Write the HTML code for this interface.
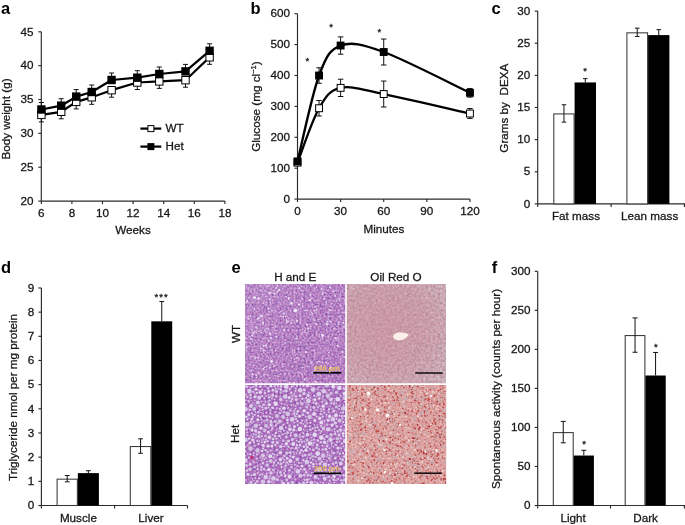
<!DOCTYPE html>
<html><head><meta charset="utf-8"><title>Figure</title>
<style>html,body{margin:0;padding:0;background:#fff}svg{display:block}text{font-family:'Liberation Sans', Arial, sans-serif}</style>
</head><body>
<svg width="685" height="525" viewBox="0 0 685 525" font-family='"Liberation Sans", Arial, sans-serif'>
<defs><clipPath id="c_hewt"><rect x="245" y="283.9" width="100.2" height="99.4"/></clipPath><clipPath id="c_orowt"><rect x="346.8" y="283.9" width="99.2" height="99.3"/></clipPath><clipPath id="c_hehet"><rect x="245" y="385" width="100.2" height="99"/></clipPath><clipPath id="c_orohet"><rect x="346.8" y="385" width="99.4" height="99"/></clipPath>
<radialGradient id="g_orowt" cx="0.4" cy="0.45" r="0.85"><stop offset="0" stop-color="#cb8494" stop-opacity="0.58"/><stop offset="0.5" stop-color="#cb8494" stop-opacity="0.45"/><stop offset="1" stop-color="#cb8c9a" stop-opacity="0.08"/></radialGradient>
<linearGradient id="g_hewt" x1="0" y1="0" x2="1" y2="1"><stop offset="0" stop-color="#c9a6d6" stop-opacity="0.25"/><stop offset="0.5" stop-color="#c9a6d6" stop-opacity="0"/><stop offset="1" stop-color="#b05cb0" stop-opacity="0.15"/></linearGradient>
<filter id="f_hewt" x="0" y="0" width="100%" height="100%" color-interpolation-filters="sRGB"><feTurbulence type="fractalNoise" baseFrequency="0.5" numOctaves="2" seed="3"/><feColorMatrix type="matrix" values="0.5 0.22 0 0 0.354  0.66 0.0 0 0 0.180  0.36 -0.04 0 0 0.609  0 0 0 0 1"/><feGaussianBlur stdDeviation="0.35"/></filter><filter id="f_orowt" x="0" y="0" width="100%" height="100%" color-interpolation-filters="sRGB"><feTurbulence type="fractalNoise" baseFrequency="0.42" numOctaves="2" seed="5"/><feColorMatrix type="matrix" values="0.3 0.0 0 0 0.638  0.42 0.22 0 0 0.378  0.4 0.18 0 0 0.443  0 0 0 0 1"/><feGaussianBlur stdDeviation="0.35"/></filter><filter id="f_hehet" x="0" y="0" width="100%" height="100%" color-interpolation-filters="sRGB"><feTurbulence type="fractalNoise" baseFrequency="0.5" numOctaves="2" seed="8"/><feColorMatrix type="matrix" values="0.36 0.2 0 0 0.391  0.48 0.0 0 0 0.191  0.25 -0.04 0 0 0.636  0 0 0 0 1"/><feGaussianBlur stdDeviation="0.35"/></filter><filter id="f_orohet" x="0" y="0" width="100%" height="100%" color-interpolation-filters="sRGB"><feTurbulence type="fractalNoise" baseFrequency="0.5" numOctaves="2" seed="9"/><feColorMatrix type="matrix" values="0.22 0.0 0 0 0.749  0.36 0.12 0 0 0.399  0.34 0.18 0 0 0.371  0 0 0 0 1"/><feGaussianBlur stdDeviation="0.35"/></filter>
<filter id="soft" x="-5%" y="-5%" width="110%" height="110%" color-interpolation-filters="sRGB"><feGaussianBlur stdDeviation="0.45"/></filter>
</defs>
<rect width="685" height="525" fill="#fff"/>
<g opacity="0.999">
<text x="1.00" y="14.40" font-size="16.5" text-anchor="start" font-weight="bold" fill="#000" >a</text>
<line x1="41.30" y1="31.80" x2="41.30" y2="201.10" stroke="#2b2b2b" stroke-width="1.15" />
<line x1="41.30" y1="201.10" x2="224.90" y2="201.10" stroke="#2b2b2b" stroke-width="1.15" />
<line x1="38.30" y1="201.10" x2="41.30" y2="201.10" stroke="#2b2b2b" stroke-width="1.15" />
<text x="33.50" y="204.80" font-size="11.7" text-anchor="end" fill="#161616"  stroke="#161616" stroke-width="0.28">20</text>
<line x1="38.30" y1="167.24" x2="41.30" y2="167.24" stroke="#2b2b2b" stroke-width="1.15" />
<text x="33.50" y="170.94" font-size="11.7" text-anchor="end" fill="#161616"  stroke="#161616" stroke-width="0.28">25</text>
<line x1="38.30" y1="133.38" x2="41.30" y2="133.38" stroke="#2b2b2b" stroke-width="1.15" />
<text x="33.50" y="137.08" font-size="11.7" text-anchor="end" fill="#161616"  stroke="#161616" stroke-width="0.28">30</text>
<line x1="38.30" y1="99.52" x2="41.30" y2="99.52" stroke="#2b2b2b" stroke-width="1.15" />
<text x="33.50" y="103.22" font-size="11.7" text-anchor="end" fill="#161616"  stroke="#161616" stroke-width="0.28">35</text>
<line x1="38.30" y1="65.66" x2="41.30" y2="65.66" stroke="#2b2b2b" stroke-width="1.15" />
<text x="33.50" y="69.36" font-size="11.7" text-anchor="end" fill="#161616"  stroke="#161616" stroke-width="0.28">40</text>
<line x1="38.30" y1="31.80" x2="41.30" y2="31.80" stroke="#2b2b2b" stroke-width="1.15" />
<text x="33.50" y="35.50" font-size="11.7" text-anchor="end" fill="#161616"  stroke="#161616" stroke-width="0.28">45</text>
<line x1="41.30" y1="201.10" x2="41.30" y2="204.10" stroke="#2b2b2b" stroke-width="1.15" />
<text x="41.30" y="216.80" font-size="11.7" text-anchor="middle" fill="#161616"  stroke="#161616" stroke-width="0.28">6</text>
<line x1="71.90" y1="201.10" x2="71.90" y2="204.10" stroke="#2b2b2b" stroke-width="1.15" />
<text x="71.90" y="216.80" font-size="11.7" text-anchor="middle" fill="#161616"  stroke="#161616" stroke-width="0.28">8</text>
<line x1="102.50" y1="201.10" x2="102.50" y2="204.10" stroke="#2b2b2b" stroke-width="1.15" />
<text x="102.50" y="216.80" font-size="11.7" text-anchor="middle" fill="#161616"  stroke="#161616" stroke-width="0.28">10</text>
<line x1="133.10" y1="201.10" x2="133.10" y2="204.10" stroke="#2b2b2b" stroke-width="1.15" />
<text x="133.10" y="216.80" font-size="11.7" text-anchor="middle" fill="#161616"  stroke="#161616" stroke-width="0.28">12</text>
<line x1="163.70" y1="201.10" x2="163.70" y2="204.10" stroke="#2b2b2b" stroke-width="1.15" />
<text x="163.70" y="216.80" font-size="11.7" text-anchor="middle" fill="#161616"  stroke="#161616" stroke-width="0.28">14</text>
<line x1="194.30" y1="201.10" x2="194.30" y2="204.10" stroke="#2b2b2b" stroke-width="1.15" />
<text x="194.30" y="216.80" font-size="11.7" text-anchor="middle" fill="#161616"  stroke="#161616" stroke-width="0.28">16</text>
<line x1="224.90" y1="201.10" x2="224.90" y2="204.10" stroke="#2b2b2b" stroke-width="1.15" />
<text x="224.90" y="216.80" font-size="11.7" text-anchor="middle" fill="#161616"  stroke="#161616" stroke-width="0.28">18</text>
<text x="133.00" y="233.60" font-size="11.7" text-anchor="middle" fill="#161616"  stroke="#161616" stroke-width="0.28">Weeks</text>
<text x="10.00" y="119.00" font-size="11.7" text-anchor="middle" transform="rotate(-90 10.00 119.00)" fill="#161616"  stroke="#161616" stroke-width="0.28">Body weight (g)</text>
<line x1="41.40" y1="114.90" x2="41.40" y2="121.90" stroke="#111" stroke-width="1" />
<line x1="38.90" y1="121.90" x2="43.90" y2="121.90" stroke="#111" stroke-width="1" />
<line x1="61.20" y1="111.80" x2="61.20" y2="118.80" stroke="#111" stroke-width="1" />
<line x1="58.70" y1="118.80" x2="63.70" y2="118.80" stroke="#111" stroke-width="1" />
<line x1="76.20" y1="101.90" x2="76.20" y2="108.90" stroke="#111" stroke-width="1" />
<line x1="73.70" y1="108.90" x2="78.70" y2="108.90" stroke="#111" stroke-width="1" />
<line x1="91.70" y1="97.30" x2="91.70" y2="104.30" stroke="#111" stroke-width="1" />
<line x1="89.20" y1="104.30" x2="94.20" y2="104.30" stroke="#111" stroke-width="1" />
<line x1="111.60" y1="90.20" x2="111.60" y2="97.20" stroke="#111" stroke-width="1" />
<line x1="109.10" y1="97.20" x2="114.10" y2="97.20" stroke="#111" stroke-width="1" />
<line x1="137.30" y1="82.50" x2="137.30" y2="89.50" stroke="#111" stroke-width="1" />
<line x1="134.80" y1="89.50" x2="139.80" y2="89.50" stroke="#111" stroke-width="1" />
<line x1="159.30" y1="81.40" x2="159.30" y2="88.40" stroke="#111" stroke-width="1" />
<line x1="156.80" y1="88.40" x2="161.80" y2="88.40" stroke="#111" stroke-width="1" />
<line x1="185.50" y1="80.20" x2="185.50" y2="87.20" stroke="#111" stroke-width="1" />
<line x1="183.00" y1="87.20" x2="188.00" y2="87.20" stroke="#111" stroke-width="1" />
<line x1="209.60" y1="57.30" x2="209.60" y2="64.30" stroke="#111" stroke-width="1" />
<line x1="207.10" y1="64.30" x2="212.10" y2="64.30" stroke="#111" stroke-width="1" />
<line x1="41.40" y1="102.50" x2="41.40" y2="109.50" stroke="#111" stroke-width="1" />
<line x1="38.90" y1="102.50" x2="43.90" y2="102.50" stroke="#111" stroke-width="1" />
<line x1="61.20" y1="98.70" x2="61.20" y2="105.70" stroke="#111" stroke-width="1" />
<line x1="58.70" y1="98.70" x2="63.70" y2="98.70" stroke="#111" stroke-width="1" />
<line x1="76.20" y1="89.60" x2="76.20" y2="96.60" stroke="#111" stroke-width="1" />
<line x1="73.70" y1="89.60" x2="78.70" y2="89.60" stroke="#111" stroke-width="1" />
<line x1="91.70" y1="85.00" x2="91.70" y2="92.00" stroke="#111" stroke-width="1" />
<line x1="89.20" y1="85.00" x2="94.20" y2="85.00" stroke="#111" stroke-width="1" />
<line x1="111.60" y1="73.00" x2="111.60" y2="80.00" stroke="#111" stroke-width="1" />
<line x1="109.10" y1="73.00" x2="114.10" y2="73.00" stroke="#111" stroke-width="1" />
<line x1="137.30" y1="70.70" x2="137.30" y2="77.70" stroke="#111" stroke-width="1" />
<line x1="134.80" y1="70.70" x2="139.80" y2="70.70" stroke="#111" stroke-width="1" />
<line x1="159.30" y1="67.00" x2="159.30" y2="74.00" stroke="#111" stroke-width="1" />
<line x1="156.80" y1="67.00" x2="161.80" y2="67.00" stroke="#111" stroke-width="1" />
<line x1="185.50" y1="64.40" x2="185.50" y2="71.40" stroke="#111" stroke-width="1" />
<line x1="183.00" y1="64.40" x2="188.00" y2="64.40" stroke="#111" stroke-width="1" />
<line x1="209.60" y1="43.80" x2="209.60" y2="50.80" stroke="#111" stroke-width="1" />
<line x1="207.10" y1="43.80" x2="212.10" y2="43.80" stroke="#111" stroke-width="1" />
<path d="M41.4,114.9 L61.2,111.8 L76.2,101.9 L91.7,97.3 L111.6,90.2 L137.3,82.5 L159.3,81.4 L185.5,80.2 L209.6,57.3" fill="none" stroke="#000" stroke-width="2.25" stroke-linejoin="round"/>
<rect x="37.70" y="111.20" width="7.40" height="7.40" fill="#fff" stroke="#000" stroke-width="1"/>
<rect x="57.50" y="108.10" width="7.40" height="7.40" fill="#fff" stroke="#000" stroke-width="1"/>
<rect x="72.50" y="98.20" width="7.40" height="7.40" fill="#fff" stroke="#000" stroke-width="1"/>
<rect x="88.00" y="93.60" width="7.40" height="7.40" fill="#fff" stroke="#000" stroke-width="1"/>
<rect x="107.90" y="86.50" width="7.40" height="7.40" fill="#fff" stroke="#000" stroke-width="1"/>
<rect x="133.60" y="78.80" width="7.40" height="7.40" fill="#fff" stroke="#000" stroke-width="1"/>
<rect x="155.60" y="77.70" width="7.40" height="7.40" fill="#fff" stroke="#000" stroke-width="1"/>
<rect x="181.80" y="76.50" width="7.40" height="7.40" fill="#fff" stroke="#000" stroke-width="1"/>
<rect x="205.90" y="53.60" width="7.40" height="7.40" fill="#fff" stroke="#000" stroke-width="1"/>
<path d="M41.4,109.5 L61.2,105.7 L76.2,96.6 L91.7,92.0 L111.6,80.0 L137.3,77.7 L159.3,74.0 L185.5,71.4 L209.6,50.8" fill="none" stroke="#000" stroke-width="2.25" stroke-linejoin="round"/>
<rect x="37.20" y="105.30" width="8.40" height="8.40" fill="#000"/>
<rect x="57.00" y="101.50" width="8.40" height="8.40" fill="#000"/>
<rect x="72.00" y="92.40" width="8.40" height="8.40" fill="#000"/>
<rect x="87.50" y="87.80" width="8.40" height="8.40" fill="#000"/>
<rect x="107.40" y="75.80" width="8.40" height="8.40" fill="#000"/>
<rect x="133.10" y="73.50" width="8.40" height="8.40" fill="#000"/>
<rect x="155.10" y="69.80" width="8.40" height="8.40" fill="#000"/>
<rect x="181.30" y="67.20" width="8.40" height="8.40" fill="#000"/>
<rect x="205.40" y="46.60" width="8.40" height="8.40" fill="#000"/>
<line x1="140.40" y1="128.60" x2="161.30" y2="128.60" stroke="#000" stroke-width="2.25" />
<rect x="147.90" y="125.60" width="6.00" height="6.00" fill="#fff" stroke="#000" stroke-width="1"/>
<text x="165.60" y="132.30" font-size="11.7" text-anchor="start" fill="#161616"  stroke="#161616" stroke-width="0.28">WT</text>
<line x1="140.40" y1="146.60" x2="161.30" y2="146.60" stroke="#000" stroke-width="2.25" />
<rect x="147.40" y="143.10" width="7.00" height="7.00" fill="#000"/>
<text x="165.60" y="150.30" font-size="11.7" text-anchor="start" fill="#161616"  stroke="#161616" stroke-width="0.28">Het</text>
<text x="250.60" y="14.40" font-size="16.5" text-anchor="start" font-weight="bold" fill="#000" >b</text>
<line x1="297.50" y1="13.70" x2="297.50" y2="199.10" stroke="#2b2b2b" stroke-width="1.15" />
<line x1="297.50" y1="199.10" x2="469.94" y2="199.10" stroke="#2b2b2b" stroke-width="1.15" />
<line x1="294.50" y1="199.10" x2="297.50" y2="199.10" stroke="#2b2b2b" stroke-width="1.15" />
<text x="290.00" y="202.80" font-size="11.7" text-anchor="end" fill="#161616"  stroke="#161616" stroke-width="0.28">0</text>
<line x1="294.50" y1="168.20" x2="297.50" y2="168.20" stroke="#2b2b2b" stroke-width="1.15" />
<text x="290.00" y="171.90" font-size="11.7" text-anchor="end" fill="#161616"  stroke="#161616" stroke-width="0.28">100</text>
<line x1="294.50" y1="137.30" x2="297.50" y2="137.30" stroke="#2b2b2b" stroke-width="1.15" />
<text x="290.00" y="141.00" font-size="11.7" text-anchor="end" fill="#161616"  stroke="#161616" stroke-width="0.28">200</text>
<line x1="294.50" y1="106.40" x2="297.50" y2="106.40" stroke="#2b2b2b" stroke-width="1.15" />
<text x="290.00" y="110.10" font-size="11.7" text-anchor="end" fill="#161616"  stroke="#161616" stroke-width="0.28">300</text>
<line x1="294.50" y1="75.50" x2="297.50" y2="75.50" stroke="#2b2b2b" stroke-width="1.15" />
<text x="290.00" y="79.20" font-size="11.7" text-anchor="end" fill="#161616"  stroke="#161616" stroke-width="0.28">400</text>
<line x1="294.50" y1="44.60" x2="297.50" y2="44.60" stroke="#2b2b2b" stroke-width="1.15" />
<text x="290.00" y="48.30" font-size="11.7" text-anchor="end" fill="#161616"  stroke="#161616" stroke-width="0.28">500</text>
<line x1="294.50" y1="13.70" x2="297.50" y2="13.70" stroke="#2b2b2b" stroke-width="1.15" />
<text x="290.00" y="17.40" font-size="11.7" text-anchor="end" fill="#161616"  stroke="#161616" stroke-width="0.28">600</text>
<line x1="297.50" y1="199.10" x2="297.50" y2="202.10" stroke="#2b2b2b" stroke-width="1.15" />
<text x="297.50" y="215.00" font-size="11.7" text-anchor="middle" fill="#161616"  stroke="#161616" stroke-width="0.28">0</text>
<line x1="340.61" y1="199.10" x2="340.61" y2="202.10" stroke="#2b2b2b" stroke-width="1.15" />
<text x="340.61" y="215.00" font-size="11.7" text-anchor="middle" fill="#161616"  stroke="#161616" stroke-width="0.28">30</text>
<line x1="383.72" y1="199.10" x2="383.72" y2="202.10" stroke="#2b2b2b" stroke-width="1.15" />
<text x="383.72" y="215.00" font-size="11.7" text-anchor="middle" fill="#161616"  stroke="#161616" stroke-width="0.28">60</text>
<line x1="426.83" y1="199.10" x2="426.83" y2="202.10" stroke="#2b2b2b" stroke-width="1.15" />
<text x="426.83" y="215.00" font-size="11.7" text-anchor="middle" fill="#161616"  stroke="#161616" stroke-width="0.28">90</text>
<line x1="469.94" y1="199.10" x2="469.94" y2="202.10" stroke="#2b2b2b" stroke-width="1.15" />
<text x="469.94" y="215.00" font-size="11.7" text-anchor="middle" fill="#161616"  stroke="#161616" stroke-width="0.28">120</text>
<text x="384.00" y="232.60" font-size="11.7" text-anchor="middle" fill="#161616"  stroke="#161616" stroke-width="0.28">Minutes</text>
<text x="260.1" y="106.6" font-size="11.7" text-anchor="middle" transform="rotate(-90 260.1 106.6)" fill="#161616" stroke="#161616" stroke-width="0.28">Glucose (mg cl<tspan font-size="7.5" dy="-4">−1</tspan><tspan dy="4">)</tspan></text>
<line x1="297.50" y1="160.17" x2="297.50" y2="165.11" stroke="#111" stroke-width="1" />
<line x1="294.75" y1="160.17" x2="300.25" y2="160.17" stroke="#111" stroke-width="1" />
<line x1="294.75" y1="165.11" x2="300.25" y2="165.11" stroke="#111" stroke-width="1" />
<line x1="319.06" y1="100.53" x2="319.06" y2="115.98" stroke="#111" stroke-width="1" />
<line x1="316.31" y1="100.53" x2="321.81" y2="100.53" stroke="#111" stroke-width="1" />
<line x1="316.31" y1="115.98" x2="321.81" y2="115.98" stroke="#111" stroke-width="1" />
<line x1="340.61" y1="79.21" x2="340.61" y2="96.51" stroke="#111" stroke-width="1" />
<line x1="337.86" y1="79.21" x2="343.36" y2="79.21" stroke="#111" stroke-width="1" />
<line x1="337.86" y1="96.51" x2="343.36" y2="96.51" stroke="#111" stroke-width="1" />
<line x1="383.72" y1="81.06" x2="383.72" y2="107.02" stroke="#111" stroke-width="1" />
<line x1="380.97" y1="81.06" x2="386.47" y2="81.06" stroke="#111" stroke-width="1" />
<line x1="380.97" y1="107.02" x2="386.47" y2="107.02" stroke="#111" stroke-width="1" />
<line x1="469.94" y1="108.56" x2="469.94" y2="118.45" stroke="#111" stroke-width="1" />
<line x1="467.19" y1="108.56" x2="472.69" y2="108.56" stroke="#111" stroke-width="1" />
<line x1="467.19" y1="118.45" x2="472.69" y2="118.45" stroke="#111" stroke-width="1" />
<line x1="297.50" y1="158.93" x2="297.50" y2="163.87" stroke="#111" stroke-width="1" />
<line x1="294.75" y1="158.93" x2="300.25" y2="158.93" stroke="#111" stroke-width="1" />
<line x1="294.75" y1="163.87" x2="300.25" y2="163.87" stroke="#111" stroke-width="1" />
<line x1="319.06" y1="67.78" x2="319.06" y2="83.22" stroke="#111" stroke-width="1" />
<line x1="316.31" y1="67.78" x2="321.81" y2="67.78" stroke="#111" stroke-width="1" />
<line x1="316.31" y1="83.22" x2="321.81" y2="83.22" stroke="#111" stroke-width="1" />
<line x1="340.61" y1="36.88" x2="340.61" y2="54.18" stroke="#111" stroke-width="1" />
<line x1="337.86" y1="36.88" x2="343.36" y2="36.88" stroke="#111" stroke-width="1" />
<line x1="337.86" y1="54.18" x2="343.36" y2="54.18" stroke="#111" stroke-width="1" />
<line x1="383.72" y1="39.04" x2="383.72" y2="64.99" stroke="#111" stroke-width="1" />
<line x1="380.97" y1="39.04" x2="386.47" y2="39.04" stroke="#111" stroke-width="1" />
<line x1="380.97" y1="64.99" x2="386.47" y2="64.99" stroke="#111" stroke-width="1" />
<line x1="469.94" y1="88.48" x2="469.94" y2="97.13" stroke="#111" stroke-width="1" />
<line x1="467.19" y1="88.48" x2="472.69" y2="88.48" stroke="#111" stroke-width="1" />
<line x1="467.19" y1="97.13" x2="472.69" y2="97.13" stroke="#111" stroke-width="1" />
<path d="M297.50,162.64 C301.09,153.57 311.87,120.72 319.06,108.25 C326.24,95.79 329.83,90.23 340.61,87.86 C351.39,85.49 362.17,89.77 383.72,94.04 C405.28,98.31 455.57,110.26 469.94,113.51" fill="none" stroke="#000" stroke-width="2.35"/>
<rect x="294.05" y="159.19" width="6.90" height="6.90" fill="#fff" stroke="#000" stroke-width="1"/>
<rect x="315.61" y="104.80" width="6.90" height="6.90" fill="#fff" stroke="#000" stroke-width="1"/>
<rect x="337.16" y="84.41" width="6.90" height="6.90" fill="#fff" stroke="#000" stroke-width="1"/>
<rect x="380.27" y="90.59" width="6.90" height="6.90" fill="#fff" stroke="#000" stroke-width="1"/>
<rect x="466.49" y="110.06" width="6.90" height="6.90" fill="#fff" stroke="#000" stroke-width="1"/>
<path d="M297.50,161.40 C301.09,147.08 311.87,94.81 319.06,75.50 C326.24,56.19 329.83,49.44 340.61,45.53 C351.39,41.61 362.17,44.14 383.72,52.02 C405.28,59.90 455.57,86.01 469.94,92.80" fill="none" stroke="#000" stroke-width="2.35"/>
<rect x="293.55" y="157.45" width="7.90" height="7.90" fill="#000"/>
<rect x="315.11" y="71.55" width="7.90" height="7.90" fill="#000"/>
<rect x="336.66" y="41.58" width="7.90" height="7.90" fill="#000"/>
<rect x="379.77" y="48.07" width="7.90" height="7.90" fill="#000"/>
<rect x="465.99" y="88.85" width="7.90" height="7.90" fill="#000"/>
<text x="307.30" y="63.50" font-size="9.5" text-anchor="middle" fill="#161616"  stroke="#161616" stroke-width="0.28">*</text>
<text x="331.00" y="29.50" font-size="9.5" text-anchor="middle" fill="#161616"  stroke="#161616" stroke-width="0.28">*</text>
<text x="379.30" y="34.50" font-size="9.5" text-anchor="middle" fill="#161616"  stroke="#161616" stroke-width="0.28">*</text>
<text x="491.60" y="14.40" font-size="16.5" text-anchor="start" font-weight="bold" fill="#000" >c</text>
<line x1="537.70" y1="11.12" x2="537.70" y2="203.90" stroke="#2b2b2b" stroke-width="1.15" />
<line x1="537.70" y1="203.90" x2="685.00" y2="203.90" stroke="#2b2b2b" stroke-width="1.15" />
<line x1="534.70" y1="203.90" x2="537.70" y2="203.90" stroke="#2b2b2b" stroke-width="1.15" />
<text x="530.20" y="207.60" font-size="11.7" text-anchor="end" fill="#161616"  stroke="#161616" stroke-width="0.28">0</text>
<line x1="534.70" y1="171.77" x2="537.70" y2="171.77" stroke="#2b2b2b" stroke-width="1.15" />
<text x="530.20" y="175.47" font-size="11.7" text-anchor="end" fill="#161616"  stroke="#161616" stroke-width="0.28">5</text>
<line x1="534.70" y1="139.64" x2="537.70" y2="139.64" stroke="#2b2b2b" stroke-width="1.15" />
<text x="530.20" y="143.34" font-size="11.7" text-anchor="end" fill="#161616"  stroke="#161616" stroke-width="0.28">10</text>
<line x1="534.70" y1="107.51" x2="537.70" y2="107.51" stroke="#2b2b2b" stroke-width="1.15" />
<text x="530.20" y="111.21" font-size="11.7" text-anchor="end" fill="#161616"  stroke="#161616" stroke-width="0.28">15</text>
<line x1="534.70" y1="75.38" x2="537.70" y2="75.38" stroke="#2b2b2b" stroke-width="1.15" />
<text x="530.20" y="79.08" font-size="11.7" text-anchor="end" fill="#161616"  stroke="#161616" stroke-width="0.28">20</text>
<line x1="534.70" y1="43.25" x2="537.70" y2="43.25" stroke="#2b2b2b" stroke-width="1.15" />
<text x="530.20" y="46.95" font-size="11.7" text-anchor="end" fill="#161616"  stroke="#161616" stroke-width="0.28">25</text>
<line x1="534.70" y1="11.12" x2="537.70" y2="11.12" stroke="#2b2b2b" stroke-width="1.15" />
<text x="530.20" y="14.82" font-size="11.7" text-anchor="end" fill="#161616"  stroke="#161616" stroke-width="0.28">30</text>
<line x1="537.70" y1="203.90" x2="537.70" y2="206.90" stroke="#2b2b2b" stroke-width="1.15" />
<line x1="611.10" y1="203.90" x2="611.10" y2="206.90" stroke="#2b2b2b" stroke-width="1.15" />
<line x1="684.40" y1="203.90" x2="684.40" y2="206.90" stroke="#2b2b2b" stroke-width="1.15" />
<text x="576.00" y="220.20" font-size="11.7" text-anchor="middle" fill="#161616"  stroke="#161616" stroke-width="0.28">Fat mass</text>
<text x="649.70" y="220.20" font-size="11.7" text-anchor="middle" fill="#161616"  stroke="#161616" stroke-width="0.28">Lean mass</text>
<text x="507.8" y="108.2" font-size="11.7" text-anchor="middle" transform="rotate(-90 507.8 108.2)" fill="#161616" stroke="#161616" stroke-width="0.28" xml:space="preserve">Grams by  DEXA</text>
<rect x="553.80" y="113.92" width="20.30" height="89.98" fill="#fff" stroke="#383838" stroke-width="1.05"/>
<line x1="563.95" y1="104.75" x2="563.95" y2="122.10" stroke="#1c1c1c" stroke-width="1.05" />
<line x1="561.70" y1="104.75" x2="566.20" y2="104.75" stroke="#1c1c1c" stroke-width="1.05" />
<line x1="561.70" y1="122.10" x2="566.20" y2="122.10" stroke="#1c1c1c" stroke-width="1.05" />
<rect x="574.60" y="82.45" width="21.40" height="121.45" fill="#000"/>
<line x1="585.30" y1="78.59" x2="585.30" y2="82.45" stroke="#1c1c1c" stroke-width="1.05" />
<line x1="583.05" y1="78.59" x2="587.55" y2="78.59" stroke="#1c1c1c" stroke-width="1.05" />
<rect x="626.90" y="32.83" width="20.70" height="171.07" fill="#fff" stroke="#383838" stroke-width="1.05"/>
<line x1="637.25" y1="28.15" x2="637.25" y2="36.50" stroke="#1c1c1c" stroke-width="1.05" />
<line x1="635.00" y1="28.15" x2="639.50" y2="28.15" stroke="#1c1c1c" stroke-width="1.05" />
<line x1="635.00" y1="36.50" x2="639.50" y2="36.50" stroke="#1c1c1c" stroke-width="1.05" />
<rect x="648.10" y="35.09" width="21.30" height="168.81" fill="#000"/>
<line x1="658.75" y1="29.63" x2="658.75" y2="35.09" stroke="#1c1c1c" stroke-width="1.05" />
<line x1="656.50" y1="29.63" x2="661.00" y2="29.63" stroke="#1c1c1c" stroke-width="1.05" />
<text x="585.20" y="73.80" font-size="9.5" text-anchor="middle" fill="#161616"  stroke="#161616" stroke-width="0.28">*</text>
<text x="0.90" y="273.20" font-size="16.5" text-anchor="start" font-weight="bold" fill="#000" >d</text>
<line x1="41.40" y1="287.97" x2="41.40" y2="505.50" stroke="#2b2b2b" stroke-width="1.15" />
<line x1="41.40" y1="505.50" x2="187.50" y2="505.50" stroke="#2b2b2b" stroke-width="1.15" />
<line x1="38.40" y1="505.50" x2="41.40" y2="505.50" stroke="#2b2b2b" stroke-width="1.15" />
<text x="34.20" y="509.20" font-size="11.7" text-anchor="end" fill="#161616"  stroke="#161616" stroke-width="0.28">0</text>
<line x1="38.40" y1="481.33" x2="41.40" y2="481.33" stroke="#2b2b2b" stroke-width="1.15" />
<text x="34.20" y="485.03" font-size="11.7" text-anchor="end" fill="#161616"  stroke="#161616" stroke-width="0.28">1</text>
<line x1="38.40" y1="457.16" x2="41.40" y2="457.16" stroke="#2b2b2b" stroke-width="1.15" />
<text x="34.20" y="460.86" font-size="11.7" text-anchor="end" fill="#161616"  stroke="#161616" stroke-width="0.28">2</text>
<line x1="38.40" y1="432.99" x2="41.40" y2="432.99" stroke="#2b2b2b" stroke-width="1.15" />
<text x="34.20" y="436.69" font-size="11.7" text-anchor="end" fill="#161616"  stroke="#161616" stroke-width="0.28">3</text>
<line x1="38.40" y1="408.82" x2="41.40" y2="408.82" stroke="#2b2b2b" stroke-width="1.15" />
<text x="34.20" y="412.52" font-size="11.7" text-anchor="end" fill="#161616"  stroke="#161616" stroke-width="0.28">4</text>
<line x1="38.40" y1="384.65" x2="41.40" y2="384.65" stroke="#2b2b2b" stroke-width="1.15" />
<text x="34.20" y="388.35" font-size="11.7" text-anchor="end" fill="#161616"  stroke="#161616" stroke-width="0.28">5</text>
<line x1="38.40" y1="360.48" x2="41.40" y2="360.48" stroke="#2b2b2b" stroke-width="1.15" />
<text x="34.20" y="364.18" font-size="11.7" text-anchor="end" fill="#161616"  stroke="#161616" stroke-width="0.28">6</text>
<line x1="38.40" y1="336.31" x2="41.40" y2="336.31" stroke="#2b2b2b" stroke-width="1.15" />
<text x="34.20" y="340.01" font-size="11.7" text-anchor="end" fill="#161616"  stroke="#161616" stroke-width="0.28">7</text>
<line x1="38.40" y1="312.14" x2="41.40" y2="312.14" stroke="#2b2b2b" stroke-width="1.15" />
<text x="34.20" y="315.84" font-size="11.7" text-anchor="end" fill="#161616"  stroke="#161616" stroke-width="0.28">8</text>
<line x1="38.40" y1="287.97" x2="41.40" y2="287.97" stroke="#2b2b2b" stroke-width="1.15" />
<text x="34.20" y="291.67" font-size="11.7" text-anchor="end" fill="#161616"  stroke="#161616" stroke-width="0.28">9</text>
<line x1="41.40" y1="505.50" x2="41.40" y2="508.50" stroke="#2b2b2b" stroke-width="1.15" />
<line x1="114.60" y1="505.50" x2="114.60" y2="508.50" stroke="#2b2b2b" stroke-width="1.15" />
<line x1="187.50" y1="505.50" x2="187.50" y2="508.50" stroke="#2b2b2b" stroke-width="1.15" />
<text x="78.40" y="521.70" font-size="11.7" text-anchor="middle" fill="#161616"  stroke="#161616" stroke-width="0.28">Muscle</text>
<text x="151.00" y="521.70" font-size="11.7" text-anchor="middle" fill="#161616"  stroke="#161616" stroke-width="0.28">Liver</text>
<text x="17.10" y="397.50" font-size="11.7" text-anchor="middle" transform="rotate(-90 17.10 397.50)" fill="#161616"  stroke="#161616" stroke-width="0.28">Triglyceride nmol per mg protein</text>
<rect x="57.10" y="479.17" width="20.25" height="26.33" fill="#fff" stroke="#383838" stroke-width="1.05"/>
<line x1="67.22" y1="475.53" x2="67.22" y2="481.81" stroke="#1c1c1c" stroke-width="1.05" />
<line x1="64.82" y1="475.53" x2="69.62" y2="475.53" stroke="#1c1c1c" stroke-width="1.05" />
<line x1="64.82" y1="481.81" x2="69.62" y2="481.81" stroke="#1c1c1c" stroke-width="1.05" />
<rect x="77.85" y="473.11" width="21.05" height="32.39" fill="#000"/>
<line x1="88.38" y1="470.70" x2="88.38" y2="473.11" stroke="#1c1c1c" stroke-width="1.05" />
<line x1="85.97" y1="470.70" x2="90.78" y2="470.70" stroke="#1c1c1c" stroke-width="1.05" />
<rect x="130.30" y="446.54" width="20.50" height="58.96" fill="#fff" stroke="#383838" stroke-width="1.05"/>
<line x1="140.55" y1="438.79" x2="140.55" y2="453.29" stroke="#1c1c1c" stroke-width="1.05" />
<line x1="138.15" y1="438.79" x2="142.95" y2="438.79" stroke="#1c1c1c" stroke-width="1.05" />
<line x1="138.15" y1="453.29" x2="142.95" y2="453.29" stroke="#1c1c1c" stroke-width="1.05" />
<rect x="151.30" y="321.32" width="20.90" height="184.18" fill="#000"/>
<line x1="161.75" y1="301.51" x2="161.75" y2="321.32" stroke="#1c1c1c" stroke-width="1.05" />
<line x1="159.35" y1="301.51" x2="164.15" y2="301.51" stroke="#1c1c1c" stroke-width="1.05" />
<text x="161.60" y="300.20" font-size="9.5" text-anchor="middle" fill="#161616" letter-spacing="0.95" stroke="#161616" stroke-width="0.28">***</text>
<text x="491.80" y="273.20" font-size="16.5" text-anchor="start" font-weight="bold" fill="#000" >f</text>
<line x1="537.70" y1="271.29" x2="537.70" y2="505.50" stroke="#2b2b2b" stroke-width="1.15" />
<line x1="537.70" y1="505.50" x2="685.00" y2="505.50" stroke="#2b2b2b" stroke-width="1.15" />
<line x1="534.70" y1="505.50" x2="537.70" y2="505.50" stroke="#2b2b2b" stroke-width="1.15" />
<text x="530.40" y="509.20" font-size="11.7" text-anchor="end" fill="#161616"  stroke="#161616" stroke-width="0.28">0</text>
<line x1="534.70" y1="466.47" x2="537.70" y2="466.47" stroke="#2b2b2b" stroke-width="1.15" />
<text x="530.40" y="470.17" font-size="11.7" text-anchor="end" fill="#161616"  stroke="#161616" stroke-width="0.28">50</text>
<line x1="534.70" y1="427.43" x2="537.70" y2="427.43" stroke="#2b2b2b" stroke-width="1.15" />
<text x="530.40" y="431.13" font-size="11.7" text-anchor="end" fill="#161616"  stroke="#161616" stroke-width="0.28">100</text>
<line x1="534.70" y1="388.39" x2="537.70" y2="388.39" stroke="#2b2b2b" stroke-width="1.15" />
<text x="530.40" y="392.09" font-size="11.7" text-anchor="end" fill="#161616"  stroke="#161616" stroke-width="0.28">150</text>
<line x1="534.70" y1="349.36" x2="537.70" y2="349.36" stroke="#2b2b2b" stroke-width="1.15" />
<text x="530.40" y="353.06" font-size="11.7" text-anchor="end" fill="#161616"  stroke="#161616" stroke-width="0.28">200</text>
<line x1="534.70" y1="310.33" x2="537.70" y2="310.33" stroke="#2b2b2b" stroke-width="1.15" />
<text x="530.40" y="314.03" font-size="11.7" text-anchor="end" fill="#161616"  stroke="#161616" stroke-width="0.28">250</text>
<line x1="534.70" y1="271.29" x2="537.70" y2="271.29" stroke="#2b2b2b" stroke-width="1.15" />
<text x="530.40" y="274.99" font-size="11.7" text-anchor="end" fill="#161616"  stroke="#161616" stroke-width="0.28">300</text>
<line x1="537.70" y1="505.50" x2="537.70" y2="508.50" stroke="#2b2b2b" stroke-width="1.15" />
<line x1="610.50" y1="505.50" x2="610.50" y2="508.50" stroke="#2b2b2b" stroke-width="1.15" />
<line x1="684.40" y1="505.50" x2="684.40" y2="508.50" stroke="#2b2b2b" stroke-width="1.15" />
<text x="573.20" y="521.50" font-size="11.7" text-anchor="middle" fill="#161616"  stroke="#161616" stroke-width="0.28">Light</text>
<text x="645.60" y="521.50" font-size="11.7" text-anchor="middle" fill="#161616"  stroke="#161616" stroke-width="0.28">Dark</text>
<text x="500.40" y="389.00" font-size="11.7" text-anchor="middle" transform="rotate(-90 500.40 389.00)" fill="#161616"  stroke="#161616" stroke-width="0.28">Spontaneous activity (counts per hour)</text>
<rect x="553.30" y="432.61" width="19.90" height="72.89" fill="#fff" stroke="#383838" stroke-width="1.05"/>
<line x1="563.25" y1="421.42" x2="563.25" y2="442.81" stroke="#1c1c1c" stroke-width="1.05" />
<line x1="560.75" y1="421.42" x2="565.75" y2="421.42" stroke="#1c1c1c" stroke-width="1.05" />
<line x1="560.75" y1="442.81" x2="565.75" y2="442.81" stroke="#1c1c1c" stroke-width="1.05" />
<rect x="573.70" y="455.54" width="20.20" height="49.96" fill="#000"/>
<line x1="583.80" y1="450.30" x2="583.80" y2="455.54" stroke="#1c1c1c" stroke-width="1.05" />
<line x1="581.30" y1="450.30" x2="586.30" y2="450.30" stroke="#1c1c1c" stroke-width="1.05" />
<rect x="625.20" y="335.57" width="19.70" height="169.93" fill="#fff" stroke="#383838" stroke-width="1.05"/>
<line x1="635.05" y1="317.90" x2="635.05" y2="352.25" stroke="#1c1c1c" stroke-width="1.05" />
<line x1="632.55" y1="317.90" x2="637.55" y2="317.90" stroke="#1c1c1c" stroke-width="1.05" />
<line x1="632.55" y1="352.25" x2="637.55" y2="352.25" stroke="#1c1c1c" stroke-width="1.05" />
<rect x="645.40" y="375.51" width="20.30" height="129.99" fill="#000"/>
<line x1="655.55" y1="352.48" x2="655.55" y2="375.51" stroke="#1c1c1c" stroke-width="1.05" />
<line x1="653.05" y1="352.48" x2="658.05" y2="352.48" stroke="#1c1c1c" stroke-width="1.05" />
<text x="584.00" y="447.00" font-size="9.5" text-anchor="middle" fill="#161616"  stroke="#161616" stroke-width="0.28">*</text>
<text x="655.80" y="349.90" font-size="9.5" text-anchor="middle" fill="#161616"  stroke="#161616" stroke-width="0.28">*</text>
<text x="231.60" y="273.10" font-size="16.5" text-anchor="start" font-weight="bold" fill="#000" >e</text>
<text x="295.30" y="281.00" font-size="11.7" text-anchor="middle" fill="#161616"  stroke="#161616" stroke-width="0.28">H and E</text>
<text x="396.00" y="280.80" font-size="11.7" text-anchor="middle" fill="#161616"  stroke="#161616" stroke-width="0.28">Oil Red O</text>
<text x="239.60" y="334.00" font-size="11.7" text-anchor="middle" transform="rotate(-90 239.60 334.00)" fill="#161616"  stroke="#161616" stroke-width="0.28">WT</text>
<text x="239.40" y="433.80" font-size="11.7" text-anchor="middle" transform="rotate(-90 239.40 433.80)" fill="#161616"  stroke="#161616" stroke-width="0.28">Het</text>
<g clip-path="url(#c_hewt)"><g filter="url(#soft)">
<rect x="242" y="280.9" width="106.2" height="105.4" fill="#b784c8" filter="url(#f_hewt)"/>
<rect x="245" y="283.9" width="100.2" height="99.4" fill="url(#g_hewt)"/>
<circle cx="290.3" cy="339.5" r="0.6" fill="#7048a2" opacity="0.7"/>
<circle cx="290.3" cy="368.9" r="0.5" fill="#7048a2" opacity="0.7"/>
<circle cx="263.5" cy="334.8" r="0.7" fill="#7048a2" opacity="0.7"/>
<circle cx="306.5" cy="302.4" r="0.6" fill="#7048a2" opacity="0.7"/>
<circle cx="275.4" cy="292.9" r="0.7" fill="#7048a2" opacity="0.7"/>
<circle cx="308.6" cy="343.1" r="0.6" fill="#7048a2" opacity="0.7"/>
<circle cx="341.7" cy="348.9" r="0.7" fill="#7048a2" opacity="0.7"/>
<circle cx="310.1" cy="345.8" r="0.7" fill="#7048a2" opacity="0.7"/>
<circle cx="251.3" cy="287.4" r="0.5" fill="#7048a2" opacity="0.7"/>
<circle cx="305.1" cy="361.2" r="0.6" fill="#7048a2" opacity="0.7"/>
<circle cx="289.1" cy="367.6" r="0.7" fill="#7048a2" opacity="0.7"/>
<circle cx="268.4" cy="313.1" r="0.5" fill="#7048a2" opacity="0.7"/>
<circle cx="311.4" cy="329.4" r="0.6" fill="#7048a2" opacity="0.7"/>
<circle cx="285.8" cy="338.7" r="0.5" fill="#7048a2" opacity="0.7"/>
<circle cx="315.9" cy="315.2" r="0.5" fill="#7048a2" opacity="0.7"/>
<circle cx="296.4" cy="286.9" r="0.7" fill="#7048a2" opacity="0.7"/>
<circle cx="321.8" cy="323.7" r="0.6" fill="#7048a2" opacity="0.7"/>
<circle cx="283.7" cy="379.1" r="0.7" fill="#7048a2" opacity="0.7"/>
<circle cx="245.1" cy="304.7" r="0.5" fill="#7048a2" opacity="0.7"/>
<circle cx="292.1" cy="381.3" r="0.6" fill="#7048a2" opacity="0.7"/>
<circle cx="287.1" cy="340.2" r="0.5" fill="#7048a2" opacity="0.7"/>
<circle cx="323.0" cy="310.7" r="0.5" fill="#7048a2" opacity="0.7"/>
<circle cx="276.2" cy="285.4" r="0.6" fill="#7048a2" opacity="0.7"/>
<circle cx="321.0" cy="295.6" r="0.5" fill="#7048a2" opacity="0.7"/>
<circle cx="315.8" cy="285.0" r="0.6" fill="#7048a2" opacity="0.7"/>
<circle cx="324.9" cy="301.6" r="0.7" fill="#7048a2" opacity="0.7"/>
<circle cx="263.9" cy="334.5" r="0.7" fill="#7048a2" opacity="0.7"/>
<circle cx="322.1" cy="325.6" r="0.6" fill="#7048a2" opacity="0.7"/>
<circle cx="256.7" cy="325.7" r="0.5" fill="#7048a2" opacity="0.7"/>
<circle cx="245.0" cy="369.8" r="0.7" fill="#7048a2" opacity="0.7"/>
<circle cx="275.5" cy="371.9" r="0.5" fill="#7048a2" opacity="0.7"/>
<circle cx="263.8" cy="382.9" r="0.7" fill="#7048a2" opacity="0.7"/>
<circle cx="309.3" cy="293.9" r="0.5" fill="#7048a2" opacity="0.7"/>
<circle cx="266.4" cy="309.6" r="0.7" fill="#7048a2" opacity="0.7"/>
<circle cx="278.0" cy="313.4" r="0.5" fill="#7048a2" opacity="0.7"/>
<circle cx="252.4" cy="304.6" r="0.7" fill="#7048a2" opacity="0.7"/>
<circle cx="269.3" cy="343.7" r="0.6" fill="#7048a2" opacity="0.7"/>
<circle cx="307.3" cy="296.5" r="0.7" fill="#7048a2" opacity="0.7"/>
<circle cx="293.5" cy="341.0" r="0.6" fill="#7048a2" opacity="0.7"/>
<circle cx="263.3" cy="299.2" r="0.5" fill="#7048a2" opacity="0.7"/>
<circle cx="326.9" cy="308.7" r="0.5" fill="#7048a2" opacity="0.7"/>
<circle cx="260.9" cy="346.4" r="0.7" fill="#7048a2" opacity="0.7"/>
<circle cx="264.7" cy="378.3" r="0.6" fill="#7048a2" opacity="0.7"/>
<circle cx="305.5" cy="325.8" r="0.5" fill="#7048a2" opacity="0.7"/>
<circle cx="255.9" cy="334.8" r="0.6" fill="#7048a2" opacity="0.7"/>
<circle cx="268.9" cy="353.9" r="0.6" fill="#7048a2" opacity="0.7"/>
<circle cx="287.2" cy="373.8" r="0.6" fill="#7048a2" opacity="0.7"/>
<circle cx="274.4" cy="301.3" r="0.7" fill="#7048a2" opacity="0.7"/>
<circle cx="342.9" cy="296.5" r="0.6" fill="#7048a2" opacity="0.7"/>
<circle cx="301.0" cy="368.6" r="0.7" fill="#7048a2" opacity="0.7"/>
<circle cx="252.4" cy="305.0" r="0.5" fill="#7048a2" opacity="0.7"/>
<circle cx="320.0" cy="290.8" r="0.6" fill="#7048a2" opacity="0.7"/>
<circle cx="289.7" cy="289.9" r="0.5" fill="#7048a2" opacity="0.7"/>
<circle cx="273.3" cy="336.7" r="0.5" fill="#7048a2" opacity="0.7"/>
<circle cx="254.2" cy="297.7" r="0.6" fill="#7048a2" opacity="0.7"/>
<circle cx="343.2" cy="349.2" r="0.7" fill="#7048a2" opacity="0.7"/>
<circle cx="297.3" cy="378.0" r="0.7" fill="#7048a2" opacity="0.7"/>
<circle cx="248.5" cy="285.7" r="0.6" fill="#7048a2" opacity="0.7"/>
<circle cx="315.2" cy="379.6" r="0.5" fill="#7048a2" opacity="0.7"/>
<circle cx="305.0" cy="291.3" r="0.5" fill="#7048a2" opacity="0.7"/>
<circle cx="318.2" cy="315.6" r="0.5" fill="#7048a2" opacity="0.7"/>
<circle cx="252.5" cy="338.2" r="0.7" fill="#7048a2" opacity="0.7"/>
<circle cx="249.5" cy="377.0" r="0.7" fill="#7048a2" opacity="0.7"/>
<circle cx="315.5" cy="362.8" r="0.6" fill="#7048a2" opacity="0.7"/>
<circle cx="280.3" cy="352.0" r="0.5" fill="#7048a2" opacity="0.7"/>
<circle cx="332.3" cy="325.4" r="0.5" fill="#7048a2" opacity="0.7"/>
<circle cx="331.5" cy="340.8" r="0.7" fill="#7048a2" opacity="0.7"/>
<circle cx="311.4" cy="321.6" r="0.5" fill="#7048a2" opacity="0.7"/>
<circle cx="306.0" cy="291.9" r="0.7" fill="#7048a2" opacity="0.7"/>
<circle cx="256.6" cy="309.5" r="0.6" fill="#7048a2" opacity="0.7"/>
<circle cx="318.0" cy="322.5" r="0.7" fill="#7048a2" opacity="0.7"/>
<circle cx="314.6" cy="329.4" r="0.6" fill="#7048a2" opacity="0.7"/>
<circle cx="329.0" cy="292.2" r="0.7" fill="#7048a2" opacity="0.7"/>
<circle cx="248.0" cy="343.7" r="0.6" fill="#7048a2" opacity="0.7"/>
<circle cx="247.2" cy="379.1" r="0.5" fill="#7048a2" opacity="0.7"/>
<circle cx="294.8" cy="345.0" r="0.6" fill="#7048a2" opacity="0.7"/>
<circle cx="270.6" cy="285.0" r="0.6" fill="#7048a2" opacity="0.7"/>
<circle cx="259.4" cy="344.7" r="0.7" fill="#7048a2" opacity="0.7"/>
<circle cx="262.0" cy="373.9" r="0.7" fill="#7048a2" opacity="0.7"/>
<circle cx="338.2" cy="333.4" r="0.5" fill="#7048a2" opacity="0.7"/>
<circle cx="277.8" cy="350.1" r="0.5" fill="#7048a2" opacity="0.7"/>
<circle cx="308.5" cy="363.8" r="0.5" fill="#7048a2" opacity="0.7"/>
<circle cx="333.2" cy="322.1" r="0.7" fill="#7048a2" opacity="0.7"/>
<circle cx="337.3" cy="304.8" r="0.5" fill="#7048a2" opacity="0.7"/>
<circle cx="294.7" cy="367.1" r="0.5" fill="#7048a2" opacity="0.7"/>
<circle cx="316.3" cy="378.3" r="0.6" fill="#7048a2" opacity="0.7"/>
<circle cx="327.4" cy="295.1" r="0.6" fill="#7048a2" opacity="0.7"/>
<circle cx="272.6" cy="305.2" r="0.6" fill="#7048a2" opacity="0.7"/>
<circle cx="283.3" cy="335.6" r="0.7" fill="#7048a2" opacity="0.7"/>
<circle cx="276.6" cy="367.3" r="0.7" fill="#7048a2" opacity="0.7"/>
<circle cx="290.3" cy="291.3" r="0.5" fill="#7048a2" opacity="0.7"/>
<circle cx="272.9" cy="344.3" r="0.7" fill="#7048a2" opacity="0.7"/>
<circle cx="316.0" cy="340.6" r="0.6" fill="#7048a2" opacity="0.7"/>
<circle cx="310.1" cy="340.0" r="0.7" fill="#7048a2" opacity="0.7"/>
<circle cx="258.6" cy="329.1" r="0.5" fill="#7048a2" opacity="0.7"/>
<circle cx="322.1" cy="310.4" r="0.5" fill="#7048a2" opacity="0.7"/>
<circle cx="324.8" cy="381.7" r="0.5" fill="#7048a2" opacity="0.7"/>
<circle cx="289.7" cy="346.5" r="0.7" fill="#7048a2" opacity="0.7"/>
<circle cx="309.1" cy="320.5" r="0.5" fill="#7048a2" opacity="0.7"/>
<circle cx="313.6" cy="303.7" r="0.6" fill="#7048a2" opacity="0.7"/>
<circle cx="270.7" cy="354.9" r="0.6" fill="#7048a2" opacity="0.7"/>
<circle cx="298.6" cy="287.5" r="0.5" fill="#7048a2" opacity="0.7"/>
<circle cx="272.3" cy="318.3" r="0.7" fill="#7048a2" opacity="0.7"/>
<circle cx="339.9" cy="333.6" r="0.5" fill="#7048a2" opacity="0.7"/>
<circle cx="284.4" cy="362.6" r="0.5" fill="#7048a2" opacity="0.7"/>
<circle cx="253.7" cy="376.6" r="0.7" fill="#7048a2" opacity="0.7"/>
<circle cx="283.9" cy="328.7" r="0.5" fill="#7048a2" opacity="0.7"/>
<circle cx="307.7" cy="374.4" r="0.6" fill="#7048a2" opacity="0.7"/>
<circle cx="300.1" cy="348.8" r="0.7" fill="#7048a2" opacity="0.7"/>
<circle cx="324.8" cy="377.8" r="0.6" fill="#7048a2" opacity="0.7"/>
<circle cx="277.7" cy="381.5" r="0.5" fill="#7048a2" opacity="0.7"/>
<circle cx="317.3" cy="365.2" r="0.7" fill="#7048a2" opacity="0.7"/>
<circle cx="337.6" cy="296.2" r="0.5" fill="#7048a2" opacity="0.7"/>
<circle cx="335.2" cy="381.4" r="0.6" fill="#7048a2" opacity="0.7"/>
<circle cx="298.8" cy="362.5" r="0.6" fill="#7048a2" opacity="0.7"/>
<circle cx="271.2" cy="355.3" r="0.5" fill="#7048a2" opacity="0.7"/>
<circle cx="279.9" cy="292.1" r="0.6" fill="#7048a2" opacity="0.7"/>
<circle cx="279.3" cy="325.8" r="0.6" fill="#7048a2" opacity="0.7"/>
<circle cx="293.8" cy="286.7" r="0.5" fill="#7048a2" opacity="0.7"/>
<circle cx="288.0" cy="287.4" r="0.7" fill="#7048a2" opacity="0.7"/>
<circle cx="278.6" cy="362.2" r="0.5" fill="#7048a2" opacity="0.7"/>
<circle cx="292.2" cy="383.3" r="0.7" fill="#7048a2" opacity="0.7"/>
<circle cx="296.9" cy="351.3" r="0.6" fill="#7048a2" opacity="0.7"/>
<circle cx="339.8" cy="332.9" r="0.7" fill="#7048a2" opacity="0.7"/>
<circle cx="253.6" cy="305.9" r="0.7" fill="#7048a2" opacity="0.7"/>
<circle cx="301.0" cy="366.5" r="0.7" fill="#7048a2" opacity="0.7"/>
<circle cx="309.0" cy="335.9" r="0.7" fill="#7048a2" opacity="0.7"/>
<circle cx="270.7" cy="350.6" r="0.7" fill="#7048a2" opacity="0.7"/>
<circle cx="265.9" cy="368.5" r="0.7" fill="#7048a2" opacity="0.7"/>
<circle cx="297.5" cy="340.9" r="0.5" fill="#7048a2" opacity="0.7"/>
<circle cx="286.2" cy="295.3" r="0.5" fill="#7048a2" opacity="0.7"/>
<circle cx="305.6" cy="286.7" r="0.5" fill="#7048a2" opacity="0.7"/>
<circle cx="296.7" cy="323.7" r="0.7" fill="#7048a2" opacity="0.7"/>
<circle cx="257.2" cy="293.2" r="0.5" fill="#7048a2" opacity="0.7"/>
<circle cx="251.6" cy="337.4" r="0.6" fill="#7048a2" opacity="0.7"/>
<circle cx="337.3" cy="363.5" r="0.6" fill="#7048a2" opacity="0.7"/>
<circle cx="272.0" cy="330.9" r="0.5" fill="#7048a2" opacity="0.7"/>
<circle cx="279.0" cy="373.4" r="0.6" fill="#7048a2" opacity="0.7"/>
<circle cx="297.6" cy="294.7" r="0.6" fill="#7048a2" opacity="0.7"/>
<circle cx="306.9" cy="375.9" r="0.5" fill="#7048a2" opacity="0.7"/>
<circle cx="315.4" cy="381.0" r="0.5" fill="#7048a2" opacity="0.7"/>
<circle cx="264.4" cy="306.5" r="0.7" fill="#7048a2" opacity="0.7"/>
<circle cx="273.5" cy="355.8" r="0.5" fill="#7048a2" opacity="0.7"/>
<circle cx="307.1" cy="294.3" r="0.7" fill="#7048a2" opacity="0.7"/>
<circle cx="303.3" cy="368.6" r="0.7" fill="#7048a2" opacity="0.7"/>
<circle cx="270.1" cy="303.6" r="0.7" fill="#7048a2" opacity="0.7"/>
<circle cx="333.0" cy="286.2" r="0.7" fill="#7048a2" opacity="0.7"/>
<circle cx="286.4" cy="336.5" r="0.5" fill="#7048a2" opacity="0.7"/>
<circle cx="298.9" cy="369.8" r="0.7" fill="#7048a2" opacity="0.7"/>
<circle cx="309.0" cy="336.5" r="0.7" fill="#7048a2" opacity="0.7"/>
<circle cx="306.3" cy="369.1" r="0.5" fill="#7048a2" opacity="0.7"/>
<circle cx="336.7" cy="346.3" r="0.6" fill="#7048a2" opacity="0.7"/>
<circle cx="335.4" cy="315.3" r="0.6" fill="#7048a2" opacity="0.7"/>
<circle cx="334.2" cy="303.3" r="0.5" fill="#7048a2" opacity="0.7"/>
<circle cx="333.9" cy="297.2" r="0.5" fill="#7048a2" opacity="0.7"/>
<circle cx="258.3" cy="292.7" r="0.6" fill="#7048a2" opacity="0.7"/>
<circle cx="254.7" cy="366.6" r="0.6" fill="#7048a2" opacity="0.7"/>
<circle cx="299.4" cy="354.0" r="0.5" fill="#7048a2" opacity="0.7"/>
<circle cx="285.4" cy="352.0" r="0.5" fill="#7048a2" opacity="0.7"/>
<circle cx="254.6" cy="340.5" r="0.6" fill="#7048a2" opacity="0.7"/>
<circle cx="336.3" cy="380.2" r="0.5" fill="#7048a2" opacity="0.7"/>
<circle cx="315.6" cy="347.0" r="0.6" fill="#7048a2" opacity="0.7"/>
<circle cx="295.4" cy="352.1" r="0.5" fill="#7048a2" opacity="0.7"/>
<circle cx="325.4" cy="331.8" r="0.5" fill="#7048a2" opacity="0.7"/>
<circle cx="248.8" cy="338.7" r="0.7" fill="#7048a2" opacity="0.7"/>
<circle cx="335.7" cy="331.7" r="0.5" fill="#7048a2" opacity="0.7"/>
<circle cx="263.5" cy="304.2" r="0.5" fill="#7048a2" opacity="0.7"/>
<circle cx="344.2" cy="376.0" r="0.5" fill="#7048a2" opacity="0.7"/>
<circle cx="303.1" cy="297.3" r="0.7" fill="#7048a2" opacity="0.7"/>
<circle cx="291.3" cy="359.9" r="0.6" fill="#7048a2" opacity="0.7"/>
<circle cx="284.2" cy="326.3" r="0.6" fill="#7048a2" opacity="0.7"/>
<circle cx="288.1" cy="343.6" r="0.5" fill="#7048a2" opacity="0.7"/>
<circle cx="308.5" cy="288.0" r="0.5" fill="#7048a2" opacity="0.7"/>
<circle cx="263.2" cy="329.0" r="0.7" fill="#7048a2" opacity="0.7"/>
<circle cx="282.1" cy="375.5" r="0.7" fill="#7048a2" opacity="0.7"/>
<circle cx="261.5" cy="334.8" r="0.5" fill="#7048a2" opacity="0.7"/>
<circle cx="277.4" cy="292.3" r="0.7" fill="#7048a2" opacity="0.7"/>
<circle cx="332.7" cy="374.2" r="0.6" fill="#7048a2" opacity="0.7"/>
<circle cx="302.1" cy="302.9" r="0.7" fill="#7048a2" opacity="0.7"/>
<circle cx="343.5" cy="363.9" r="0.6" fill="#7048a2" opacity="0.7"/>
<circle cx="273.0" cy="295.5" r="0.7" fill="#7048a2" opacity="0.7"/>
<circle cx="323.0" cy="364.9" r="0.6" fill="#7048a2" opacity="0.7"/>
<circle cx="258.3" cy="316.7" r="0.7" fill="#7048a2" opacity="0.7"/>
<circle cx="314.6" cy="360.2" r="0.5" fill="#7048a2" opacity="0.7"/>
<circle cx="285.7" cy="355.7" r="0.5" fill="#7048a2" opacity="0.7"/>
<circle cx="324.9" cy="313.9" r="0.5" fill="#7048a2" opacity="0.7"/>
<circle cx="246.1" cy="319.3" r="0.7" fill="#7048a2" opacity="0.7"/>
<circle cx="335.5" cy="288.8" r="0.6" fill="#7048a2" opacity="0.7"/>
<circle cx="339.7" cy="350.1" r="0.6" fill="#7048a2" opacity="0.7"/>
<circle cx="266.6" cy="324.3" r="0.5" fill="#7048a2" opacity="0.7"/>
<circle cx="298.4" cy="322.6" r="0.6" fill="#7048a2" opacity="0.7"/>
<circle cx="309.4" cy="353.6" r="0.6" fill="#7048a2" opacity="0.7"/>
<circle cx="343.2" cy="286.2" r="0.7" fill="#7048a2" opacity="0.7"/>
<circle cx="255.8" cy="307.5" r="0.6" fill="#7048a2" opacity="0.7"/>
<circle cx="285.2" cy="288.9" r="0.5" fill="#7048a2" opacity="0.7"/>
<circle cx="309.9" cy="285.0" r="0.6" fill="#7048a2" opacity="0.7"/>
<circle cx="270.1" cy="373.9" r="0.7" fill="#7048a2" opacity="0.7"/>
<circle cx="299.2" cy="325.2" r="0.7" fill="#7048a2" opacity="0.7"/>
<circle cx="301.9" cy="382.8" r="0.7" fill="#7048a2" opacity="0.7"/>
<circle cx="289.5" cy="348.0" r="0.7" fill="#7048a2" opacity="0.7"/>
<circle cx="304.9" cy="359.4" r="0.5" fill="#7048a2" opacity="0.7"/>
<circle cx="283.7" cy="377.2" r="0.6" fill="#7048a2" opacity="0.7"/>
<circle cx="292.3" cy="300.7" r="0.6" fill="#7048a2" opacity="0.7"/>
<circle cx="299.3" cy="343.2" r="0.6" fill="#7048a2" opacity="0.7"/>
<circle cx="339.7" cy="325.7" r="0.7" fill="#7048a2" opacity="0.7"/>
<circle cx="284.9" cy="315.0" r="0.7" fill="#7048a2" opacity="0.7"/>
<circle cx="273.6" cy="349.0" r="0.7" fill="#7048a2" opacity="0.7"/>
<circle cx="338.1" cy="349.9" r="0.7" fill="#7048a2" opacity="0.7"/>
<circle cx="274.7" cy="285.3" r="0.5" fill="#7048a2" opacity="0.7"/>
<circle cx="303.7" cy="346.8" r="0.6" fill="#7048a2" opacity="0.7"/>
<circle cx="320.6" cy="322.7" r="0.6" fill="#7048a2" opacity="0.7"/>
<circle cx="320.0" cy="288.9" r="0.7" fill="#7048a2" opacity="0.7"/>
<circle cx="339.6" cy="291.2" r="0.5" fill="#7048a2" opacity="0.7"/>
<circle cx="288.0" cy="331.4" r="0.5" fill="#7048a2" opacity="0.7"/>
<circle cx="249.6" cy="293.7" r="0.7" fill="#7048a2" opacity="0.7"/>
<circle cx="336.1" cy="298.2" r="0.5" fill="#7048a2" opacity="0.7"/>
<circle cx="305.5" cy="295.3" r="0.7" fill="#7048a2" opacity="0.7"/>
<circle cx="286.8" cy="295.6" r="0.5" fill="#7048a2" opacity="0.7"/>
<circle cx="280.7" cy="299.3" r="0.6" fill="#7048a2" opacity="0.7"/>
<circle cx="289.4" cy="350.3" r="0.6" fill="#7048a2" opacity="0.7"/>
<circle cx="305.2" cy="347.5" r="0.7" fill="#7048a2" opacity="0.7"/>
<circle cx="287.0" cy="361.2" r="0.7" fill="#7048a2" opacity="0.7"/>
<circle cx="326.7" cy="297.5" r="0.6" fill="#7048a2" opacity="0.7"/>
<circle cx="318.6" cy="307.6" r="0.5" fill="#7048a2" opacity="0.7"/>
<circle cx="295.4" cy="314.6" r="0.7" fill="#7048a2" opacity="0.7"/>
<circle cx="307.6" cy="319.6" r="0.6" fill="#7048a2" opacity="0.7"/>
<circle cx="306.1" cy="356.0" r="0.7" fill="#7048a2" opacity="0.7"/>
<circle cx="304.3" cy="346.8" r="0.5" fill="#7048a2" opacity="0.7"/>
<circle cx="264.0" cy="308.6" r="0.7" fill="#7048a2" opacity="0.7"/>
<circle cx="336.8" cy="371.3" r="0.5" fill="#7048a2" opacity="0.7"/>
<circle cx="308.0" cy="284.8" r="0.6" fill="#7048a2" opacity="0.7"/>
<circle cx="287.6" cy="345.9" r="0.5" fill="#7048a2" opacity="0.7"/>
<circle cx="267.3" cy="311.6" r="0.5" fill="#7048a2" opacity="0.7"/>
<circle cx="336.5" cy="299.9" r="0.5" fill="#7048a2" opacity="0.7"/>
<circle cx="308.2" cy="321.0" r="0.6" fill="#7048a2" opacity="0.7"/>
<circle cx="280.5" cy="317.5" r="0.6" fill="#7048a2" opacity="0.7"/>
<circle cx="319.6" cy="367.3" r="0.5" fill="#7048a2" opacity="0.7"/>
<circle cx="325.4" cy="328.4" r="0.7" fill="#7048a2" opacity="0.7"/>
<circle cx="329.0" cy="360.3" r="0.6" fill="#7048a2" opacity="0.7"/>
<circle cx="287.5" cy="309.6" r="0.5" fill="#7048a2" opacity="0.7"/>
<circle cx="282.0" cy="348.9" r="0.7" fill="#7048a2" opacity="0.7"/>
<circle cx="277.6" cy="338.4" r="0.7" fill="#7048a2" opacity="0.7"/>
<circle cx="327.8" cy="302.2" r="0.7" fill="#7048a2" opacity="0.7"/>
<circle cx="282.0" cy="293.5" r="0.6" fill="#7048a2" opacity="0.7"/>
<circle cx="252.9" cy="292.2" r="0.7" fill="#7048a2" opacity="0.7"/>
<circle cx="301.9" cy="364.9" r="0.6" fill="#7048a2" opacity="0.7"/>
<circle cx="274.9" cy="361.0" r="0.5" fill="#7048a2" opacity="0.7"/>
<circle cx="276.1" cy="374.4" r="0.7" fill="#7048a2" opacity="0.7"/>
<circle cx="253.2" cy="314.1" r="0.7" fill="#7048a2" opacity="0.7"/>
<circle cx="321.6" cy="316.5" r="0.5" fill="#7048a2" opacity="0.7"/>
<circle cx="266.9" cy="349.2" r="0.6" fill="#7048a2" opacity="0.7"/>
<circle cx="281.7" cy="295.6" r="0.7" fill="#7048a2" opacity="0.7"/>
<circle cx="289.2" cy="343.0" r="0.7" fill="#7048a2" opacity="0.7"/>
<circle cx="336.5" cy="327.4" r="0.6" fill="#7048a2" opacity="0.7"/>
<circle cx="290.9" cy="305.9" r="0.7" fill="#7048a2" opacity="0.7"/>
<circle cx="334.7" cy="308.6" r="0.6" fill="#7048a2" opacity="0.7"/>
<circle cx="328.0" cy="286.3" r="0.7" fill="#7048a2" opacity="0.7"/>
<circle cx="284.6" cy="322.4" r="0.5" fill="#7048a2" opacity="0.7"/>
<circle cx="319.0" cy="320.5" r="0.6" fill="#7048a2" opacity="0.7"/>
<circle cx="299.2" cy="367.0" r="0.7" fill="#7048a2" opacity="0.7"/>
<circle cx="262.8" cy="292.8" r="0.6" fill="#7048a2" opacity="0.7"/>
<circle cx="333.3" cy="311.9" r="0.5" fill="#7048a2" opacity="0.7"/>
<circle cx="267.2" cy="289.6" r="0.5" fill="#7048a2" opacity="0.7"/>
<circle cx="301.9" cy="380.0" r="0.7" fill="#7048a2" opacity="0.7"/>
<circle cx="329.3" cy="325.9" r="0.7" fill="#7048a2" opacity="0.7"/>
<circle cx="299.8" cy="362.2" r="0.5" fill="#7048a2" opacity="0.7"/>
<circle cx="278.5" cy="311.1" r="0.5" fill="#7048a2" opacity="0.7"/>
<circle cx="335.1" cy="292.3" r="0.7" fill="#7048a2" opacity="0.7"/>
<circle cx="310.5" cy="293.6" r="0.7" fill="#7048a2" opacity="0.7"/>
<circle cx="287.3" cy="354.7" r="0.6" fill="#7048a2" opacity="0.7"/>
<circle cx="321.7" cy="335.7" r="0.6" fill="#7048a2" opacity="0.7"/>
<circle cx="284.5" cy="317.5" r="0.6" fill="#7048a2" opacity="0.7"/>
<circle cx="312.4" cy="333.0" r="0.7" fill="#7048a2" opacity="0.7"/>
<circle cx="325.6" cy="291.1" r="0.7" fill="#7048a2" opacity="0.7"/>
<circle cx="336.7" cy="324.7" r="0.7" fill="#7048a2" opacity="0.7"/>
<circle cx="280.0" cy="284.3" r="0.6" fill="#7048a2" opacity="0.7"/>
<circle cx="328.5" cy="372.2" r="0.7" fill="#7048a2" opacity="0.7"/>
<circle cx="309.2" cy="336.0" r="0.7" fill="#7048a2" opacity="0.7"/>
<circle cx="246.0" cy="294.8" r="0.6" fill="#7048a2" opacity="0.7"/>
<circle cx="336.7" cy="308.3" r="0.5" fill="#7048a2" opacity="0.7"/>
<circle cx="344.3" cy="321.2" r="0.5" fill="#7048a2" opacity="0.7"/>
<circle cx="277.2" cy="322.6" r="0.7" fill="#7048a2" opacity="0.7"/>
<circle cx="274.3" cy="380.3" r="0.5" fill="#7048a2" opacity="0.7"/>
<circle cx="292.2" cy="356.5" r="0.6" fill="#7048a2" opacity="0.7"/>
<circle cx="309.9" cy="361.0" r="0.5" fill="#7048a2" opacity="0.7"/>
<circle cx="336.4" cy="358.8" r="0.5" fill="#7048a2" opacity="0.7"/>
<circle cx="303.5" cy="374.3" r="0.5" fill="#7048a2" opacity="0.7"/>
<circle cx="276.3" cy="303.5" r="0.6" fill="#7048a2" opacity="0.7"/>
<circle cx="266.8" cy="307.3" r="0.7" fill="#7048a2" opacity="0.7"/>
<circle cx="292.3" cy="334.5" r="0.6" fill="#7048a2" opacity="0.7"/>
<circle cx="263.5" cy="311.8" r="0.5" fill="#7048a2" opacity="0.7"/>
<circle cx="336.2" cy="377.1" r="0.7" fill="#7048a2" opacity="0.7"/>
<circle cx="299.9" cy="365.1" r="0.6" fill="#7048a2" opacity="0.7"/>
<circle cx="330.5" cy="332.1" r="0.6" fill="#7048a2" opacity="0.7"/>
<circle cx="336.6" cy="317.9" r="0.7" fill="#7048a2" opacity="0.7"/>
<circle cx="322.3" cy="293.1" r="0.5" fill="#7048a2" opacity="0.7"/>
<circle cx="285.0" cy="305.5" r="0.5" fill="#7048a2" opacity="0.7"/>
<circle cx="325.3" cy="322.2" r="0.7" fill="#7048a2" opacity="0.7"/>
<circle cx="324.6" cy="360.9" r="0.5" fill="#7048a2" opacity="0.7"/>
<circle cx="310.9" cy="307.5" r="0.5" fill="#7048a2" opacity="0.7"/>
<circle cx="332.6" cy="373.9" r="0.55" fill="#f0e4f6" opacity="0.92"/>
<circle cx="260.7" cy="315.9" r="0.95" fill="#f0e4f6" opacity="0.92"/>
<circle cx="258.1" cy="357.6" r="0.95" fill="#f0e4f6" opacity="0.92"/>
<circle cx="298.6" cy="298.9" r="0.45" fill="#f0e4f6" opacity="0.92"/>
<circle cx="257.9" cy="318.9" r="0.95" fill="#f0e4f6" opacity="0.92"/>
<circle cx="254.7" cy="331.6" r="0.95" fill="#f0e4f6" opacity="0.92"/>
<circle cx="263.8" cy="303.1" r="0.8" fill="#f0e4f6" opacity="0.92"/>
<circle cx="265.9" cy="337.9" r="0.55" fill="#f0e4f6" opacity="0.92"/>
<circle cx="285.6" cy="339.2" r="0.45" fill="#f0e4f6" opacity="0.92"/>
<circle cx="284.5" cy="329.8" r="0.45" fill="#f0e4f6" opacity="0.92"/>
<circle cx="310.5" cy="285.1" r="0.8" fill="#f0e4f6" opacity="0.92"/>
<circle cx="268.8" cy="340.0" r="0.45" fill="#f0e4f6" opacity="0.92"/>
<circle cx="330.8" cy="367.8" r="0.95" fill="#f0e4f6" opacity="0.92"/>
<circle cx="260.2" cy="346.3" r="0.65" fill="#f0e4f6" opacity="0.92"/>
<circle cx="340.6" cy="358.9" r="0.45" fill="#f0e4f6" opacity="0.92"/>
<circle cx="270.7" cy="303.8" r="0.65" fill="#f0e4f6" opacity="0.92"/>
<circle cx="276.0" cy="311.1" r="0.65" fill="#f0e4f6" opacity="0.92"/>
<circle cx="307.3" cy="297.0" r="0.55" fill="#f0e4f6" opacity="0.92"/>
<circle cx="263.0" cy="323.9" r="0.95" fill="#f0e4f6" opacity="0.92"/>
<circle cx="343.9" cy="327.0" r="0.65" fill="#f0e4f6" opacity="0.92"/>
<circle cx="337.2" cy="326.3" r="0.55" fill="#f0e4f6" opacity="0.92"/>
<circle cx="321.8" cy="365.5" r="0.65" fill="#f0e4f6" opacity="0.92"/>
<circle cx="337.3" cy="345.8" r="0.95" fill="#f0e4f6" opacity="0.92"/>
<circle cx="315.1" cy="381.5" r="0.95" fill="#f0e4f6" opacity="0.92"/>
<circle cx="298.1" cy="309.8" r="0.65" fill="#f0e4f6" opacity="0.92"/>
<circle cx="310.2" cy="294.5" r="0.95" fill="#f0e4f6" opacity="0.92"/>
<circle cx="316.5" cy="309.1" r="0.65" fill="#f0e4f6" opacity="0.92"/>
<circle cx="299.9" cy="318.9" r="0.55" fill="#f0e4f6" opacity="0.92"/>
<circle cx="302.5" cy="303.6" r="0.55" fill="#f0e4f6" opacity="0.92"/>
<circle cx="301.9" cy="286.6" r="0.45" fill="#f0e4f6" opacity="0.92"/>
<circle cx="258.7" cy="331.4" r="0.65" fill="#f0e4f6" opacity="0.92"/>
<circle cx="278.0" cy="376.2" r="0.8" fill="#f0e4f6" opacity="0.92"/>
<circle cx="333.5" cy="328.9" r="0.55" fill="#f0e4f6" opacity="0.92"/>
<circle cx="335.6" cy="337.9" r="0.95" fill="#f0e4f6" opacity="0.92"/>
<circle cx="336.7" cy="300.7" r="0.65" fill="#f0e4f6" opacity="0.92"/>
<circle cx="305.3" cy="296.1" r="0.65" fill="#f0e4f6" opacity="0.92"/>
<circle cx="313.6" cy="320.0" r="0.65" fill="#f0e4f6" opacity="0.92"/>
<circle cx="328.2" cy="302.3" r="0.45" fill="#f0e4f6" opacity="0.92"/>
<circle cx="290.5" cy="324.0" r="0.55" fill="#f0e4f6" opacity="0.92"/>
<circle cx="275.8" cy="350.6" r="0.8" fill="#f0e4f6" opacity="0.92"/>
<circle cx="306.6" cy="347.5" r="0.55" fill="#f0e4f6" opacity="0.92"/>
<circle cx="265.0" cy="330.4" r="0.8" fill="#f0e4f6" opacity="0.92"/>
<circle cx="256.9" cy="324.2" r="0.55" fill="#f0e4f6" opacity="0.92"/>
<circle cx="271.4" cy="340.4" r="0.45" fill="#f0e4f6" opacity="0.92"/>
<circle cx="317.3" cy="362.2" r="0.8" fill="#f0e4f6" opacity="0.92"/>
<circle cx="305.1" cy="330.6" r="0.95" fill="#f0e4f6" opacity="0.92"/>
<circle cx="336.5" cy="340.0" r="0.65" fill="#f0e4f6" opacity="0.92"/>
<circle cx="293.7" cy="382.8" r="0.8" fill="#f0e4f6" opacity="0.92"/>
<circle cx="339.1" cy="316.7" r="0.8" fill="#f0e4f6" opacity="0.92"/>
<circle cx="317.7" cy="373.4" r="0.95" fill="#f0e4f6" opacity="0.92"/>
<circle cx="277.3" cy="362.4" r="0.45" fill="#f0e4f6" opacity="0.92"/>
<circle cx="269.5" cy="367.8" r="0.8" fill="#f0e4f6" opacity="0.92"/>
<circle cx="336.2" cy="338.1" r="0.55" fill="#f0e4f6" opacity="0.92"/>
<circle cx="333.2" cy="383.2" r="0.65" fill="#f0e4f6" opacity="0.92"/>
<circle cx="331.8" cy="325.8" r="0.55" fill="#f0e4f6" opacity="0.92"/>
<circle cx="252.2" cy="335.6" r="0.95" fill="#f0e4f6" opacity="0.92"/>
<circle cx="302.7" cy="328.9" r="0.65" fill="#f0e4f6" opacity="0.92"/>
<circle cx="247.4" cy="301.0" r="0.8" fill="#f0e4f6" opacity="0.92"/>
<circle cx="326.7" cy="323.4" r="0.95" fill="#f0e4f6" opacity="0.92"/>
<circle cx="268.1" cy="314.3" r="0.65" fill="#f0e4f6" opacity="0.92"/>
<circle cx="275.8" cy="333.4" r="0.8" fill="#f0e4f6" opacity="0.92"/>
<circle cx="333.0" cy="304.0" r="0.45" fill="#f0e4f6" opacity="0.92"/>
<circle cx="264.6" cy="367.2" r="0.8" fill="#f0e4f6" opacity="0.92"/>
<circle cx="246.6" cy="347.1" r="0.95" fill="#f0e4f6" opacity="0.92"/>
<circle cx="265.2" cy="346.8" r="0.45" fill="#f0e4f6" opacity="0.92"/>
<circle cx="310.1" cy="314.3" r="0.65" fill="#f0e4f6" opacity="0.92"/>
<circle cx="314.7" cy="377.1" r="0.45" fill="#f0e4f6" opacity="0.92"/>
<circle cx="314.3" cy="310.6" r="0.95" fill="#f0e4f6" opacity="0.92"/>
<circle cx="311.6" cy="362.5" r="0.95" fill="#f0e4f6" opacity="0.92"/>
<circle cx="275.2" cy="376.0" r="0.65" fill="#f0e4f6" opacity="0.92"/>
<circle cx="258.3" cy="350.3" r="0.45" fill="#f0e4f6" opacity="0.92"/>
<circle cx="289.1" cy="336.4" r="0.45" fill="#f0e4f6" opacity="0.92"/>
<circle cx="245.7" cy="342.2" r="0.8" fill="#f0e4f6" opacity="0.92"/>
<circle cx="325.5" cy="292.6" r="0.55" fill="#f0e4f6" opacity="0.92"/>
<circle cx="269.6" cy="311.6" r="0.55" fill="#f0e4f6" opacity="0.92"/>
<circle cx="324.2" cy="298.9" r="0.95" fill="#f0e4f6" opacity="0.92"/>
<circle cx="291.3" cy="358.5" r="0.8" fill="#f0e4f6" opacity="0.92"/>
<circle cx="251.0" cy="290.3" r="0.65" fill="#f0e4f6" opacity="0.92"/>
<circle cx="274.2" cy="366.1" r="0.95" fill="#f0e4f6" opacity="0.92"/>
<circle cx="319.6" cy="336.7" r="0.55" fill="#f0e4f6" opacity="0.92"/>
<circle cx="256.2" cy="327.2" r="0.95" fill="#f0e4f6" opacity="0.92"/>
<circle cx="322.5" cy="362.1" r="0.55" fill="#f0e4f6" opacity="0.92"/>
<circle cx="271.0" cy="338.0" r="0.95" fill="#f0e4f6" opacity="0.92"/>
<circle cx="295.0" cy="287.4" r="0.45" fill="#f0e4f6" opacity="0.92"/>
<circle cx="260.2" cy="285.7" r="0.8" fill="#f0e4f6" opacity="0.92"/>
<circle cx="295.5" cy="355.8" r="0.45" fill="#f0e4f6" opacity="0.92"/>
<circle cx="252.3" cy="374.1" r="0.95" fill="#f0e4f6" opacity="0.92"/>
<circle cx="303.1" cy="355.7" r="0.45" fill="#f0e4f6" opacity="0.92"/>
<circle cx="276.2" cy="288.1" r="0.95" fill="#f0e4f6" opacity="0.92"/>
<circle cx="319.0" cy="361.5" r="0.8" fill="#f0e4f6" opacity="0.92"/>
<circle cx="253.9" cy="365.5" r="0.65" fill="#f0e4f6" opacity="0.92"/>
<circle cx="269.9" cy="333.3" r="0.95" fill="#f0e4f6" opacity="0.92"/>
<circle cx="323.8" cy="290.0" r="0.65" fill="#f0e4f6" opacity="0.92"/>
<circle cx="315.0" cy="353.9" r="0.55" fill="#f0e4f6" opacity="0.92"/>
<circle cx="294.1" cy="359.6" r="0.55" fill="#f0e4f6" opacity="0.92"/>
<circle cx="319.6" cy="335.8" r="0.45" fill="#f0e4f6" opacity="0.92"/>
<circle cx="284.4" cy="313.5" r="0.45" fill="#f0e4f6" opacity="0.92"/>
<circle cx="342.4" cy="351.5" r="0.95" fill="#f0e4f6" opacity="0.92"/>
<circle cx="268.0" cy="309.1" r="0.55" fill="#f0e4f6" opacity="0.92"/>
<circle cx="286.9" cy="292.5" r="0.65" fill="#f0e4f6" opacity="0.92"/>
<circle cx="278.8" cy="381.4" r="0.45" fill="#f0e4f6" opacity="0.92"/>
<circle cx="261.1" cy="342.1" r="0.65" fill="#f0e4f6" opacity="0.92"/>
<circle cx="301.9" cy="374.6" r="0.55" fill="#f0e4f6" opacity="0.92"/>
<circle cx="291.4" cy="323.0" r="0.8" fill="#f0e4f6" opacity="0.92"/>
<circle cx="282.9" cy="288.8" r="0.55" fill="#f0e4f6" opacity="0.92"/>
<circle cx="263.4" cy="338.5" r="0.55" fill="#f0e4f6" opacity="0.92"/>
<circle cx="285.1" cy="342.9" r="0.8" fill="#f0e4f6" opacity="0.92"/>
<circle cx="289.8" cy="382.6" r="0.8" fill="#f0e4f6" opacity="0.92"/>
<circle cx="314.3" cy="320.0" r="0.45" fill="#f0e4f6" opacity="0.92"/>
<circle cx="297.0" cy="357.6" r="0.95" fill="#f0e4f6" opacity="0.92"/>
<circle cx="281.2" cy="299.2" r="0.65" fill="#f0e4f6" opacity="0.92"/>
<circle cx="258.7" cy="307.8" r="0.45" fill="#f0e4f6" opacity="0.92"/>
<circle cx="247.0" cy="315.9" r="0.45" fill="#f0e4f6" opacity="0.92"/>
<circle cx="330.6" cy="321.8" r="0.95" fill="#f0e4f6" opacity="0.92"/>
<circle cx="312.1" cy="313.9" r="0.8" fill="#f0e4f6" opacity="0.92"/>
<circle cx="249.1" cy="298.9" r="0.45" fill="#f0e4f6" opacity="0.92"/>
<circle cx="265.9" cy="324.7" r="0.55" fill="#f0e4f6" opacity="0.92"/>
<circle cx="296.8" cy="338.4" r="0.8" fill="#f0e4f6" opacity="0.92"/>
<circle cx="311.8" cy="298.5" r="0.65" fill="#f0e4f6" opacity="0.92"/>
<circle cx="330.0" cy="358.2" r="0.45" fill="#f0e4f6" opacity="0.92"/>
<circle cx="314.1" cy="350.2" r="0.65" fill="#f0e4f6" opacity="0.92"/>
<circle cx="283.4" cy="316.5" r="0.65" fill="#f0e4f6" opacity="0.92"/>
<circle cx="267.2" cy="375.9" r="0.55" fill="#f0e4f6" opacity="0.92"/>
<circle cx="280.1" cy="354.7" r="0.65" fill="#f0e4f6" opacity="0.92"/>
<circle cx="335.9" cy="363.8" r="0.65" fill="#f0e4f6" opacity="0.92"/>
<circle cx="315.3" cy="338.9" r="0.45" fill="#f0e4f6" opacity="0.92"/>
<circle cx="335.4" cy="295.9" r="0.8" fill="#f0e4f6" opacity="0.92"/>
<circle cx="272.3" cy="321.4" r="0.65" fill="#f0e4f6" opacity="0.92"/>
<circle cx="292.0" cy="316.3" r="0.45" fill="#f0e4f6" opacity="0.92"/>
<circle cx="248.5" cy="316.1" r="0.65" fill="#f0e4f6" opacity="0.92"/>
<circle cx="271.2" cy="350.3" r="0.8" fill="#f0e4f6" opacity="0.92"/>
<circle cx="283.5" cy="317.8" r="0.45" fill="#f0e4f6" opacity="0.92"/>
<circle cx="302.7" cy="377.6" r="0.45" fill="#f0e4f6" opacity="0.92"/>
<circle cx="307.2" cy="324.7" r="0.65" fill="#f0e4f6" opacity="0.92"/>
<circle cx="251.8" cy="330.0" r="0.8" fill="#f0e4f6" opacity="0.92"/>
<circle cx="248.8" cy="297.4" r="0.65" fill="#f0e4f6" opacity="0.92"/>
<circle cx="305.7" cy="310.7" r="0.55" fill="#f0e4f6" opacity="0.92"/>
<circle cx="268.5" cy="284.0" r="0.8" fill="#f0e4f6" opacity="0.92"/>
<circle cx="245.4" cy="338.3" r="0.95" fill="#f0e4f6" opacity="0.92"/>
<circle cx="252.9" cy="365.8" r="0.65" fill="#f0e4f6" opacity="0.92"/>
<circle cx="325.7" cy="304.6" r="0.55" fill="#f0e4f6" opacity="0.92"/>
<circle cx="307.3" cy="332.7" r="0.65" fill="#f0e4f6" opacity="0.92"/>
<circle cx="286.6" cy="320.4" r="0.8" fill="#f0e4f6" opacity="0.92"/>
<circle cx="268.8" cy="308.7" r="0.55" fill="#f0e4f6" opacity="0.92"/>
<circle cx="336.9" cy="357.2" r="0.45" fill="#f0e4f6" opacity="0.92"/>
<circle cx="326.9" cy="371.9" r="0.8" fill="#f0e4f6" opacity="0.92"/>
<circle cx="307.3" cy="324.9" r="0.65" fill="#f0e4f6" opacity="0.92"/>
<circle cx="270.4" cy="334.3" r="0.8" fill="#f0e4f6" opacity="0.92"/>
<circle cx="270.3" cy="347.0" r="0.65" fill="#f0e4f6" opacity="0.92"/>
<circle cx="263.4" cy="369.0" r="0.95" fill="#f0e4f6" opacity="0.92"/>
<circle cx="328.0" cy="340.3" r="0.55" fill="#f0e4f6" opacity="0.92"/>
<circle cx="307.4" cy="366.5" r="0.55" fill="#f0e4f6" opacity="0.92"/>
<circle cx="265.1" cy="345.6" r="0.55" fill="#f0e4f6" opacity="0.92"/>
<circle cx="342.6" cy="330.8" r="0.55" fill="#f0e4f6" opacity="0.92"/>
<circle cx="271.9" cy="310.8" r="0.8" fill="#f0e4f6" opacity="0.92"/>
<circle cx="260.8" cy="383.0" r="0.55" fill="#f0e4f6" opacity="0.92"/>
<circle cx="273.7" cy="356.6" r="0.45" fill="#f0e4f6" opacity="0.92"/>
<circle cx="285.5" cy="373.8" r="0.8" fill="#f0e4f6" opacity="0.92"/>
<circle cx="262.2" cy="290.6" r="0.65" fill="#f0e4f6" opacity="0.92"/>
<circle cx="267.4" cy="355.7" r="0.55" fill="#f0e4f6" opacity="0.92"/>
<circle cx="343.3" cy="322.6" r="0.95" fill="#f0e4f6" opacity="0.92"/>
<circle cx="273.3" cy="370.0" r="0.45" fill="#f0e4f6" opacity="0.92"/>
<circle cx="300.7" cy="373.0" r="0.8" fill="#f0e4f6" opacity="0.92"/>
<circle cx="301.7" cy="298.2" r="0.65" fill="#f0e4f6" opacity="0.92"/>
<circle cx="277.3" cy="292.0" r="0.95" fill="#f0e4f6" opacity="0.92"/>
<circle cx="271.0" cy="289.0" r="0.65" fill="#f0e4f6" opacity="0.92"/>
<circle cx="312.2" cy="284.3" r="0.55" fill="#f0e4f6" opacity="0.92"/>
<circle cx="344.9" cy="304.0" r="0.8" fill="#f0e4f6" opacity="0.92"/>
<circle cx="248.2" cy="318.8" r="0.95" fill="#f0e4f6" opacity="0.92"/>
<circle cx="250.8" cy="338.6" r="0.95" fill="#f0e4f6" opacity="0.92"/>
<circle cx="270.3" cy="302.6" r="0.55" fill="#f0e4f6" opacity="0.92"/>
<circle cx="344.6" cy="328.0" r="0.45" fill="#f0e4f6" opacity="0.92"/>
<circle cx="262.6" cy="286.6" r="0.45" fill="#f0e4f6" opacity="0.92"/>
<circle cx="300.7" cy="290.2" r="0.55" fill="#f0e4f6" opacity="0.92"/>
<circle cx="251.4" cy="320.1" r="0.65" fill="#f0e4f6" opacity="0.92"/>
<circle cx="326.2" cy="362.7" r="0.8" fill="#f0e4f6" opacity="0.92"/>
<circle cx="275.9" cy="336.7" r="0.45" fill="#f0e4f6" opacity="0.92"/>
<circle cx="338.8" cy="331.8" r="0.8" fill="#f0e4f6" opacity="0.92"/>
<circle cx="302.8" cy="306.5" r="0.65" fill="#f0e4f6" opacity="0.92"/>
<circle cx="295.7" cy="311.4" r="0.8" fill="#f0e4f6" opacity="0.92"/>
<circle cx="280.5" cy="311.7" r="0.65" fill="#f0e4f6" opacity="0.92"/>
<circle cx="304.5" cy="310.2" r="0.55" fill="#f0e4f6" opacity="0.92"/>
<circle cx="266.2" cy="357.8" r="0.55" fill="#f0e4f6" opacity="0.92"/>
<circle cx="262.8" cy="294.4" r="0.65" fill="#f0e4f6" opacity="0.92"/>
<circle cx="263.3" cy="286.1" r="0.45" fill="#f0e4f6" opacity="0.92"/>
<circle cx="285.4" cy="315.9" r="0.55" fill="#f0e4f6" opacity="0.92"/>
<circle cx="247.1" cy="301.3" r="0.95" fill="#f0e4f6" opacity="0.92"/>
<circle cx="255.9" cy="382.1" r="0.55" fill="#f0e4f6" opacity="0.92"/>
<circle cx="295.0" cy="361.5" r="0.65" fill="#f0e4f6" opacity="0.92"/>
<circle cx="252.0" cy="322.7" r="0.55" fill="#f0e4f6" opacity="0.92"/>
<circle cx="318.2" cy="349.8" r="0.45" fill="#f0e4f6" opacity="0.92"/>
<circle cx="266.3" cy="345.2" r="0.8" fill="#f0e4f6" opacity="0.92"/>
<circle cx="328.9" cy="352.5" r="0.8" fill="#f0e4f6" opacity="0.92"/>
<circle cx="287.0" cy="322.1" r="0.95" fill="#f0e4f6" opacity="0.92"/>
<circle cx="299.2" cy="288.1" r="0.95" fill="#f0e4f6" opacity="0.92"/>
<circle cx="307.9" cy="328.3" r="0.95" fill="#f0e4f6" opacity="0.92"/>
<circle cx="250.5" cy="316.2" r="0.65" fill="#f0e4f6" opacity="0.92"/>
<circle cx="344.5" cy="357.3" r="0.8" fill="#f0e4f6" opacity="0.92"/>
<circle cx="344.1" cy="323.9" r="0.55" fill="#f0e4f6" opacity="0.92"/>
<circle cx="263.7" cy="375.7" r="0.55" fill="#f0e4f6" opacity="0.92"/>
<circle cx="328.1" cy="363.2" r="0.65" fill="#f0e4f6" opacity="0.92"/>
<circle cx="251.5" cy="370.4" r="0.65" fill="#f0e4f6" opacity="0.92"/>
<circle cx="296.9" cy="318.6" r="0.45" fill="#f0e4f6" opacity="0.92"/>
<circle cx="331.7" cy="303.4" r="0.55" fill="#f0e4f6" opacity="0.92"/>
<circle cx="252.4" cy="339.1" r="0.8" fill="#f0e4f6" opacity="0.92"/>
<circle cx="332.9" cy="291.1" r="0.45" fill="#f0e4f6" opacity="0.92"/>
<circle cx="322.2" cy="338.5" r="0.55" fill="#f0e4f6" opacity="0.92"/>
<circle cx="326.3" cy="301.6" r="0.65" fill="#f0e4f6" opacity="0.92"/>
<circle cx="340.7" cy="305.7" r="0.8" fill="#f0e4f6" opacity="0.92"/>
<circle cx="263.2" cy="322.5" r="0.95" fill="#f0e4f6" opacity="0.92"/>
<circle cx="310.0" cy="336.8" r="0.55" fill="#f0e4f6" opacity="0.92"/>
<circle cx="301.1" cy="382.7" r="0.65" fill="#f0e4f6" opacity="0.92"/>
<circle cx="315.1" cy="367.9" r="0.95" fill="#f0e4f6" opacity="0.92"/>
<circle cx="265.9" cy="304.7" r="0.55" fill="#f0e4f6" opacity="0.92"/>
<circle cx="256.6" cy="377.4" r="0.65" fill="#f0e4f6" opacity="0.92"/>
<circle cx="275.8" cy="284.7" r="0.55" fill="#f0e4f6" opacity="0.92"/>
<circle cx="318.8" cy="319.7" r="0.8" fill="#f0e4f6" opacity="0.92"/>
<circle cx="265.1" cy="291.0" r="0.65" fill="#f0e4f6" opacity="0.92"/>
<circle cx="327.2" cy="324.6" r="0.95" fill="#f0e4f6" opacity="0.92"/>
<circle cx="257.4" cy="293.3" r="0.8" fill="#f0e4f6" opacity="0.92"/>
<circle cx="268.6" cy="341.5" r="0.65" fill="#f0e4f6" opacity="0.92"/>
<circle cx="340.4" cy="291.7" r="0.55" fill="#f0e4f6" opacity="0.92"/>
<circle cx="338.6" cy="322.4" r="0.95" fill="#f0e4f6" opacity="0.92"/>
<circle cx="267.1" cy="347.5" r="0.65" fill="#f0e4f6" opacity="0.92"/>
<circle cx="273.2" cy="327.7" r="0.65" fill="#f0e4f6" opacity="0.92"/>
<circle cx="311.3" cy="285.2" r="0.45" fill="#f0e4f6" opacity="0.92"/>
<circle cx="286.2" cy="297.0" r="0.65" fill="#f0e4f6" opacity="0.92"/>
<circle cx="310.9" cy="328.9" r="0.65" fill="#f0e4f6" opacity="0.92"/>
<circle cx="246.6" cy="286.9" r="0.65" fill="#f0e4f6" opacity="0.92"/>
<circle cx="344.2" cy="365.0" r="0.55" fill="#f0e4f6" opacity="0.92"/>
<circle cx="292.0" cy="319.9" r="0.65" fill="#f0e4f6" opacity="0.92"/>
<circle cx="267.3" cy="286.0" r="0.8" fill="#f0e4f6" opacity="0.92"/>
<circle cx="328.0" cy="348.5" r="0.45" fill="#f0e4f6" opacity="0.92"/>
<circle cx="251.7" cy="329.8" r="0.55" fill="#f0e4f6" opacity="0.92"/>
<circle cx="296.9" cy="342.0" r="0.55" fill="#f0e4f6" opacity="0.92"/>
<circle cx="296.7" cy="293.4" r="0.45" fill="#f0e4f6" opacity="0.92"/>
<circle cx="261.7" cy="348.4" r="0.65" fill="#f0e4f6" opacity="0.92"/>
<circle cx="311.5" cy="380.3" r="0.45" fill="#f0e4f6" opacity="0.92"/>
<circle cx="288.4" cy="299.4" r="0.65" fill="#f0e4f6" opacity="0.92"/>
<circle cx="280.2" cy="337.2" r="0.45" fill="#f0e4f6" opacity="0.92"/>
<circle cx="322.8" cy="293.3" r="0.95" fill="#f0e4f6" opacity="0.92"/>
<circle cx="257.5" cy="340.3" r="0.45" fill="#f0e4f6" opacity="0.92"/>
<circle cx="296.1" cy="314.6" r="0.55" fill="#f0e4f6" opacity="0.92"/>
<circle cx="266.8" cy="328.8" r="0.8" fill="#f0e4f6" opacity="0.92"/>
<circle cx="258.8" cy="373.2" r="0.95" fill="#f0e4f6" opacity="0.92"/>
<circle cx="260.5" cy="380.3" r="0.8" fill="#f0e4f6" opacity="0.92"/>
<circle cx="306.9" cy="379.7" r="0.45" fill="#f0e4f6" opacity="0.92"/>
<circle cx="286.4" cy="285.0" r="0.45" fill="#f0e4f6" opacity="0.92"/>
<circle cx="298.2" cy="286.7" r="0.65" fill="#f0e4f6" opacity="0.92"/>
<circle cx="336.4" cy="337.9" r="0.45" fill="#f0e4f6" opacity="0.92"/>
<circle cx="284.1" cy="313.7" r="0.95" fill="#f0e4f6" opacity="0.92"/>
<circle cx="256.2" cy="375.2" r="0.8" fill="#f0e4f6" opacity="0.92"/>
<circle cx="265.4" cy="382.6" r="0.55" fill="#f0e4f6" opacity="0.92"/>
<circle cx="301.9" cy="333.7" r="0.8" fill="#f0e4f6" opacity="0.92"/>
<circle cx="307.7" cy="310.5" r="0.55" fill="#f0e4f6" opacity="0.92"/>
<circle cx="281.9" cy="326.6" r="0.65" fill="#f0e4f6" opacity="0.92"/>
<circle cx="276.2" cy="336.7" r="0.8" fill="#f0e4f6" opacity="0.92"/>
<circle cx="299.9" cy="323.6" r="0.45" fill="#f0e4f6" opacity="0.92"/>
<circle cx="316.5" cy="287.1" r="0.55" fill="#f0e4f6" opacity="0.92"/>
<circle cx="297.1" cy="336.3" r="0.65" fill="#f0e4f6" opacity="0.92"/>
<circle cx="304.5" cy="379.4" r="0.95" fill="#f0e4f6" opacity="0.92"/>
<circle cx="321.4" cy="289.5" r="0.45" fill="#f0e4f6" opacity="0.92"/>
<circle cx="254.3" cy="308.9" r="0.8" fill="#f0e4f6" opacity="0.92"/>
<circle cx="302.3" cy="293.6" r="0.55" fill="#f0e4f6" opacity="0.92"/>
<circle cx="328.3" cy="316.5" r="0.55" fill="#f0e4f6" opacity="0.92"/>
<circle cx="321.5" cy="288.7" r="0.95" fill="#f0e4f6" opacity="0.92"/>
<circle cx="258.9" cy="317.7" r="0.95" fill="#f0e4f6" opacity="0.92"/>
<circle cx="338.6" cy="358.7" r="0.45" fill="#f0e4f6" opacity="0.92"/>
<circle cx="327.5" cy="331.5" r="0.45" fill="#f0e4f6" opacity="0.92"/>
<circle cx="262.3" cy="292.2" r="0.55" fill="#f0e4f6" opacity="0.92"/>
<circle cx="282.9" cy="328.4" r="0.45" fill="#f0e4f6" opacity="0.92"/>
<circle cx="289.6" cy="373.1" r="0.45" fill="#f0e4f6" opacity="0.92"/>
<circle cx="340.8" cy="319.3" r="0.45" fill="#f0e4f6" opacity="0.92"/>
<circle cx="315.4" cy="323.4" r="0.95" fill="#f0e4f6" opacity="0.92"/>
<circle cx="277.5" cy="297.8" r="0.55" fill="#f0e4f6" opacity="0.92"/>
<circle cx="288.3" cy="321.4" r="0.8" fill="#f0e4f6" opacity="0.92"/>
<circle cx="294.5" cy="352.4" r="0.8" fill="#f0e4f6" opacity="0.92"/>
<circle cx="255.5" cy="357.7" r="0.95" fill="#f0e4f6" opacity="0.92"/>
<circle cx="277.5" cy="285.4" r="0.65" fill="#f0e4f6" opacity="0.92"/>
<circle cx="282.8" cy="363.7" r="0.8" fill="#f0e4f6" opacity="0.92"/>
<circle cx="302.5" cy="367.6" r="0.95" fill="#f0e4f6" opacity="0.92"/>
<circle cx="259.8" cy="353.9" r="0.45" fill="#f0e4f6" opacity="0.92"/>
<circle cx="314.9" cy="307.1" r="0.8" fill="#f0e4f6" opacity="0.92"/>
<circle cx="327.6" cy="321.4" r="0.8" fill="#f0e4f6" opacity="0.92"/>
<circle cx="336.0" cy="290.4" r="0.8" fill="#f0e4f6" opacity="0.92"/>
<circle cx="336.1" cy="329.2" r="0.55" fill="#f0e4f6" opacity="0.92"/>
<circle cx="263.7" cy="345.5" r="0.95" fill="#f0e4f6" opacity="0.92"/>
<circle cx="329.9" cy="287.4" r="0.95" fill="#f0e4f6" opacity="0.92"/>
<circle cx="261.0" cy="332.6" r="0.8" fill="#f0e4f6" opacity="0.92"/>
<circle cx="340.3" cy="359.9" r="0.45" fill="#f0e4f6" opacity="0.92"/>
<circle cx="269.8" cy="299.4" r="0.95" fill="#f0e4f6" opacity="0.92"/>
<circle cx="264.0" cy="300.6" r="0.65" fill="#f0e4f6" opacity="0.92"/>
<circle cx="314.1" cy="320.1" r="0.65" fill="#f0e4f6" opacity="0.92"/>
<circle cx="305.9" cy="366.5" r="0.45" fill="#f0e4f6" opacity="0.92"/>
<circle cx="270.0" cy="285.9" r="0.65" fill="#f0e4f6" opacity="0.92"/>
<circle cx="311.9" cy="312.4" r="0.65" fill="#f0e4f6" opacity="0.92"/>
<circle cx="293.6" cy="311.0" r="0.65" fill="#f0e4f6" opacity="0.92"/>
<circle cx="339.5" cy="299.0" r="0.95" fill="#f0e4f6" opacity="0.92"/>
<circle cx="330.6" cy="344.5" r="0.55" fill="#f0e4f6" opacity="0.92"/>
<circle cx="298.6" cy="349.5" r="0.65" fill="#f0e4f6" opacity="0.92"/>
<circle cx="275.7" cy="326.4" r="0.95" fill="#f0e4f6" opacity="0.92"/>
<circle cx="268.4" cy="328.9" r="0.55" fill="#f0e4f6" opacity="0.92"/>
<circle cx="339.6" cy="334.2" r="0.65" fill="#f0e4f6" opacity="0.92"/>
<circle cx="333.7" cy="291.4" r="0.95" fill="#f0e4f6" opacity="0.92"/>
<circle cx="254.5" cy="297.5" r="1.5" fill="#f1e8f6"/>
<circle cx="258.5" cy="298.5" r="1.2" fill="#f1e8f6"/>
<circle cx="270" cy="293" r="1.1" fill="#f1e8f6"/>
<circle cx="274.5" cy="293.5" r="1.1" fill="#f1e8f6"/>
<circle cx="279.5" cy="290" r="1.0" fill="#f1e8f6"/>
<circle cx="291.5" cy="303.5" r="1.3" fill="#f1e8f6"/>
<circle cx="295.5" cy="310.5" r="1.7" fill="#f1e8f6"/>
<circle cx="299" cy="304.5" r="1.1" fill="#f1e8f6"/>
<circle cx="297" cy="321" r="1.0" fill="#f1e8f6"/>
<circle cx="322.5" cy="335.5" r="1.4" fill="#f1e8f6"/>
<circle cx="263.5" cy="350.5" r="1.0" fill="#f1e8f6"/>
<circle cx="271.5" cy="361.5" r="1.4" fill="#f1e8f6"/>
<circle cx="289" cy="298" r="0.9" fill="#f1e8f6"/>
<circle cx="310" cy="300" r="0.9" fill="#f1e8f6"/>
<circle cx="262" cy="316" r="1.0" fill="#f1e8f6"/>
<circle cx="284" cy="330" r="0.9" fill="#f1e8f6"/>
<circle cx="306" cy="352" r="1.0" fill="#f1e8f6"/>
<circle cx="253" cy="333" r="0.9" fill="#f1e8f6"/>
<circle cx="330" cy="310" r="0.9" fill="#f1e8f6"/>
</g></g>
<g clip-path="url(#c_orowt)"><g filter="url(#soft)">
<rect x="343.8" y="280.9" width="105.2" height="105.3" fill="#cfb5bf" filter="url(#f_orowt)"/>
<rect x="346.8" y="283.9" width="99.2" height="99.3" fill="url(#g_orowt)"/>
<circle cx="440.1" cy="349.2" r="0.5" fill="#9c8aa2" opacity="0.6"/>
<circle cx="356.9" cy="340.0" r="0.6" fill="#9c8aa2" opacity="0.6"/>
<circle cx="377.5" cy="370.5" r="0.7" fill="#9c8aa2" opacity="0.6"/>
<circle cx="412.7" cy="297.9" r="0.5" fill="#9c8aa2" opacity="0.6"/>
<circle cx="444.3" cy="351.9" r="0.7" fill="#9c8aa2" opacity="0.6"/>
<circle cx="355.3" cy="352.9" r="0.5" fill="#9c8aa2" opacity="0.6"/>
<circle cx="434.1" cy="294.0" r="0.5" fill="#9c8aa2" opacity="0.6"/>
<circle cx="354.6" cy="332.3" r="0.7" fill="#9c8aa2" opacity="0.6"/>
<circle cx="355.6" cy="373.2" r="0.5" fill="#9c8aa2" opacity="0.6"/>
<circle cx="441.0" cy="375.8" r="0.5" fill="#9c8aa2" opacity="0.6"/>
<circle cx="403.5" cy="373.1" r="0.5" fill="#9c8aa2" opacity="0.6"/>
<circle cx="350.0" cy="295.0" r="0.5" fill="#9c8aa2" opacity="0.6"/>
<circle cx="387.9" cy="298.7" r="0.7" fill="#9c8aa2" opacity="0.6"/>
<circle cx="426.9" cy="284.0" r="0.5" fill="#9c8aa2" opacity="0.6"/>
<circle cx="443.6" cy="366.7" r="0.6" fill="#9c8aa2" opacity="0.6"/>
<circle cx="370.8" cy="288.6" r="0.7" fill="#9c8aa2" opacity="0.6"/>
<circle cx="370.1" cy="371.5" r="0.5" fill="#9c8aa2" opacity="0.6"/>
<circle cx="367.8" cy="328.7" r="0.6" fill="#9c8aa2" opacity="0.6"/>
<circle cx="349.0" cy="314.8" r="0.7" fill="#9c8aa2" opacity="0.6"/>
<circle cx="425.2" cy="337.5" r="0.7" fill="#9c8aa2" opacity="0.6"/>
<circle cx="371.0" cy="305.5" r="0.5" fill="#9c8aa2" opacity="0.6"/>
<circle cx="445.1" cy="322.3" r="0.7" fill="#9c8aa2" opacity="0.6"/>
<circle cx="348.2" cy="333.4" r="0.5" fill="#9c8aa2" opacity="0.6"/>
<circle cx="388.9" cy="299.6" r="0.5" fill="#9c8aa2" opacity="0.6"/>
<circle cx="433.9" cy="379.3" r="0.6" fill="#9c8aa2" opacity="0.6"/>
<circle cx="360.5" cy="297.4" r="0.6" fill="#9c8aa2" opacity="0.6"/>
<circle cx="440.6" cy="303.0" r="0.7" fill="#9c8aa2" opacity="0.6"/>
<circle cx="438.4" cy="298.4" r="0.5" fill="#9c8aa2" opacity="0.6"/>
<circle cx="418.8" cy="351.1" r="0.6" fill="#9c8aa2" opacity="0.6"/>
<circle cx="364.9" cy="296.1" r="0.7" fill="#9c8aa2" opacity="0.6"/>
<circle cx="372.8" cy="293.0" r="0.5" fill="#9c8aa2" opacity="0.6"/>
<circle cx="438.5" cy="333.9" r="0.6" fill="#9c8aa2" opacity="0.6"/>
<circle cx="410.1" cy="294.3" r="0.7" fill="#9c8aa2" opacity="0.6"/>
<circle cx="443.8" cy="286.3" r="0.6" fill="#9c8aa2" opacity="0.6"/>
<circle cx="400.7" cy="311.9" r="0.6" fill="#9c8aa2" opacity="0.6"/>
<circle cx="419.8" cy="304.9" r="0.5" fill="#9c8aa2" opacity="0.6"/>
<circle cx="388.9" cy="379.4" r="0.5" fill="#9c8aa2" opacity="0.6"/>
<circle cx="392.9" cy="302.0" r="0.6" fill="#9c8aa2" opacity="0.6"/>
<circle cx="443.2" cy="317.3" r="0.7" fill="#9c8aa2" opacity="0.6"/>
<circle cx="434.3" cy="300.0" r="0.6" fill="#9c8aa2" opacity="0.6"/>
<circle cx="422.7" cy="376.6" r="0.7" fill="#9c8aa2" opacity="0.6"/>
<circle cx="375.0" cy="293.5" r="0.6" fill="#9c8aa2" opacity="0.6"/>
<circle cx="430.8" cy="340.4" r="0.6" fill="#9c8aa2" opacity="0.6"/>
<circle cx="443.0" cy="311.7" r="0.5" fill="#9c8aa2" opacity="0.6"/>
<circle cx="374.6" cy="288.9" r="0.6" fill="#9c8aa2" opacity="0.6"/>
<circle cx="440.6" cy="332.5" r="0.6" fill="#9c8aa2" opacity="0.6"/>
<circle cx="438.7" cy="348.1" r="0.6" fill="#9c8aa2" opacity="0.6"/>
<circle cx="426.5" cy="381.1" r="0.7" fill="#9c8aa2" opacity="0.6"/>
<circle cx="371.3" cy="356.3" r="0.6" fill="#9c8aa2" opacity="0.6"/>
<circle cx="349.1" cy="334.7" r="0.7" fill="#9c8aa2" opacity="0.6"/>
<circle cx="410.7" cy="290.3" r="0.5" fill="#9c8aa2" opacity="0.6"/>
<circle cx="372.6" cy="312.5" r="0.6" fill="#9c8aa2" opacity="0.6"/>
<circle cx="444.5" cy="345.8" r="0.7" fill="#9c8aa2" opacity="0.6"/>
<circle cx="385.9" cy="358.6" r="0.6" fill="#9c8aa2" opacity="0.6"/>
<circle cx="440.4" cy="347.4" r="0.6" fill="#9c8aa2" opacity="0.6"/>
<circle cx="417.3" cy="287.8" r="0.6" fill="#9c8aa2" opacity="0.6"/>
<circle cx="425.7" cy="306.6" r="0.5" fill="#9c8aa2" opacity="0.6"/>
<circle cx="415.7" cy="335.1" r="0.6" fill="#9c8aa2" opacity="0.6"/>
<circle cx="415.3" cy="286.6" r="0.5" fill="#9c8aa2" opacity="0.6"/>
<circle cx="375.6" cy="378.4" r="0.6" fill="#9c8aa2" opacity="0.6"/>
<circle cx="423.6" cy="317.0" r="0.7" fill="#9c8aa2" opacity="0.6"/>
<circle cx="445.2" cy="290.4" r="0.7" fill="#9c8aa2" opacity="0.6"/>
<circle cx="371.6" cy="303.7" r="0.5" fill="#9c8aa2" opacity="0.6"/>
<circle cx="441.9" cy="313.3" r="0.7" fill="#9c8aa2" opacity="0.6"/>
<circle cx="425.1" cy="374.9" r="0.6" fill="#9c8aa2" opacity="0.6"/>
<circle cx="436.3" cy="308.8" r="0.5" fill="#9c8aa2" opacity="0.6"/>
<circle cx="352.5" cy="298.8" r="0.6" fill="#9c8aa2" opacity="0.6"/>
<circle cx="373.4" cy="363.1" r="0.5" fill="#9c8aa2" opacity="0.6"/>
<circle cx="392.1" cy="326.8" r="0.6" fill="#9c8aa2" opacity="0.6"/>
<circle cx="401.4" cy="284.1" r="0.7" fill="#9c8aa2" opacity="0.6"/>
<circle cx="390.2" cy="296.6" r="0.7" fill="#9c8aa2" opacity="0.6"/>
<circle cx="370.6" cy="369.6" r="0.5" fill="#9c8aa2" opacity="0.6"/>
<circle cx="417.3" cy="296.7" r="0.6" fill="#9c8aa2" opacity="0.6"/>
<circle cx="419.3" cy="345.4" r="0.5" fill="#9c8aa2" opacity="0.6"/>
<circle cx="431.3" cy="332.2" r="0.6" fill="#9c8aa2" opacity="0.6"/>
<circle cx="438.7" cy="347.3" r="0.5" fill="#9c8aa2" opacity="0.6"/>
<circle cx="368.7" cy="369.9" r="0.6" fill="#9c8aa2" opacity="0.6"/>
<circle cx="420.1" cy="370.3" r="0.5" fill="#9c8aa2" opacity="0.6"/>
<circle cx="425.3" cy="354.2" r="0.6" fill="#9c8aa2" opacity="0.6"/>
<circle cx="412.5" cy="304.2" r="0.5" fill="#9c8aa2" opacity="0.6"/>
<circle cx="408.7" cy="324.7" r="0.5" fill="#9c8aa2" opacity="0.6"/>
<circle cx="443.7" cy="361.9" r="0.7" fill="#9c8aa2" opacity="0.6"/>
<circle cx="354.2" cy="306.4" r="0.7" fill="#9c8aa2" opacity="0.6"/>
<circle cx="441.0" cy="349.0" r="0.6" fill="#9c8aa2" opacity="0.6"/>
<circle cx="381.0" cy="326.3" r="0.6" fill="#9c8aa2" opacity="0.6"/>
<circle cx="366.3" cy="374.5" r="0.7" fill="#9c8aa2" opacity="0.6"/>
<circle cx="351.9" cy="305.3" r="0.5" fill="#9c8aa2" opacity="0.6"/>
<circle cx="420.9" cy="341.4" r="0.7" fill="#9c8aa2" opacity="0.6"/>
<circle cx="414.4" cy="324.4" r="0.5" fill="#9c8aa2" opacity="0.6"/>
<circle cx="360.3" cy="361.4" r="0.7" fill="#9c8aa2" opacity="0.6"/>
<circle cx="397.3" cy="286.0" r="0.6" fill="#9c8aa2" opacity="0.6"/>
<circle cx="408.8" cy="372.6" r="0.6" fill="#9c8aa2" opacity="0.6"/>
<circle cx="436.7" cy="379.9" r="0.5" fill="#9c8aa2" opacity="0.6"/>
<circle cx="381.8" cy="359.3" r="0.6" fill="#9c8aa2" opacity="0.6"/>
<circle cx="401.0" cy="300.6" r="0.5" fill="#9c8aa2" opacity="0.6"/>
<circle cx="384.5" cy="311.1" r="0.7" fill="#9c8aa2" opacity="0.6"/>
<circle cx="429.6" cy="344.6" r="0.5" fill="#9c8aa2" opacity="0.6"/>
<circle cx="358.5" cy="292.4" r="0.7" fill="#9c8aa2" opacity="0.6"/>
<circle cx="365.8" cy="286.0" r="0.7" fill="#9c8aa2" opacity="0.6"/>
<circle cx="349.6" cy="365.2" r="0.5" fill="#9c8aa2" opacity="0.6"/>
<circle cx="408.8" cy="319.9" r="0.5" fill="#9c8aa2" opacity="0.6"/>
<circle cx="430.7" cy="353.5" r="0.7" fill="#9c8aa2" opacity="0.6"/>
<circle cx="411.0" cy="375.4" r="0.6" fill="#9c8aa2" opacity="0.6"/>
<circle cx="364.2" cy="302.0" r="0.5" fill="#9c8aa2" opacity="0.6"/>
<circle cx="394.3" cy="289.8" r="0.7" fill="#9c8aa2" opacity="0.6"/>
<circle cx="351.5" cy="353.0" r="0.7" fill="#9c8aa2" opacity="0.6"/>
<circle cx="400.7" cy="341.8" r="0.5" fill="#9c8aa2" opacity="0.6"/>
<circle cx="405.7" cy="359.5" r="0.7" fill="#9c8aa2" opacity="0.6"/>
<circle cx="432.3" cy="290.1" r="0.5" fill="#9c8aa2" opacity="0.6"/>
<circle cx="437.0" cy="344.9" r="0.5" fill="#9c8aa2" opacity="0.6"/>
<circle cx="413.0" cy="353.0" r="0.6" fill="#9c8aa2" opacity="0.6"/>
<circle cx="424.1" cy="305.8" r="0.5" fill="#9c8aa2" opacity="0.6"/>
<circle cx="382.5" cy="308.6" r="0.6" fill="#9c8aa2" opacity="0.6"/>
<circle cx="348.3" cy="320.1" r="0.5" fill="#9c8aa2" opacity="0.6"/>
<circle cx="434.8" cy="358.8" r="0.7" fill="#9c8aa2" opacity="0.6"/>
<circle cx="390.9" cy="355.2" r="0.6" fill="#9c8aa2" opacity="0.6"/>
<circle cx="403.9" cy="383.0" r="0.5" fill="#9c8aa2" opacity="0.6"/>
<circle cx="375.1" cy="313.3" r="0.7" fill="#9c8aa2" opacity="0.6"/>
<circle cx="425.8" cy="345.5" r="0.5" fill="#9c8aa2" opacity="0.6"/>
<circle cx="383.3" cy="375.5" r="0.6" fill="#9c8aa2" opacity="0.6"/>
<circle cx="415.4" cy="357.8" r="0.6" fill="#9c8aa2" opacity="0.6"/>
<circle cx="411.7" cy="370.6" r="0.5" fill="#9c8aa2" opacity="0.6"/>
<circle cx="371.3" cy="380.3" r="0.7" fill="#9c8aa2" opacity="0.6"/>
<circle cx="402.0" cy="287.8" r="0.6" fill="#9c8aa2" opacity="0.6"/>
<circle cx="445.0" cy="291.4" r="0.5" fill="#9c8aa2" opacity="0.6"/>
<circle cx="432.8" cy="363.2" r="0.5" fill="#9c8aa2" opacity="0.6"/>
<circle cx="405.5" cy="338.2" r="0.7" fill="#9c8aa2" opacity="0.6"/>
<circle cx="413.7" cy="305.4" r="0.7" fill="#9c8aa2" opacity="0.6"/>
<circle cx="427.4" cy="382.2" r="0.7" fill="#9c8aa2" opacity="0.6"/>
<circle cx="348.6" cy="305.7" r="0.5" fill="#9c8aa2" opacity="0.6"/>
<circle cx="406.7" cy="308.0" r="0.5" fill="#9c8aa2" opacity="0.6"/>
<circle cx="441.8" cy="339.4" r="0.7" fill="#9c8aa2" opacity="0.6"/>
<circle cx="369.0" cy="300.3" r="0.7" fill="#9c8aa2" opacity="0.6"/>
<circle cx="425.9" cy="297.9" r="0.5" fill="#9c8aa2" opacity="0.6"/>
<circle cx="420.2" cy="371.9" r="0.6" fill="#9c8aa2" opacity="0.6"/>
<circle cx="426.7" cy="373.4" r="0.6" fill="#9c8aa2" opacity="0.6"/>
<circle cx="351.1" cy="339.8" r="0.7" fill="#9c8aa2" opacity="0.6"/>
<circle cx="371.8" cy="354.9" r="0.6" fill="#9c8aa2" opacity="0.6"/>
<circle cx="411.8" cy="287.4" r="0.6" fill="#9c8aa2" opacity="0.6"/>
<circle cx="437.8" cy="350.9" r="0.5" fill="#9c8aa2" opacity="0.6"/>
<circle cx="412.8" cy="295.8" r="0.7" fill="#9c8aa2" opacity="0.6"/>
<circle cx="395.8" cy="289.7" r="0.6" fill="#9c8aa2" opacity="0.6"/>
<circle cx="358.9" cy="309.1" r="0.6" fill="#9c8aa2" opacity="0.6"/>
<circle cx="444.3" cy="320.8" r="0.5" fill="#9c8aa2" opacity="0.6"/>
<circle cx="440.3" cy="347.8" r="0.5" fill="#9c8aa2" opacity="0.6"/>
<circle cx="402.9" cy="307.6" r="0.7" fill="#9c8aa2" opacity="0.6"/>
<circle cx="359.7" cy="322.0" r="0.6" fill="#9c8aa2" opacity="0.6"/>
<circle cx="418.5" cy="289.0" r="0.5" fill="#9c8aa2" opacity="0.6"/>
<circle cx="370.8" cy="348.2" r="0.7" fill="#9c8aa2" opacity="0.6"/>
<circle cx="351.4" cy="367.9" r="0.5" fill="#9c8aa2" opacity="0.6"/>
<circle cx="405.6" cy="306.7" r="0.6" fill="#9c8aa2" opacity="0.6"/>
<circle cx="357.9" cy="303.8" r="0.5" fill="#9c8aa2" opacity="0.6"/>
<circle cx="353.8" cy="366.0" r="0.6" fill="#9c8aa2" opacity="0.6"/>
<circle cx="361.6" cy="340.3" r="0.6" fill="#9c8aa2" opacity="0.6"/>
<circle cx="438.5" cy="294.6" r="0.6" fill="#9c8aa2" opacity="0.6"/>
<circle cx="420.3" cy="369.9" r="0.7" fill="#9c8aa2" opacity="0.6"/>
<circle cx="435.0" cy="311.4" r="0.6" fill="#9c8aa2" opacity="0.6"/>
<circle cx="411.9" cy="379.3" r="0.6" fill="#9c8aa2" opacity="0.6"/>
<circle cx="367.5" cy="378.8" r="0.6" fill="#9c8aa2" opacity="0.6"/>
<circle cx="365.6" cy="368.2" r="0.7" fill="#9c8aa2" opacity="0.6"/>
<circle cx="407.1" cy="356.7" r="0.7" fill="#9c8aa2" opacity="0.6"/>
<circle cx="347.0" cy="316.5" r="0.7" fill="#9c8aa2" opacity="0.6"/>
<circle cx="410.1" cy="290.4" r="0.5" fill="#9c8aa2" opacity="0.6"/>
<circle cx="426.3" cy="301.6" r="0.6" fill="#9c8aa2" opacity="0.6"/>
<circle cx="439.6" cy="325.7" r="0.6" fill="#9c8aa2" opacity="0.6"/>
<path d="M392.8,336.6 Q393.2,334 396,333.2 Q398.5,331.9 401.5,332.6 Q405.5,332.6 408.8,334.2 Q408.2,336.6 405.8,338 Q403.5,340.4 399.5,340.6 Q394.8,340.9 392.8,336.6Z" fill="#fbefe8"/>
</g></g>
<g clip-path="url(#c_hehet)"><g filter="url(#soft)">
<rect x="242" y="382" width="106.2" height="105" fill="#b27ac5" filter="url(#f_hehet)"/>
<circle cx="310.7" cy="479.9" r="0.6" fill="#6a429c" opacity="0.75"/>
<circle cx="257.6" cy="444.3" r="0.6" fill="#6a429c" opacity="0.75"/>
<circle cx="313.7" cy="426.8" r="0.6" fill="#6a429c" opacity="0.75"/>
<circle cx="329.6" cy="439.0" r="0.6" fill="#6a429c" opacity="0.75"/>
<circle cx="264.5" cy="451.7" r="0.6" fill="#6a429c" opacity="0.75"/>
<circle cx="280.9" cy="449.0" r="0.6" fill="#6a429c" opacity="0.75"/>
<circle cx="282.0" cy="477.4" r="0.6" fill="#6a429c" opacity="0.75"/>
<circle cx="258.9" cy="452.0" r="0.6" fill="#6a429c" opacity="0.75"/>
<circle cx="270.7" cy="410.3" r="0.6" fill="#6a429c" opacity="0.75"/>
<circle cx="290.7" cy="467.8" r="0.6" fill="#6a429c" opacity="0.75"/>
<circle cx="339.3" cy="390.7" r="0.6" fill="#6a429c" opacity="0.75"/>
<circle cx="309.9" cy="432.1" r="0.6" fill="#6a429c" opacity="0.75"/>
<circle cx="255.1" cy="443.0" r="0.6" fill="#6a429c" opacity="0.75"/>
<circle cx="330.4" cy="400.9" r="0.6" fill="#6a429c" opacity="0.75"/>
<circle cx="279.9" cy="394.2" r="0.6" fill="#6a429c" opacity="0.75"/>
<circle cx="315.2" cy="470.2" r="0.6" fill="#6a429c" opacity="0.75"/>
<circle cx="337.0" cy="421.9" r="0.6" fill="#6a429c" opacity="0.75"/>
<circle cx="310.1" cy="421.8" r="0.6" fill="#6a429c" opacity="0.75"/>
<circle cx="287.7" cy="448.2" r="0.6" fill="#6a429c" opacity="0.75"/>
<circle cx="269.1" cy="390.3" r="0.6" fill="#6a429c" opacity="0.75"/>
<circle cx="299.1" cy="417.3" r="0.6" fill="#6a429c" opacity="0.75"/>
<circle cx="289.5" cy="413.3" r="0.6" fill="#6a429c" opacity="0.75"/>
<circle cx="287.5" cy="405.9" r="0.6" fill="#6a429c" opacity="0.75"/>
<circle cx="289.2" cy="469.4" r="0.6" fill="#6a429c" opacity="0.75"/>
<circle cx="293.3" cy="475.1" r="0.6" fill="#6a429c" opacity="0.75"/>
<circle cx="260.7" cy="411.4" r="0.6" fill="#6a429c" opacity="0.75"/>
<circle cx="299.0" cy="420.6" r="0.6" fill="#6a429c" opacity="0.75"/>
<circle cx="281.6" cy="394.6" r="0.6" fill="#6a429c" opacity="0.75"/>
<circle cx="341.1" cy="457.2" r="0.6" fill="#6a429c" opacity="0.75"/>
<circle cx="252.4" cy="445.2" r="0.6" fill="#6a429c" opacity="0.75"/>
<circle cx="287.1" cy="412.7" r="0.6" fill="#6a429c" opacity="0.75"/>
<circle cx="341.3" cy="452.9" r="0.6" fill="#6a429c" opacity="0.75"/>
<circle cx="338.1" cy="452.5" r="0.6" fill="#6a429c" opacity="0.75"/>
<circle cx="330.6" cy="393.0" r="0.6" fill="#6a429c" opacity="0.75"/>
<circle cx="256.8" cy="454.5" r="0.6" fill="#6a429c" opacity="0.75"/>
<circle cx="298.5" cy="480.3" r="0.6" fill="#6a429c" opacity="0.75"/>
<circle cx="340.5" cy="429.0" r="0.6" fill="#6a429c" opacity="0.75"/>
<circle cx="302.0" cy="394.7" r="0.6" fill="#6a429c" opacity="0.75"/>
<circle cx="268.1" cy="399.7" r="0.6" fill="#6a429c" opacity="0.75"/>
<circle cx="310.1" cy="415.8" r="0.6" fill="#6a429c" opacity="0.75"/>
<circle cx="283.5" cy="475.3" r="0.6" fill="#6a429c" opacity="0.75"/>
<circle cx="318.0" cy="385.3" r="0.6" fill="#6a429c" opacity="0.75"/>
<circle cx="261.9" cy="399.1" r="0.6" fill="#6a429c" opacity="0.75"/>
<circle cx="261.3" cy="396.2" r="0.6" fill="#6a429c" opacity="0.75"/>
<circle cx="332.9" cy="457.6" r="0.6" fill="#6a429c" opacity="0.75"/>
<circle cx="301.8" cy="400.3" r="0.6" fill="#6a429c" opacity="0.75"/>
<circle cx="278.4" cy="403.1" r="0.6" fill="#6a429c" opacity="0.75"/>
<circle cx="343.3" cy="412.8" r="0.6" fill="#6a429c" opacity="0.75"/>
<circle cx="249.9" cy="454.8" r="0.6" fill="#6a429c" opacity="0.75"/>
<circle cx="287.6" cy="392.4" r="0.6" fill="#6a429c" opacity="0.75"/>
<circle cx="300.4" cy="481.6" r="0.6" fill="#6a429c" opacity="0.75"/>
<circle cx="278.3" cy="424.8" r="0.6" fill="#6a429c" opacity="0.75"/>
<circle cx="337.2" cy="460.6" r="0.6" fill="#6a429c" opacity="0.75"/>
<circle cx="328.0" cy="475.2" r="0.6" fill="#6a429c" opacity="0.75"/>
<circle cx="262.9" cy="434.0" r="0.6" fill="#6a429c" opacity="0.75"/>
<circle cx="275.7" cy="426.4" r="0.6" fill="#6a429c" opacity="0.75"/>
<circle cx="322.6" cy="479.8" r="0.6" fill="#6a429c" opacity="0.75"/>
<circle cx="287.0" cy="400.6" r="0.6" fill="#6a429c" opacity="0.75"/>
<circle cx="290.9" cy="402.9" r="0.6" fill="#6a429c" opacity="0.75"/>
<circle cx="251.1" cy="426.3" r="0.6" fill="#6a429c" opacity="0.75"/>
<circle cx="338.2" cy="481.5" r="0.6" fill="#6a429c" opacity="0.75"/>
<circle cx="326.8" cy="408.6" r="0.6" fill="#6a429c" opacity="0.75"/>
<circle cx="329.6" cy="436.0" r="0.6" fill="#6a429c" opacity="0.75"/>
<circle cx="299.8" cy="413.1" r="0.6" fill="#6a429c" opacity="0.75"/>
<circle cx="262.2" cy="436.2" r="0.6" fill="#6a429c" opacity="0.75"/>
<circle cx="332.6" cy="443.9" r="0.6" fill="#6a429c" opacity="0.75"/>
<circle cx="271.3" cy="409.0" r="0.6" fill="#6a429c" opacity="0.75"/>
<circle cx="312.6" cy="471.0" r="0.6" fill="#6a429c" opacity="0.75"/>
<circle cx="338.9" cy="407.2" r="0.6" fill="#6a429c" opacity="0.75"/>
<circle cx="251.3" cy="435.4" r="0.6" fill="#6a429c" opacity="0.75"/>
<circle cx="268.2" cy="409.1" r="0.6" fill="#6a429c" opacity="0.75"/>
<circle cx="287.2" cy="468.8" r="0.6" fill="#6a429c" opacity="0.75"/>
<circle cx="293.7" cy="404.6" r="0.6" fill="#6a429c" opacity="0.75"/>
<circle cx="252.7" cy="407.3" r="0.6" fill="#6a429c" opacity="0.75"/>
<circle cx="305.8" cy="409.5" r="0.6" fill="#6a429c" opacity="0.75"/>
<circle cx="254.0" cy="435.1" r="0.6" fill="#6a429c" opacity="0.75"/>
<circle cx="297.0" cy="481.9" r="0.6" fill="#6a429c" opacity="0.75"/>
<circle cx="328.2" cy="463.5" r="0.6" fill="#6a429c" opacity="0.75"/>
<circle cx="323.4" cy="427.8" r="0.6" fill="#6a429c" opacity="0.75"/>
<circle cx="268.7" cy="482.0" r="0.6" fill="#6a429c" opacity="0.75"/>
<circle cx="336.3" cy="462.4" r="0.6" fill="#6a429c" opacity="0.75"/>
<circle cx="257.4" cy="409.8" r="0.6" fill="#6a429c" opacity="0.75"/>
<circle cx="291.7" cy="440.5" r="0.6" fill="#6a429c" opacity="0.75"/>
<circle cx="271.9" cy="453.1" r="0.6" fill="#6a429c" opacity="0.75"/>
<circle cx="260.4" cy="413.5" r="0.6" fill="#6a429c" opacity="0.75"/>
<circle cx="313.3" cy="389.4" r="0.6" fill="#6a429c" opacity="0.75"/>
<circle cx="283.5" cy="441.3" r="0.6" fill="#6a429c" opacity="0.75"/>
<circle cx="342.1" cy="402.2" r="0.6" fill="#6a429c" opacity="0.75"/>
<circle cx="336.3" cy="443.6" r="0.6" fill="#6a429c" opacity="0.75"/>
<circle cx="308.7" cy="454.3" r="0.6" fill="#6a429c" opacity="0.75"/>
<circle cx="343.2" cy="437.6" r="0.6" fill="#6a429c" opacity="0.75"/>
<circle cx="308.1" cy="437.9" r="0.6" fill="#6a429c" opacity="0.75"/>
<circle cx="322.9" cy="433.5" r="0.6" fill="#6a429c" opacity="0.75"/>
<circle cx="254.5" cy="391.7" r="0.6" fill="#6a429c" opacity="0.75"/>
<circle cx="315.1" cy="478.3" r="0.6" fill="#6a429c" opacity="0.75"/>
<circle cx="325.2" cy="477.3" r="0.6" fill="#6a429c" opacity="0.75"/>
<circle cx="325.8" cy="415.2" r="0.6" fill="#6a429c" opacity="0.75"/>
<circle cx="293.1" cy="405.7" r="0.6" fill="#6a429c" opacity="0.75"/>
<circle cx="302.1" cy="462.1" r="0.6" fill="#6a429c" opacity="0.75"/>
<circle cx="294.7" cy="386.2" r="0.6" fill="#6a429c" opacity="0.75"/>
<circle cx="287.0" cy="393.2" r="0.6" fill="#6a429c" opacity="0.75"/>
<circle cx="320.0" cy="439.9" r="0.6" fill="#6a429c" opacity="0.75"/>
<circle cx="269.3" cy="431.3" r="0.6" fill="#6a429c" opacity="0.75"/>
<circle cx="293.9" cy="416.5" r="0.6" fill="#6a429c" opacity="0.75"/>
<circle cx="296.7" cy="428.4" r="0.6" fill="#6a429c" opacity="0.75"/>
<circle cx="270.8" cy="398.2" r="0.6" fill="#6a429c" opacity="0.75"/>
<circle cx="307.3" cy="459.9" r="0.6" fill="#6a429c" opacity="0.75"/>
<circle cx="313.5" cy="397.2" r="0.6" fill="#6a429c" opacity="0.75"/>
<circle cx="279.2" cy="447.3" r="0.6" fill="#6a429c" opacity="0.75"/>
<circle cx="262.7" cy="450.0" r="0.6" fill="#6a429c" opacity="0.75"/>
<circle cx="295.5" cy="402.7" r="0.6" fill="#6a429c" opacity="0.75"/>
<circle cx="306.8" cy="414.6" r="0.6" fill="#6a429c" opacity="0.75"/>
<circle cx="276.8" cy="414.3" r="0.6" fill="#6a429c" opacity="0.75"/>
<circle cx="274.5" cy="392.8" r="0.6" fill="#6a429c" opacity="0.75"/>
<circle cx="290.4" cy="388.5" r="0.6" fill="#6a429c" opacity="0.75"/>
<circle cx="258.3" cy="416.0" r="0.6" fill="#6a429c" opacity="0.75"/>
<circle cx="257.0" cy="436.4" r="0.6" fill="#6a429c" opacity="0.75"/>
<circle cx="332.3" cy="464.8" r="0.6" fill="#6a429c" opacity="0.75"/>
<circle cx="319.6" cy="473.7" r="0.6" fill="#6a429c" opacity="0.75"/>
<circle cx="305.9" cy="466.3" r="0.6" fill="#6a429c" opacity="0.75"/>
<circle cx="321.7" cy="429.0" r="0.6" fill="#6a429c" opacity="0.75"/>
<circle cx="327.0" cy="458.8" r="0.6" fill="#6a429c" opacity="0.75"/>
<circle cx="331.3" cy="480.3" r="0.6" fill="#6a429c" opacity="0.75"/>
<circle cx="323.0" cy="396.3" r="0.6" fill="#6a429c" opacity="0.75"/>
<circle cx="259.0" cy="401.7" r="0.6" fill="#6a429c" opacity="0.75"/>
<circle cx="302.5" cy="447.2" r="0.6" fill="#6a429c" opacity="0.75"/>
<circle cx="306.1" cy="395.3" r="0.6" fill="#6a429c" opacity="0.75"/>
<circle cx="278.5" cy="426.5" r="0.6" fill="#6a429c" opacity="0.75"/>
<circle cx="294.3" cy="422.4" r="0.6" fill="#6a429c" opacity="0.75"/>
<circle cx="335.7" cy="406.0" r="0.6" fill="#6a429c" opacity="0.75"/>
<circle cx="279.9" cy="449.2" r="0.6" fill="#6a429c" opacity="0.75"/>
<circle cx="311.9" cy="460.1" r="0.6" fill="#6a429c" opacity="0.75"/>
<circle cx="263.2" cy="417.5" r="0.6" fill="#6a429c" opacity="0.75"/>
<circle cx="310.6" cy="427.4" r="0.6" fill="#6a429c" opacity="0.75"/>
<circle cx="249.2" cy="390.9" r="0.6" fill="#6a429c" opacity="0.75"/>
<circle cx="291.7" cy="439.2" r="0.6" fill="#6a429c" opacity="0.75"/>
<circle cx="304.8" cy="441.1" r="0.6" fill="#6a429c" opacity="0.75"/>
<circle cx="299.0" cy="433.5" r="0.6" fill="#6a429c" opacity="0.75"/>
<circle cx="341.3" cy="406.2" r="0.6" fill="#6a429c" opacity="0.75"/>
<circle cx="310.2" cy="447.0" r="0.6" fill="#6a429c" opacity="0.75"/>
<circle cx="292.7" cy="450.4" r="0.6" fill="#6a429c" opacity="0.75"/>
<circle cx="289.1" cy="454.6" r="0.6" fill="#6a429c" opacity="0.75"/>
<circle cx="332.4" cy="434.0" r="0.6" fill="#6a429c" opacity="0.75"/>
<circle cx="303.7" cy="448.9" r="0.6" fill="#6a429c" opacity="0.75"/>
<circle cx="281.6" cy="427.3" r="0.6" fill="#6a429c" opacity="0.75"/>
<circle cx="336.3" cy="394.0" r="0.6" fill="#6a429c" opacity="0.75"/>
<circle cx="245.5" cy="468.4" r="0.6" fill="#6a429c" opacity="0.75"/>
<circle cx="336.0" cy="394.0" r="0.6" fill="#6a429c" opacity="0.75"/>
<circle cx="273.5" cy="468.8" r="0.6" fill="#6a429c" opacity="0.75"/>
<circle cx="298.9" cy="419.4" r="0.6" fill="#6a429c" opacity="0.75"/>
<circle cx="341.2" cy="387.7" r="0.6" fill="#6a429c" opacity="0.75"/>
<circle cx="322.9" cy="463.6" r="0.6" fill="#6a429c" opacity="0.75"/>
<circle cx="295.7" cy="479.2" r="0.6" fill="#6a429c" opacity="0.75"/>
<circle cx="332.8" cy="481.2" r="0.6" fill="#6a429c" opacity="0.75"/>
<circle cx="314.9" cy="400.3" r="0.6" fill="#6a429c" opacity="0.75"/>
<circle cx="297.7" cy="440.7" r="0.6" fill="#6a429c" opacity="0.75"/>
<circle cx="338.0" cy="439.5" r="0.6" fill="#6a429c" opacity="0.75"/>
<circle cx="334.7" cy="451.2" r="0.6" fill="#6a429c" opacity="0.75"/>
<circle cx="267.5" cy="419.7" r="0.6" fill="#6a429c" opacity="0.75"/>
<circle cx="253.2" cy="407.2" r="0.6" fill="#6a429c" opacity="0.75"/>
<circle cx="256.4" cy="462.8" r="0.6" fill="#6a429c" opacity="0.75"/>
<circle cx="250.9" cy="453.0" r="0.6" fill="#6a429c" opacity="0.75"/>
<circle cx="307.0" cy="418.3" r="0.6" fill="#6a429c" opacity="0.75"/>
<circle cx="263.5" cy="418.8" r="0.6" fill="#6a429c" opacity="0.75"/>
<circle cx="289.5" cy="460.8" r="0.6" fill="#6a429c" opacity="0.75"/>
<circle cx="263.7" cy="465.9" r="0.6" fill="#6a429c" opacity="0.75"/>
<circle cx="339.4" cy="404.8" r="0.6" fill="#6a429c" opacity="0.75"/>
<circle cx="282.9" cy="431.5" r="0.6" fill="#6a429c" opacity="0.75"/>
<circle cx="254.1" cy="468.3" r="0.6" fill="#6a429c" opacity="0.75"/>
<circle cx="249.4" cy="433.4" r="0.6" fill="#6a429c" opacity="0.75"/>
<circle cx="253.9" cy="394.9" r="0.6" fill="#6a429c" opacity="0.75"/>
<circle cx="342.1" cy="477.5" r="0.6" fill="#6a429c" opacity="0.75"/>
<circle cx="251.4" cy="414.5" r="0.6" fill="#6a429c" opacity="0.75"/>
<circle cx="279.4" cy="437.6" r="0.6" fill="#6a429c" opacity="0.75"/>
<circle cx="254.6" cy="469.4" r="0.6" fill="#6a429c" opacity="0.75"/>
<circle cx="278.0" cy="477.1" r="0.6" fill="#6a429c" opacity="0.75"/>
<circle cx="267.4" cy="430.4" r="0.6" fill="#6a429c" opacity="0.75"/>
<circle cx="335.6" cy="392.5" r="0.6" fill="#6a429c" opacity="0.75"/>
<circle cx="303.8" cy="416.6" r="0.6" fill="#6a429c" opacity="0.75"/>
<circle cx="253.8" cy="426.1" r="0.6" fill="#6a429c" opacity="0.75"/>
<circle cx="326.1" cy="388.3" r="0.6" fill="#6a429c" opacity="0.75"/>
<circle cx="274.6" cy="475.3" r="0.6" fill="#6a429c" opacity="0.75"/>
<circle cx="325.8" cy="424.5" r="0.6" fill="#6a429c" opacity="0.75"/>
<circle cx="252.7" cy="469.8" r="0.6" fill="#6a429c" opacity="0.75"/>
<circle cx="286.6" cy="425.8" r="0.6" fill="#6a429c" opacity="0.75"/>
<circle cx="285.5" cy="444.2" r="0.6" fill="#6a429c" opacity="0.75"/>
<circle cx="288.9" cy="434.5" r="0.6" fill="#6a429c" opacity="0.75"/>
<circle cx="322.6" cy="415.4" r="0.6" fill="#6a429c" opacity="0.75"/>
<circle cx="272.1" cy="413.9" r="0.6" fill="#6a429c" opacity="0.75"/>
<circle cx="337.7" cy="438.3" r="0.6" fill="#6a429c" opacity="0.75"/>
<circle cx="282.0" cy="430.1" r="0.6" fill="#6a429c" opacity="0.75"/>
<circle cx="249.5" cy="442.6" r="0.6" fill="#6a429c" opacity="0.75"/>
<circle cx="324.8" cy="394.2" r="0.6" fill="#6a429c" opacity="0.75"/>
<circle cx="307.4" cy="385.7" r="0.6" fill="#6a429c" opacity="0.75"/>
<circle cx="321.0" cy="400.6" r="0.6" fill="#6a429c" opacity="0.75"/>
<circle cx="268.8" cy="464.6" r="0.6" fill="#6a429c" opacity="0.75"/>
<circle cx="304.6" cy="457.7" r="0.6" fill="#6a429c" opacity="0.75"/>
<circle cx="247.9" cy="385.7" r="0.6" fill="#6a429c" opacity="0.75"/>
<circle cx="298.7" cy="401.1" r="0.6" fill="#6a429c" opacity="0.75"/>
<circle cx="287.0" cy="424.8" r="0.6" fill="#6a429c" opacity="0.75"/>
<circle cx="328.6" cy="449.7" r="0.6" fill="#6a429c" opacity="0.75"/>
<circle cx="254.7" cy="423.2" r="0.6" fill="#6a429c" opacity="0.75"/>
<circle cx="272.0" cy="423.7" r="0.6" fill="#6a429c" opacity="0.75"/>
<circle cx="342.1" cy="454.1" r="0.6" fill="#6a429c" opacity="0.75"/>
<circle cx="323.9" cy="399.0" r="0.6" fill="#6a429c" opacity="0.75"/>
<circle cx="275.1" cy="479.9" r="0.6" fill="#6a429c" opacity="0.75"/>
<circle cx="334.9" cy="467.8" r="0.6" fill="#6a429c" opacity="0.75"/>
<circle cx="296.7" cy="482.9" r="0.6" fill="#6a429c" opacity="0.75"/>
<circle cx="337.3" cy="467.5" r="0.6" fill="#6a429c" opacity="0.75"/>
<circle cx="327.8" cy="438.2" r="0.6" fill="#6a429c" opacity="0.75"/>
<circle cx="301.0" cy="472.9" r="0.6" fill="#6a429c" opacity="0.75"/>
<circle cx="305.0" cy="398.1" r="0.6" fill="#6a429c" opacity="0.75"/>
<circle cx="245.7" cy="442.5" r="0.6" fill="#6a429c" opacity="0.75"/>
<circle cx="334.9" cy="411.7" r="0.6" fill="#6a429c" opacity="0.75"/>
<circle cx="334.8" cy="460.2" r="0.6" fill="#6a429c" opacity="0.75"/>
<circle cx="256.3" cy="447.7" r="0.6" fill="#6a429c" opacity="0.75"/>
<circle cx="327.1" cy="427.7" r="0.6" fill="#6a429c" opacity="0.75"/>
<circle cx="277.9" cy="473.5" r="0.6" fill="#6a429c" opacity="0.75"/>
<circle cx="282.9" cy="453.6" r="0.6" fill="#6a429c" opacity="0.75"/>
<circle cx="322.8" cy="480.1" r="0.6" fill="#6a429c" opacity="0.75"/>
<circle cx="286.0" cy="430.7" r="0.6" fill="#6a429c" opacity="0.75"/>
<circle cx="338.2" cy="443.3" r="0.6" fill="#6a429c" opacity="0.75"/>
<circle cx="315.2" cy="392.6" r="0.6" fill="#6a429c" opacity="0.75"/>
<circle cx="289.3" cy="409.6" r="0.6" fill="#6a429c" opacity="0.75"/>
<circle cx="262.1" cy="442.4" r="0.6" fill="#6a429c" opacity="0.75"/>
<circle cx="283.2" cy="430.8" r="0.6" fill="#6a429c" opacity="0.75"/>
<circle cx="325.8" cy="397.4" r="0.6" fill="#6a429c" opacity="0.75"/>
<circle cx="300.4" cy="434.6" r="0.6" fill="#6a429c" opacity="0.75"/>
<circle cx="263.2" cy="423.1" r="0.6" fill="#6a429c" opacity="0.75"/>
<circle cx="296.6" cy="437.0" r="0.6" fill="#6a429c" opacity="0.75"/>
<circle cx="258.3" cy="415.8" r="0.6" fill="#6a429c" opacity="0.75"/>
<circle cx="246.9" cy="457.8" r="0.6" fill="#6a429c" opacity="0.75"/>
<circle cx="330.9" cy="437.5" r="0.6" fill="#6a429c" opacity="0.75"/>
<circle cx="315.9" cy="404.6" r="0.6" fill="#6a429c" opacity="0.75"/>
<circle cx="336.5" cy="432.7" r="0.6" fill="#6a429c" opacity="0.75"/>
<circle cx="315.5" cy="450.0" r="0.6" fill="#6a429c" opacity="0.75"/>
<circle cx="274.5" cy="449.6" r="0.6" fill="#6a429c" opacity="0.75"/>
<circle cx="258.0" cy="477.3" r="0.6" fill="#6a429c" opacity="0.75"/>
<circle cx="344.2" cy="479.2" r="0.6" fill="#6a429c" opacity="0.75"/>
<circle cx="339.6" cy="450.2" r="0.6" fill="#6a429c" opacity="0.75"/>
<circle cx="255.0" cy="396.7" r="1.5" fill="#e7def1" opacity="0.95"/>
<circle cx="299.9" cy="429.0" r="2.3" fill="#e7def1" opacity="0.95"/>
<circle cx="257.8" cy="419.8" r="1.5" fill="#e7def1" opacity="0.95"/>
<circle cx="319.3" cy="398.5" r="1.3" fill="#e7def1" opacity="0.95"/>
<circle cx="262.4" cy="458.7" r="0.8" fill="#ddd1eb" opacity="0.95"/>
<circle cx="327.3" cy="441.1" r="0.8" fill="#e7def1" opacity="0.95"/>
<circle cx="249.4" cy="391.1" r="2.3" fill="#ddd1eb" opacity="0.95"/>
<circle cx="249.8" cy="442.9" r="1.3" fill="#e7def1" opacity="0.95"/>
<circle cx="311.6" cy="453.7" r="1.0" fill="#ddd1eb" opacity="0.95"/>
<circle cx="321.3" cy="422.5" r="2.0" fill="#e7def1" opacity="0.95"/>
<circle cx="291.3" cy="405.3" r="1.0" fill="#d4c7e4" opacity="0.95"/>
<circle cx="327.2" cy="443.5" r="0.8" fill="#d4c7e4" opacity="0.95"/>
<circle cx="306.5" cy="420.1" r="1.0" fill="#e7def1" opacity="0.95"/>
<circle cx="300.1" cy="390.2" r="2.3" fill="#ddd1eb" opacity="0.95"/>
<circle cx="344.2" cy="430.5" r="1.1" fill="#d4c7e4" opacity="0.95"/>
<circle cx="331.5" cy="445.6" r="0.8" fill="#d4c7e4" opacity="0.95"/>
<circle cx="309.6" cy="417.0" r="2.3" fill="#d4c7e4" opacity="0.95"/>
<circle cx="304.5" cy="469.4" r="1.3" fill="#e7def1" opacity="0.95"/>
<circle cx="291.3" cy="473.8" r="0.8" fill="#d4c7e4" opacity="0.95"/>
<circle cx="300.5" cy="475.8" r="2.0" fill="#ddd1eb" opacity="0.95"/>
<circle cx="276.7" cy="391.4" r="1.5" fill="#ddd1eb" opacity="0.95"/>
<circle cx="319.6" cy="458.7" r="2.0" fill="#d4c7e4" opacity="0.95"/>
<circle cx="280.8" cy="389.5" r="1.3" fill="#e7def1" opacity="0.95"/>
<circle cx="302.8" cy="414.8" r="1.5" fill="#d4c7e4" opacity="0.95"/>
<circle cx="286.7" cy="453.1" r="1.5" fill="#ddd1eb" opacity="0.95"/>
<circle cx="314.9" cy="420.4" r="1.5" fill="#e7def1" opacity="0.95"/>
<circle cx="344.8" cy="398.2" r="2.0" fill="#d4c7e4" opacity="0.95"/>
<circle cx="250.5" cy="397.9" r="1.1" fill="#d4c7e4" opacity="0.95"/>
<circle cx="327.8" cy="395.7" r="2.3" fill="#d4c7e4" opacity="0.95"/>
<circle cx="271.9" cy="482.1" r="1.0" fill="#d4c7e4" opacity="0.95"/>
<circle cx="318.6" cy="387.3" r="1.1" fill="#d4c7e4" opacity="0.95"/>
<circle cx="275.3" cy="445.1" r="1.3" fill="#d4c7e4" opacity="0.95"/>
<circle cx="334.1" cy="476.2" r="1.7" fill="#e7def1" opacity="0.95"/>
<circle cx="254.0" cy="442.6" r="1.0" fill="#e7def1" opacity="0.95"/>
<circle cx="296.4" cy="453.2" r="0.8" fill="#e7def1" opacity="0.95"/>
<circle cx="247.8" cy="454.3" r="0.8" fill="#e7def1" opacity="0.95"/>
<circle cx="337.7" cy="452.1" r="1.1" fill="#d4c7e4" opacity="0.95"/>
<circle cx="286.4" cy="437.1" r="1.5" fill="#d4c7e4" opacity="0.95"/>
<circle cx="314.0" cy="414.0" r="2.0" fill="#e7def1" opacity="0.95"/>
<circle cx="281.8" cy="403.8" r="1.0" fill="#e7def1" opacity="0.95"/>
<circle cx="320.3" cy="482.2" r="0.8" fill="#d4c7e4" opacity="0.95"/>
<circle cx="307.3" cy="479.6" r="1.3" fill="#e7def1" opacity="0.95"/>
<circle cx="253.5" cy="386.8" r="1.1" fill="#d4c7e4" opacity="0.95"/>
<circle cx="294.5" cy="426.6" r="1.7" fill="#ddd1eb" opacity="0.95"/>
<circle cx="275.7" cy="403.7" r="2.3" fill="#e7def1" opacity="0.95"/>
<circle cx="248.0" cy="445.3" r="0.8" fill="#e7def1" opacity="0.95"/>
<circle cx="269.4" cy="397.4" r="1.3" fill="#d4c7e4" opacity="0.95"/>
<circle cx="269.5" cy="400.4" r="1.0" fill="#e7def1" opacity="0.95"/>
<circle cx="337.5" cy="438.6" r="1.7" fill="#d4c7e4" opacity="0.95"/>
<circle cx="330.2" cy="406.4" r="0.8" fill="#d4c7e4" opacity="0.95"/>
<circle cx="268.9" cy="469.5" r="1.7" fill="#e7def1" opacity="0.95"/>
<circle cx="289.1" cy="397.4" r="1.5" fill="#e7def1" opacity="0.95"/>
<circle cx="245.4" cy="439.9" r="2.3" fill="#ddd1eb" opacity="0.95"/>
<circle cx="340.0" cy="453.8" r="1.3" fill="#d4c7e4" opacity="0.95"/>
<circle cx="257.5" cy="469.2" r="1.0" fill="#e7def1" opacity="0.95"/>
<circle cx="296.0" cy="419.0" r="1.0" fill="#e7def1" opacity="0.95"/>
<circle cx="343.4" cy="408.4" r="2.3" fill="#d4c7e4" opacity="0.95"/>
<circle cx="339.4" cy="405.7" r="1.1" fill="#ddd1eb" opacity="0.95"/>
<circle cx="292.2" cy="419.3" r="2.3" fill="#ddd1eb" opacity="0.95"/>
<circle cx="286.7" cy="479.7" r="1.5" fill="#d4c7e4" opacity="0.95"/>
<circle cx="258.4" cy="443.8" r="1.1" fill="#e7def1" opacity="0.95"/>
<circle cx="303.6" cy="429.7" r="0.8" fill="#e7def1" opacity="0.95"/>
<circle cx="308.4" cy="400.8" r="2.3" fill="#ddd1eb" opacity="0.95"/>
<circle cx="333.8" cy="403.5" r="1.3" fill="#d4c7e4" opacity="0.95"/>
<circle cx="292.4" cy="482.7" r="2.0" fill="#d4c7e4" opacity="0.95"/>
<circle cx="307.1" cy="440.0" r="1.7" fill="#d4c7e4" opacity="0.95"/>
<circle cx="291.2" cy="392.9" r="1.3" fill="#ddd1eb" opacity="0.95"/>
<circle cx="319.1" cy="469.5" r="2.3" fill="#d4c7e4" opacity="0.95"/>
<circle cx="324.7" cy="478.8" r="2.0" fill="#ddd1eb" opacity="0.95"/>
<circle cx="327.5" cy="452.3" r="1.1" fill="#ddd1eb" opacity="0.95"/>
<circle cx="257.0" cy="392.8" r="1.1" fill="#e7def1" opacity="0.95"/>
<circle cx="300.5" cy="400.8" r="0.8" fill="#ddd1eb" opacity="0.95"/>
<circle cx="247.3" cy="419.4" r="1.1" fill="#e7def1" opacity="0.95"/>
<circle cx="304.2" cy="410.7" r="1.7" fill="#e7def1" opacity="0.95"/>
<circle cx="266.2" cy="425.8" r="2.0" fill="#d4c7e4" opacity="0.95"/>
<circle cx="260.4" cy="386.5" r="1.3" fill="#e7def1" opacity="0.95"/>
<circle cx="263.6" cy="404.8" r="1.5" fill="#d4c7e4" opacity="0.95"/>
<circle cx="317.9" cy="440.6" r="1.3" fill="#ddd1eb" opacity="0.95"/>
<circle cx="261.9" cy="440.1" r="0.8" fill="#d4c7e4" opacity="0.95"/>
<circle cx="276.1" cy="396.2" r="1.3" fill="#ddd1eb" opacity="0.95"/>
<circle cx="334.8" cy="431.3" r="0.8" fill="#ddd1eb" opacity="0.95"/>
<circle cx="331.6" cy="456.3" r="0.8" fill="#d4c7e4" opacity="0.95"/>
<circle cx="296.9" cy="445.0" r="1.1" fill="#e7def1" opacity="0.95"/>
<circle cx="300.9" cy="439.7" r="1.0" fill="#ddd1eb" opacity="0.95"/>
<circle cx="247.1" cy="424.3" r="2.3" fill="#d4c7e4" opacity="0.95"/>
<circle cx="262.9" cy="463.1" r="1.3" fill="#ddd1eb" opacity="0.95"/>
<circle cx="313.4" cy="466.8" r="1.0" fill="#e7def1" opacity="0.95"/>
<circle cx="292.2" cy="398.9" r="1.3" fill="#d4c7e4" opacity="0.95"/>
<circle cx="272.7" cy="394.9" r="1.5" fill="#ddd1eb" opacity="0.95"/>
<circle cx="275.9" cy="460.5" r="1.1" fill="#ddd1eb" opacity="0.95"/>
<circle cx="280.7" cy="399.5" r="1.7" fill="#ddd1eb" opacity="0.95"/>
<circle cx="307.3" cy="423.1" r="0.8" fill="#ddd1eb" opacity="0.95"/>
<circle cx="323.4" cy="428.2" r="1.7" fill="#ddd1eb" opacity="0.95"/>
<circle cx="311.8" cy="440.4" r="0.8" fill="#d4c7e4" opacity="0.95"/>
<circle cx="284.2" cy="446.4" r="0.8" fill="#e7def1" opacity="0.95"/>
<circle cx="262.0" cy="436.2" r="1.0" fill="#ddd1eb" opacity="0.95"/>
<circle cx="310.3" cy="429.8" r="1.3" fill="#ddd1eb" opacity="0.95"/>
<circle cx="326.9" cy="385.4" r="2.0" fill="#d4c7e4" opacity="0.95"/>
<circle cx="277.4" cy="479.5" r="1.5" fill="#ddd1eb" opacity="0.95"/>
<circle cx="279.2" cy="436.0" r="1.3" fill="#ddd1eb" opacity="0.95"/>
<circle cx="293.9" cy="413.5" r="1.3" fill="#d4c7e4" opacity="0.95"/>
<circle cx="265.9" cy="407.9" r="1.5" fill="#ddd1eb" opacity="0.95"/>
<circle cx="291.7" cy="448.2" r="1.1" fill="#d4c7e4" opacity="0.95"/>
<circle cx="268.8" cy="481.7" r="1.7" fill="#e7def1" opacity="0.95"/>
<circle cx="281.1" cy="428.0" r="2.3" fill="#ddd1eb" opacity="0.95"/>
<circle cx="283.3" cy="483.9" r="2.0" fill="#e7def1" opacity="0.95"/>
<circle cx="302.9" cy="436.8" r="1.3" fill="#d4c7e4" opacity="0.95"/>
<circle cx="340.2" cy="458.5" r="1.0" fill="#ddd1eb" opacity="0.95"/>
<circle cx="255.6" cy="430.7" r="1.7" fill="#ddd1eb" opacity="0.95"/>
<circle cx="327.3" cy="446.1" r="1.3" fill="#ddd1eb" opacity="0.95"/>
<circle cx="304.2" cy="475.1" r="1.3" fill="#ddd1eb" opacity="0.95"/>
<circle cx="320.4" cy="433.1" r="0.8" fill="#ddd1eb" opacity="0.95"/>
<circle cx="254.2" cy="408.9" r="2.0" fill="#d4c7e4" opacity="0.95"/>
<circle cx="313.9" cy="407.5" r="1.5" fill="#ddd1eb" opacity="0.95"/>
<circle cx="290.6" cy="435.5" r="1.0" fill="#e7def1" opacity="0.95"/>
<circle cx="256.0" cy="389.3" r="1.5" fill="#e7def1" opacity="0.95"/>
<circle cx="323.7" cy="409.6" r="1.0" fill="#e7def1" opacity="0.95"/>
<circle cx="331.0" cy="393.2" r="1.5" fill="#d4c7e4" opacity="0.95"/>
<circle cx="273.5" cy="478.4" r="2.3" fill="#ddd1eb" opacity="0.95"/>
<circle cx="270.9" cy="386.0" r="1.5" fill="#e7def1" opacity="0.95"/>
<circle cx="257.5" cy="450.2" r="2.0" fill="#d4c7e4" opacity="0.95"/>
<circle cx="266.9" cy="420.1" r="1.5" fill="#d4c7e4" opacity="0.95"/>
<circle cx="296.3" cy="399.6" r="1.5" fill="#ddd1eb" opacity="0.95"/>
<circle cx="333.3" cy="386.7" r="2.0" fill="#e7def1" opacity="0.95"/>
<circle cx="300.2" cy="395.4" r="1.5" fill="#ddd1eb" opacity="0.95"/>
<circle cx="284.6" cy="468.7" r="1.1" fill="#d4c7e4" opacity="0.95"/>
<circle cx="335.9" cy="480.5" r="0.8" fill="#ddd1eb" opacity="0.95"/>
<circle cx="291.7" cy="386.7" r="1.1" fill="#e7def1" opacity="0.95"/>
<circle cx="297.6" cy="403.3" r="1.3" fill="#d4c7e4" opacity="0.95"/>
<circle cx="291.2" cy="467.1" r="1.3" fill="#d4c7e4" opacity="0.95"/>
<circle cx="314.1" cy="439.7" r="1.0" fill="#e7def1" opacity="0.95"/>
<circle cx="251.9" cy="413.5" r="1.1" fill="#ddd1eb" opacity="0.95"/>
<circle cx="300.0" cy="445.1" r="1.3" fill="#ddd1eb" opacity="0.95"/>
<circle cx="262.3" cy="474.3" r="1.1" fill="#e7def1" opacity="0.95"/>
<circle cx="276.9" cy="416.1" r="2.0" fill="#d4c7e4" opacity="0.95"/>
<circle cx="290.0" cy="429.2" r="1.7" fill="#e7def1" opacity="0.95"/>
<circle cx="299.0" cy="462.8" r="1.0" fill="#ddd1eb" opacity="0.95"/>
<circle cx="324.3" cy="412.7" r="1.1" fill="#d4c7e4" opacity="0.95"/>
<circle cx="290.3" cy="460.9" r="2.0" fill="#e7def1" opacity="0.95"/>
<circle cx="297.3" cy="459.2" r="1.7" fill="#ddd1eb" opacity="0.95"/>
<circle cx="313.1" cy="389.6" r="2.3" fill="#ddd1eb" opacity="0.95"/>
<circle cx="330.6" cy="439.6" r="2.3" fill="#ddd1eb" opacity="0.95"/>
<circle cx="260.0" cy="410.1" r="0.8" fill="#ddd1eb" opacity="0.95"/>
<circle cx="306.0" cy="450.2" r="1.7" fill="#e7def1" opacity="0.95"/>
<circle cx="313.4" cy="402.7" r="1.1" fill="#d4c7e4" opacity="0.95"/>
<circle cx="275.2" cy="421.5" r="1.5" fill="#d4c7e4" opacity="0.95"/>
<circle cx="274.1" cy="462.7" r="1.1" fill="#e7def1" opacity="0.95"/>
<circle cx="286.4" cy="443.7" r="1.7" fill="#e7def1" opacity="0.95"/>
<circle cx="252.5" cy="426.9" r="0.8" fill="#d4c7e4" opacity="0.95"/>
<circle cx="269.3" cy="437.2" r="1.7" fill="#e7def1" opacity="0.95"/>
<circle cx="279.9" cy="409.0" r="1.0" fill="#ddd1eb" opacity="0.95"/>
<circle cx="307.3" cy="447.1" r="1.3" fill="#ddd1eb" opacity="0.95"/>
<circle cx="263.3" cy="413.4" r="0.8" fill="#d4c7e4" opacity="0.95"/>
<circle cx="312.9" cy="459.7" r="1.0" fill="#ddd1eb" opacity="0.95"/>
<circle cx="261.0" cy="428.2" r="1.5" fill="#e7def1" opacity="0.95"/>
<circle cx="297.9" cy="471.4" r="2.3" fill="#ddd1eb" opacity="0.95"/>
<circle cx="255.4" cy="477.9" r="0.8" fill="#ddd1eb" opacity="0.95"/>
<circle cx="278.9" cy="431.3" r="0.8" fill="#e7def1" opacity="0.95"/>
<circle cx="283.7" cy="462.4" r="0.8" fill="#e7def1" opacity="0.95"/>
<circle cx="329.5" cy="455.3" r="1.1" fill="#ddd1eb" opacity="0.95"/>
<circle cx="292.4" cy="395.8" r="1.1" fill="#ddd1eb" opacity="0.95"/>
<circle cx="291.1" cy="401.4" r="1.1" fill="#e7def1" opacity="0.95"/>
<circle cx="251.0" cy="405.9" r="2.0" fill="#ddd1eb" opacity="0.95"/>
<circle cx="337.9" cy="399.2" r="2.3" fill="#e7def1" opacity="0.95"/>
<circle cx="340.9" cy="413.1" r="0.8" fill="#e7def1" opacity="0.95"/>
<circle cx="256.7" cy="458.7" r="1.1" fill="#ddd1eb" opacity="0.95"/>
<circle cx="308.8" cy="392.4" r="1.0" fill="#d4c7e4" opacity="0.95"/>
<circle cx="270.8" cy="461.1" r="2.0" fill="#d4c7e4" opacity="0.95"/>
<circle cx="329.3" cy="458.2" r="1.3" fill="#d4c7e4" opacity="0.95"/>
<circle cx="321.4" cy="411.5" r="1.0" fill="#ddd1eb" opacity="0.95"/>
<circle cx="263.0" cy="481.8" r="2.3" fill="#d4c7e4" opacity="0.95"/>
<circle cx="333.0" cy="419.3" r="2.3" fill="#ddd1eb" opacity="0.95"/>
<circle cx="261.9" cy="451.0" r="1.3" fill="#e7def1" opacity="0.95"/>
<circle cx="323.8" cy="391.3" r="2.3" fill="#ddd1eb" opacity="0.95"/>
<circle cx="247.4" cy="432.3" r="0.8" fill="#e7def1" opacity="0.95"/>
<circle cx="339.1" cy="435.1" r="1.5" fill="#ddd1eb" opacity="0.95"/>
<circle cx="324.4" cy="420.5" r="1.1" fill="#ddd1eb" opacity="0.95"/>
<circle cx="257.9" cy="402.5" r="2.0" fill="#ddd1eb" opacity="0.95"/>
<circle cx="321.3" cy="437.6" r="2.3" fill="#e7def1" opacity="0.95"/>
<circle cx="283.1" cy="417.0" r="2.0" fill="#d4c7e4" opacity="0.95"/>
<circle cx="254.6" cy="446.1" r="1.0" fill="#e7def1" opacity="0.95"/>
<circle cx="254.1" cy="461.9" r="1.3" fill="#d4c7e4" opacity="0.95"/>
<circle cx="303.7" cy="423.9" r="0.8" fill="#d4c7e4" opacity="0.95"/>
<circle cx="285.1" cy="396.5" r="2.3" fill="#ddd1eb" opacity="0.95"/>
<circle cx="264.7" cy="430.4" r="1.7" fill="#d4c7e4" opacity="0.95"/>
<circle cx="294.5" cy="461.8" r="0.8" fill="#d4c7e4" opacity="0.95"/>
<circle cx="293.2" cy="444.0" r="2.0" fill="#e7def1" opacity="0.95"/>
<circle cx="263.2" cy="445.5" r="1.5" fill="#e7def1" opacity="0.95"/>
<circle cx="325.8" cy="469.7" r="1.5" fill="#d4c7e4" opacity="0.95"/>
<circle cx="300.4" cy="408.1" r="1.0" fill="#e7def1" opacity="0.95"/>
<circle cx="270.5" cy="413.2" r="1.1" fill="#d4c7e4" opacity="0.95"/>
<circle cx="307.5" cy="385.6" r="1.7" fill="#e7def1" opacity="0.95"/>
<circle cx="246.7" cy="429.4" r="1.3" fill="#d4c7e4" opacity="0.95"/>
<circle cx="280.4" cy="459.5" r="1.7" fill="#e7def1" opacity="0.95"/>
<circle cx="259.2" cy="397.8" r="2.0" fill="#ddd1eb" opacity="0.95"/>
<circle cx="287.8" cy="413.9" r="2.3" fill="#d4c7e4" opacity="0.95"/>
<circle cx="294.9" cy="465.1" r="1.0" fill="#d4c7e4" opacity="0.95"/>
<circle cx="317.7" cy="453.6" r="2.3" fill="#e7def1" opacity="0.95"/>
<circle cx="268.8" cy="391.2" r="1.3" fill="#e7def1" opacity="0.95"/>
<circle cx="316.6" cy="448.0" r="1.3" fill="#ddd1eb" opacity="0.95"/>
<circle cx="295.6" cy="435.2" r="2.0" fill="#d4c7e4" opacity="0.95"/>
<circle cx="343.9" cy="388.7" r="1.3" fill="#ddd1eb" opacity="0.95"/>
<circle cx="254.1" cy="480.6" r="0.8" fill="#d4c7e4" opacity="0.95"/>
<circle cx="320.5" cy="414.1" r="1.1" fill="#e7def1" opacity="0.95"/>
<circle cx="313.1" cy="445.5" r="0.8" fill="#ddd1eb" opacity="0.95"/>
<circle cx="253.7" cy="452.9" r="1.0" fill="#ddd1eb" opacity="0.95"/>
<circle cx="259.8" cy="475.1" r="1.0" fill="#ddd1eb" opacity="0.95"/>
<circle cx="299.6" cy="483.5" r="1.3" fill="#ddd1eb" opacity="0.95"/>
<circle cx="301.5" cy="450.3" r="1.3" fill="#ddd1eb" opacity="0.95"/>
<circle cx="253.0" cy="416.7" r="1.0" fill="#ddd1eb" opacity="0.95"/>
<circle cx="303.7" cy="385.8" r="1.1" fill="#ddd1eb" opacity="0.95"/>
<circle cx="344.5" cy="479.9" r="1.7" fill="#d4c7e4" opacity="0.95"/>
<circle cx="309.8" cy="426.5" r="1.0" fill="#e7def1" opacity="0.95"/>
<circle cx="344.6" cy="424.9" r="1.0" fill="#e7def1" opacity="0.95"/>
<circle cx="295.4" cy="408.7" r="0.8" fill="#e7def1" opacity="0.95"/>
<circle cx="306.7" cy="406.9" r="1.5" fill="#d4c7e4" opacity="0.95"/>
<circle cx="328.2" cy="429.2" r="2.3" fill="#ddd1eb" opacity="0.95"/>
<circle cx="266.1" cy="395.7" r="0.8" fill="#ddd1eb" opacity="0.95"/>
<circle cx="264.8" cy="442.1" r="1.3" fill="#e7def1" opacity="0.95"/>
<circle cx="263.8" cy="416.0" r="1.1" fill="#d4c7e4" opacity="0.95"/>
<circle cx="328.6" cy="470.1" r="0.8" fill="#e7def1" opacity="0.95"/>
<circle cx="286.2" cy="390.9" r="1.7" fill="#ddd1eb" opacity="0.95"/>
<circle cx="317.5" cy="427.4" r="1.1" fill="#e7def1" opacity="0.95"/>
<circle cx="307.4" cy="434.7" r="1.7" fill="#e7def1" opacity="0.95"/>
<circle cx="323.2" cy="455.6" r="2.3" fill="#d4c7e4" opacity="0.95"/>
<circle cx="340.8" cy="463.6" r="2.0" fill="#ddd1eb" opacity="0.95"/>
<circle cx="315.9" cy="430.8" r="1.0" fill="#e7def1" opacity="0.95"/>
<circle cx="318.9" cy="394.0" r="2.3" fill="#ddd1eb" opacity="0.95"/>
<circle cx="320.4" cy="475.5" r="1.0" fill="#d4c7e4" opacity="0.95"/>
<circle cx="280.7" cy="392.6" r="1.1" fill="#d4c7e4" opacity="0.95"/>
<circle cx="262.9" cy="409.5" r="0.8" fill="#e7def1" opacity="0.95"/>
<circle cx="253.5" cy="455.6" r="1.0" fill="#ddd1eb" opacity="0.95"/>
<circle cx="273.0" cy="390.2" r="1.3" fill="#e7def1" opacity="0.95"/>
<circle cx="280.6" cy="446.6" r="1.7" fill="#ddd1eb" opacity="0.95"/>
<circle cx="261.6" cy="422.8" r="0.8" fill="#e7def1" opacity="0.95"/>
<circle cx="308.1" cy="475.2" r="1.3" fill="#ddd1eb" opacity="0.95"/>
<circle cx="284.1" cy="412.2" r="1.3" fill="#d4c7e4" opacity="0.95"/>
<circle cx="319.3" cy="405.4" r="0.8" fill="#d4c7e4" opacity="0.95"/>
<circle cx="324.9" cy="464.7" r="2.3" fill="#ddd1eb" opacity="0.95"/>
<circle cx="343.7" cy="475.5" r="1.3" fill="#e7def1" opacity="0.95"/>
<circle cx="245.4" cy="409.2" r="2.3" fill="#ddd1eb" opacity="0.95"/>
<circle cx="329.6" cy="416.4" r="1.7" fill="#e7def1" opacity="0.95"/>
<circle cx="267.5" cy="454.4" r="0.8" fill="#d4c7e4" opacity="0.95"/>
<circle cx="246.2" cy="416.7" r="1.3" fill="#e7def1" opacity="0.95"/>
<circle cx="327.0" cy="436.5" r="1.7" fill="#d4c7e4" opacity="0.95"/>
<circle cx="264.0" cy="469.2" r="1.1" fill="#e7def1" opacity="0.95"/>
<circle cx="317.6" cy="483.4" r="1.1" fill="#e7def1" opacity="0.95"/>
<circle cx="257.1" cy="454.4" r="1.0" fill="#e7def1" opacity="0.95"/>
<circle cx="289.5" cy="425.8" r="1.0" fill="#e7def1" opacity="0.95"/>
<circle cx="277.1" cy="475.2" r="0.8" fill="#e7def1" opacity="0.95"/>
<circle cx="248.6" cy="401.1" r="1.1" fill="#ddd1eb" opacity="0.95"/>
<circle cx="285.9" cy="427.6" r="1.0" fill="#ddd1eb" opacity="0.95"/>
<circle cx="314.2" cy="424.8" r="0.8" fill="#ddd1eb" opacity="0.95"/>
<circle cx="295.3" cy="479.3" r="1.1" fill="#d4c7e4" opacity="0.95"/>
<circle cx="331.1" cy="434.8" r="1.7" fill="#d4c7e4" opacity="0.95"/>
<circle cx="328.7" cy="476.8" r="1.5" fill="#d4c7e4" opacity="0.95"/>
<circle cx="304.4" cy="389.8" r="1.5" fill="#ddd1eb" opacity="0.95"/>
<circle cx="295.9" cy="396.2" r="1.3" fill="#d4c7e4" opacity="0.95"/>
<circle cx="309.9" cy="443.5" r="2.3" fill="#e7def1" opacity="0.95"/>
<circle cx="311.4" cy="482.6" r="2.0" fill="#ddd1eb" opacity="0.95"/>
<circle cx="336.3" cy="392.5" r="1.7" fill="#d4c7e4" opacity="0.95"/>
<circle cx="337.3" cy="473.2" r="2.0" fill="#ddd1eb" opacity="0.95"/>
<circle cx="251.5" cy="475.6" r="1.1" fill="#ddd1eb" opacity="0.95"/>
<circle cx="312.8" cy="428.4" r="1.0" fill="#e7def1" opacity="0.95"/>
<circle cx="306.8" cy="462.0" r="2.3" fill="#ddd1eb" opacity="0.95"/>
<circle cx="275.2" cy="411.9" r="1.0" fill="#d4c7e4" opacity="0.95"/>
<circle cx="290.4" cy="452.4" r="1.5" fill="#d4c7e4" opacity="0.95"/>
<circle cx="265.4" cy="386.3" r="0.8" fill="#d4c7e4" opacity="0.95"/>
<circle cx="319.1" cy="429.9" r="1.0" fill="#ddd1eb" opacity="0.95"/>
<circle cx="266.1" cy="470.2" r="0.8" fill="#ddd1eb" opacity="0.95"/>
<circle cx="306.0" cy="397.9" r="1.1" fill="#ddd1eb" opacity="0.95"/>
<circle cx="342.0" cy="443.6" r="1.0" fill="#e7def1" opacity="0.95"/>
<circle cx="339.4" cy="387.9" r="2.3" fill="#e7def1" opacity="0.95"/>
<circle cx="321.1" cy="425.9" r="1.0" fill="#e7def1" opacity="0.95"/>
<circle cx="339.9" cy="475.8" r="1.0" fill="#d4c7e4" opacity="0.95"/>
<circle cx="277.4" cy="423.6" r="0.8" fill="#e7def1" opacity="0.95"/>
<circle cx="344.3" cy="415.9" r="1.0" fill="#e7def1" opacity="0.95"/>
<circle cx="250.8" cy="421.6" r="1.0" fill="#e7def1" opacity="0.95"/>
<circle cx="280.5" cy="472.4" r="1.3" fill="#ddd1eb" opacity="0.95"/>
<circle cx="322.7" cy="449.5" r="1.1" fill="#e7def1" opacity="0.95"/>
<circle cx="271.0" cy="472.9" r="1.7" fill="#ddd1eb" opacity="0.95"/>
<circle cx="254.5" cy="474.6" r="1.5" fill="#e7def1" opacity="0.95"/>
<circle cx="326.3" cy="403.2" r="1.7" fill="#ddd1eb" opacity="0.95"/>
<circle cx="310.0" cy="468.8" r="1.0" fill="#ddd1eb" opacity="0.95"/>
<circle cx="333.0" cy="463.9" r="1.3" fill="#ddd1eb" opacity="0.95"/>
<circle cx="303.9" cy="446.8" r="1.3" fill="#e7def1" opacity="0.95"/>
<circle cx="281.6" cy="467.1" r="1.1" fill="#e7def1" opacity="0.95"/>
<circle cx="289.8" cy="388.8" r="1.1" fill="#ddd1eb" opacity="0.95"/>
<circle cx="336.4" cy="418.9" r="0.8" fill="#e7def1" opacity="0.95"/>
<circle cx="250.6" cy="448.6" r="2.3" fill="#d4c7e4" opacity="0.95"/>
<circle cx="254.5" cy="467.2" r="1.3" fill="#d4c7e4" opacity="0.95"/>
<circle cx="310.4" cy="422.7" r="1.0" fill="#e7def1" opacity="0.95"/>
<circle cx="275.8" cy="425.4" r="1.1" fill="#e7def1" opacity="0.95"/>
<circle cx="314.7" cy="434.7" r="2.3" fill="#e7def1" opacity="0.95"/>
<circle cx="277.8" cy="386.1" r="1.1" fill="#ddd1eb" opacity="0.95"/>
<circle cx="277.4" cy="442.5" r="1.5" fill="#ddd1eb" opacity="0.95"/>
<circle cx="316.1" cy="473.6" r="0.8" fill="#e7def1" opacity="0.95"/>
<circle cx="292.3" cy="439.6" r="1.5" fill="#ddd1eb" opacity="0.95"/>
<circle cx="332.1" cy="425.1" r="1.7" fill="#e7def1" opacity="0.95"/>
<circle cx="325.7" cy="449.3" r="1.5" fill="#ddd1eb" opacity="0.95"/>
<circle cx="335.2" cy="458.0" r="1.5" fill="#ddd1eb" opacity="0.95"/>
<circle cx="307.2" cy="458.4" r="0.8" fill="#ddd1eb" opacity="0.95"/>
<circle cx="323.1" cy="396.6" r="1.1" fill="#d4c7e4" opacity="0.95"/>
<circle cx="288.1" cy="483.0" r="1.3" fill="#e7def1" opacity="0.95"/>
<circle cx="297.6" cy="450.7" r="1.0" fill="#d4c7e4" opacity="0.95"/>
<circle cx="297.7" cy="425.0" r="1.0" fill="#e7def1" opacity="0.95"/>
<circle cx="250.2" cy="464.4" r="1.3" fill="#e7def1" opacity="0.95"/>
<circle cx="301.2" cy="463.0" r="0.8" fill="#ddd1eb" opacity="0.95"/>
<circle cx="287.4" cy="423.0" r="1.1" fill="#ddd1eb" opacity="0.95"/>
<circle cx="268.1" cy="445.9" r="1.5" fill="#e7def1" opacity="0.95"/>
<circle cx="295.7" cy="391.0" r="1.0" fill="#ddd1eb" opacity="0.95"/>
<circle cx="313.4" cy="464.2" r="1.3" fill="#e7def1" opacity="0.95"/>
<circle cx="258.4" cy="412.0" r="1.3" fill="#d4c7e4" opacity="0.95"/>
<circle cx="283.2" cy="440.7" r="1.3" fill="#d4c7e4" opacity="0.95"/>
<circle cx="248.9" cy="414.4" r="1.5" fill="#ddd1eb" opacity="0.95"/>
<circle cx="294.6" cy="476.1" r="0.8" fill="#ddd1eb" opacity="0.95"/>
<circle cx="310.6" cy="409.7" r="1.1" fill="#d4c7e4" opacity="0.95"/>
<circle cx="328.1" cy="420.2" r="1.5" fill="#e7def1" opacity="0.95"/>
<circle cx="252.7" cy="436.8" r="1.0" fill="#ddd1eb" opacity="0.95"/>
<circle cx="329.8" cy="480.6" r="1.1" fill="#ddd1eb" opacity="0.95"/>
<circle cx="272.5" cy="407.8" r="1.3" fill="#e7def1" opacity="0.95"/>
<circle cx="270.0" cy="475.9" r="1.0" fill="#d4c7e4" opacity="0.95"/>
<circle cx="288.0" cy="407.9" r="1.0" fill="#ddd1eb" opacity="0.95"/>
<circle cx="297.7" cy="411.4" r="1.3" fill="#e7def1" opacity="0.95"/>
<circle cx="248.0" cy="474.4" r="1.7" fill="#ddd1eb" opacity="0.95"/>
<circle cx="310.0" cy="448.9" r="1.1" fill="#d4c7e4" opacity="0.95"/>
<circle cx="295.1" cy="416.2" r="1.3" fill="#d4c7e4" opacity="0.95"/>
<circle cx="272.3" cy="428.4" r="1.1" fill="#e7def1" opacity="0.95"/>
<circle cx="278.1" cy="462.9" r="1.1" fill="#ddd1eb" opacity="0.95"/>
<circle cx="254.9" cy="405.8" r="0.8" fill="#d4c7e4" opacity="0.95"/>
<circle cx="273.1" cy="438.9" r="1.5" fill="#d4c7e4" opacity="0.95"/>
<circle cx="293.7" cy="430.1" r="1.5" fill="#e7def1" opacity="0.95"/>
<circle cx="334.5" cy="429.0" r="1.0" fill="#d4c7e4" opacity="0.95"/>
<circle cx="343.0" cy="453.2" r="1.1" fill="#e7def1" opacity="0.95"/>
<circle cx="247.5" cy="396.8" r="1.1" fill="#ddd1eb" opacity="0.95"/>
<circle cx="323.8" cy="434.6" r="1.0" fill="#d4c7e4" opacity="0.95"/>
<circle cx="333.8" cy="453.0" r="1.3" fill="#ddd1eb" opacity="0.95"/>
<circle cx="345.1" cy="450.3" r="1.1" fill="#e7def1" opacity="0.95"/>
<circle cx="322.3" cy="401.8" r="1.1" fill="#e7def1" opacity="0.95"/>
<circle cx="266.4" cy="412.9" r="0.8" fill="#ddd1eb" opacity="0.95"/>
<circle cx="286.2" cy="386.5" r="2.3" fill="#e7def1" opacity="0.95"/>
<circle cx="261.1" cy="470.0" r="1.0" fill="#e7def1" opacity="0.95"/>
<circle cx="336.1" cy="462.6" r="1.5" fill="#d4c7e4" opacity="0.95"/>
<circle cx="245.8" cy="400.4" r="0.8" fill="#ddd1eb" opacity="0.95"/>
<circle cx="315.3" cy="482.1" r="0.8" fill="#ddd1eb" opacity="0.95"/>
<circle cx="256.0" cy="434.8" r="1.1" fill="#d4c7e4" opacity="0.95"/>
<circle cx="319.7" cy="418.4" r="1.7" fill="#e7def1" opacity="0.95"/>
<circle cx="300.8" cy="469.0" r="1.0" fill="#e7def1" opacity="0.95"/>
<circle cx="331.0" cy="399.6" r="2.0" fill="#ddd1eb" opacity="0.95"/>
<circle cx="270.8" cy="421.4" r="1.3" fill="#e7def1" opacity="0.95"/>
<circle cx="259.4" cy="425.0" r="0.8" fill="#e7def1" opacity="0.95"/>
<circle cx="323.8" cy="459.3" r="0.8" fill="#e7def1" opacity="0.95"/>
<circle cx="345.2" cy="468.1" r="2.3" fill="#ddd1eb" opacity="0.95"/>
<circle cx="324.6" cy="442.3" r="1.7" fill="#e7def1" opacity="0.95"/>
<circle cx="303.2" cy="433.1" r="1.1" fill="#d4c7e4" opacity="0.95"/>
<circle cx="333.8" cy="411.0" r="1.5" fill="#ddd1eb" opacity="0.95"/>
<circle cx="272.4" cy="418.1" r="1.0" fill="#d4c7e4" opacity="0.95"/>
<circle cx="294.5" cy="393.9" r="0.8" fill="#e7def1" opacity="0.95"/>
<circle cx="270.2" cy="456.3" r="2.0" fill="#e7def1" opacity="0.95"/>
<circle cx="280.2" cy="396.7" r="0.8" fill="#d4c7e4" opacity="0.95"/>
<circle cx="281.0" cy="463.8" r="1.5" fill="#d4c7e4" opacity="0.95"/>
<circle cx="287.3" cy="449.1" r="0.8" fill="#ddd1eb" opacity="0.95"/>
<circle cx="261.5" cy="419.7" r="1.1" fill="#d4c7e4" opacity="0.95"/>
<circle cx="338.1" cy="448.0" r="1.5" fill="#e7def1" opacity="0.95"/>
<circle cx="329.0" cy="409.4" r="1.1" fill="#e7def1" opacity="0.95"/>
<circle cx="264.4" cy="398.1" r="1.0" fill="#ddd1eb" opacity="0.95"/>
<circle cx="272.8" cy="442.3" r="1.5" fill="#ddd1eb" opacity="0.95"/>
<circle cx="301.9" cy="403.7" r="1.7" fill="#d4c7e4" opacity="0.95"/>
<circle cx="322.7" cy="416.5" r="1.3" fill="#d4c7e4" opacity="0.95"/>
<circle cx="265.7" cy="477.1" r="2.3" fill="#ddd1eb" opacity="0.95"/>
<circle cx="345.1" cy="441.0" r="2.3" fill="#ddd1eb" opacity="0.95"/>
<circle cx="284.0" cy="459.9" r="0.8" fill="#e7def1" opacity="0.95"/>
<circle cx="315.6" cy="477.0" r="2.0" fill="#ddd1eb" opacity="0.95"/>
<circle cx="258.9" cy="436.4" r="1.7" fill="#ddd1eb" opacity="0.95"/>
<circle cx="257.3" cy="481.3" r="1.3" fill="#ddd1eb" opacity="0.95"/>
<circle cx="301.8" cy="442.2" r="1.1" fill="#ddd1eb" opacity="0.95"/>
<circle cx="314.9" cy="399.6" r="1.7" fill="#e7def1" opacity="0.95"/>
<circle cx="265.4" cy="401.8" r="1.1" fill="#d4c7e4" opacity="0.95"/>
<circle cx="336.0" cy="444.9" r="1.1" fill="#ddd1eb" opacity="0.95"/>
<circle cx="277.4" cy="473.0" r="1.0" fill="#d4c7e4" opacity="0.95"/>
<circle cx="340.6" cy="438.6" r="1.0" fill="#e7def1" opacity="0.95"/>
<circle cx="283.9" cy="430.6" r="1.1" fill="#d4c7e4" opacity="0.95"/>
<circle cx="285.8" cy="465.6" r="1.1" fill="#e7def1" opacity="0.95"/>
<circle cx="265.4" cy="450.1" r="1.1" fill="#e7def1" opacity="0.95"/>
<circle cx="302.1" cy="420.6" r="1.1" fill="#ddd1eb" opacity="0.95"/>
<circle cx="307.8" cy="412.8" r="1.3" fill="#e7def1" opacity="0.95"/>
<circle cx="247.7" cy="435.3" r="0.8" fill="#d4c7e4" opacity="0.95"/>
<circle cx="273.5" cy="470.1" r="1.5" fill="#d4c7e4" opacity="0.95"/>
<circle cx="316.4" cy="396.5" r="0.8" fill="#ddd1eb" opacity="0.95"/>
<circle cx="269.2" cy="404.7" r="1.7" fill="#e7def1" opacity="0.95"/>
<circle cx="340.5" cy="395.5" r="1.0" fill="#d4c7e4" opacity="0.95"/>
<circle cx="276.7" cy="429.6" r="0.8" fill="#d4c7e4" opacity="0.95"/>
<circle cx="297.6" cy="421.1" r="1.1" fill="#e7def1" opacity="0.95"/>
<circle cx="299.9" cy="434.7" r="1.0" fill="#ddd1eb" opacity="0.95"/>
<circle cx="256.1" cy="437.2" r="0.8" fill="#ddd1eb" opacity="0.95"/>
<circle cx="265.0" cy="393.1" r="1.1" fill="#e7def1" opacity="0.95"/>
<circle cx="267.6" cy="441.3" r="1.1" fill="#e7def1" opacity="0.95"/>
<circle cx="329.2" cy="390.1" r="1.0" fill="#d4c7e4" opacity="0.95"/>
<circle cx="262.1" cy="389.9" r="0.8" fill="#e7def1" opacity="0.95"/>
<circle cx="279.7" cy="421.5" r="2.0" fill="#d4c7e4" opacity="0.95"/>
<circle cx="275.0" cy="436.1" r="1.3" fill="#ddd1eb" opacity="0.95"/>
<circle cx="336.8" cy="426.4" r="1.3" fill="#d4c7e4" opacity="0.95"/>
<circle cx="320.9" cy="409.2" r="1.0" fill="#d4c7e4" opacity="0.95"/>
<circle cx="246.7" cy="465.5" r="1.5" fill="#d4c7e4" opacity="0.95"/>
<circle cx="262.2" cy="407.4" r="1.1" fill="#ddd1eb" opacity="0.95"/>
<circle cx="276.5" cy="465.5" r="1.0" fill="#d4c7e4" opacity="0.95"/>
<circle cx="305.4" cy="426.1" r="1.5" fill="#ddd1eb" opacity="0.95"/>
<circle cx="315.4" cy="470.7" r="1.0" fill="#ddd1eb" opacity="0.95"/>
<circle cx="260.1" cy="457.6" r="0.8" fill="#ddd1eb" opacity="0.95"/>
<circle cx="277.2" cy="455.1" r="1.1" fill="#d4c7e4" opacity="0.95"/>
<circle cx="251.0" cy="482.4" r="1.7" fill="#d4c7e4" opacity="0.95"/>
<circle cx="274.6" cy="399.6" r="0.8" fill="#e7def1" opacity="0.95"/>
<circle cx="320.5" cy="390.2" r="0.8" fill="#d4c7e4" opacity="0.95"/>
<circle cx="261.3" cy="401.6" r="0.8" fill="#ddd1eb" opacity="0.95"/>
<circle cx="245.9" cy="480.1" r="1.0" fill="#ddd1eb" opacity="0.95"/>
<circle cx="267.2" cy="465.1" r="1.7" fill="#ddd1eb" opacity="0.95"/>
<circle cx="278.6" cy="476.7" r="0.8" fill="#e7def1" opacity="0.95"/>
<circle cx="252.3" cy="478.7" r="0.8" fill="#e7def1" opacity="0.95"/>
<circle cx="268.4" cy="432.1" r="1.5" fill="#e7def1" opacity="0.95"/>
<circle cx="304.0" cy="393.4" r="1.5" fill="#e7def1" opacity="0.95"/>
<circle cx="343.1" cy="422.1" r="1.0" fill="#e7def1" opacity="0.95"/>
<circle cx="323.0" cy="399.1" r="0.8" fill="#d4c7e4" opacity="0.95"/>
<circle cx="276.9" cy="449.7" r="1.3" fill="#d4c7e4" opacity="0.95"/>
<circle cx="260.6" cy="417.2" r="1.1" fill="#d4c7e4" opacity="0.95"/>
<circle cx="334.6" cy="398.5" r="0.8" fill="#ddd1eb" opacity="0.95"/>
<circle cx="280.7" cy="438.0" r="0.8" fill="#e7def1" opacity="0.95"/>
<circle cx="287.6" cy="432.6" r="1.5" fill="#d4c7e4" opacity="0.95"/>
<circle cx="286.7" cy="400.7" r="1.0" fill="#ddd1eb" opacity="0.95"/>
<circle cx="296.7" cy="440.7" r="1.0" fill="#d4c7e4" opacity="0.95"/>
<circle cx="266.7" cy="473.4" r="1.0" fill="#e7def1" opacity="0.95"/>
<circle cx="310.5" cy="434.7" r="0.8" fill="#ddd1eb" opacity="0.95"/>
<circle cx="251.9" cy="430.1" r="1.5" fill="#e7def1" opacity="0.95"/>
<circle cx="296.6" cy="414.0" r="1.0" fill="#e7def1" opacity="0.95"/>
<circle cx="316.8" cy="416.8" r="1.0" fill="#ddd1eb" opacity="0.95"/>
<circle cx="309.2" cy="465.8" r="1.1" fill="#e7def1" opacity="0.95"/>
<circle cx="309.0" cy="454.7" r="1.3" fill="#d4c7e4" opacity="0.95"/>
<circle cx="250.2" cy="454.2" r="1.1" fill="#e7def1" opacity="0.95"/>
<circle cx="275.9" cy="432.9" r="1.1" fill="#e7def1" opacity="0.95"/>
<circle cx="268.6" cy="407.5" r="0.8" fill="#e7def1" opacity="0.95"/>
<circle cx="250.6" cy="395.1" r="1.3" fill="#ddd1eb" opacity="0.95"/>
<circle cx="289.6" cy="476.4" r="2.0" fill="#e7def1" opacity="0.95"/>
<circle cx="332.0" cy="430.1" r="0.8" fill="#d4c7e4" opacity="0.95"/>
<circle cx="341.1" cy="480.4" r="1.1" fill="#ddd1eb" opacity="0.95"/>
<circle cx="287.2" cy="458.3" r="1.5" fill="#ddd1eb" opacity="0.95"/>
<circle cx="271.1" cy="430.2" r="0.8" fill="#e7def1" opacity="0.95"/>
<circle cx="297.1" cy="385.9" r="1.1" fill="#ddd1eb" opacity="0.95"/>
<circle cx="317.1" cy="444.9" r="1.5" fill="#ddd1eb" opacity="0.95"/>
<circle cx="323.2" cy="406.2" r="1.7" fill="#e7def1" opacity="0.95"/>
<circle cx="289.4" cy="470.3" r="1.3" fill="#ddd1eb" opacity="0.95"/>
<circle cx="262.1" cy="396.0" r="1.1" fill="#e7def1" opacity="0.95"/>
<circle cx="341.2" cy="472.3" r="0.8" fill="#e7def1" opacity="0.95"/>
<circle cx="246.6" cy="386.6" r="1.7" fill="#d4c7e4" opacity="0.95"/>
<circle cx="287.2" cy="405.4" r="0.8" fill="#ddd1eb" opacity="0.95"/>
<circle cx="334.9" cy="468.2" r="1.0" fill="#ddd1eb" opacity="0.95"/>
<circle cx="281.4" cy="475.2" r="1.3" fill="#d4c7e4" opacity="0.95"/>
<circle cx="245.3" cy="460.4" r="2.3" fill="#ddd1eb" opacity="0.95"/>
<circle cx="253.6" cy="434.2" r="1.0" fill="#e7def1" opacity="0.95"/>
<circle cx="273.4" cy="457.5" r="1.0" fill="#e7def1" opacity="0.95"/>
<circle cx="249.0" cy="457.8" r="1.1" fill="#ddd1eb" opacity="0.95"/>
<circle cx="284.4" cy="456.0" r="1.3" fill="#ddd1eb" opacity="0.95"/>
<circle cx="255.8" cy="425.8" r="2.3" fill="#d4c7e4" opacity="0.95"/>
<circle cx="302.7" cy="456.1" r="1.0" fill="#e7def1" opacity="0.95"/>
<circle cx="339.6" cy="415.2" r="0.8" fill="#e7def1" opacity="0.95"/>
<circle cx="312.6" cy="456.2" r="1.3" fill="#d4c7e4" opacity="0.95"/>
<circle cx="263.8" cy="439.8" r="0.8" fill="#ddd1eb" opacity="0.95"/>
<circle cx="284.2" cy="473.1" r="1.0" fill="#e7def1" opacity="0.95"/>
<circle cx="274.8" cy="454.7" r="0.8" fill="#e7def1" opacity="0.95"/>
<circle cx="281.0" cy="406.8" r="0.8" fill="#d4c7e4" opacity="0.95"/>
<circle cx="255.4" cy="412.0" r="0.8" fill="#ddd1eb" opacity="0.95"/>
<circle cx="313.7" cy="442.9" r="1.1" fill="#d4c7e4" opacity="0.95"/>
<circle cx="303.7" cy="482.9" r="1.7" fill="#d4c7e4" opacity="0.95"/>
<circle cx="317.1" cy="389.4" r="0.8" fill="#e7def1" opacity="0.95"/>
<circle cx="305.7" cy="416.6" r="1.0" fill="#d4c7e4" opacity="0.95"/>
<circle cx="295.7" cy="388.6" r="1.0" fill="#d4c7e4" opacity="0.95"/>
<circle cx="250.2" cy="469.3" r="1.7" fill="#d4c7e4" opacity="0.95"/>
<circle cx="264.7" cy="390.8" r="0.8" fill="#d4c7e4" opacity="0.95"/>
<circle cx="247.0" cy="470.7" r="1.1" fill="#e7def1" opacity="0.95"/>
<circle cx="340.7" cy="430.0" r="1.7" fill="#ddd1eb" opacity="0.95"/>
<circle cx="335.9" cy="415.3" r="2.0" fill="#e7def1" opacity="0.95"/>
<circle cx="310.0" cy="479.0" r="0.8" fill="#e7def1" opacity="0.95"/>
<circle cx="339.5" cy="420.6" r="2.0" fill="#d4c7e4" opacity="0.95"/>
<circle cx="294.4" cy="410.7" r="1.0" fill="#e7def1" opacity="0.95"/>
<circle cx="306.0" cy="472.4" r="1.3" fill="#ddd1eb" opacity="0.95"/>
<circle cx="260.9" cy="412.5" r="0.8" fill="#ddd1eb" opacity="0.95"/>
<circle cx="313.3" cy="472.5" r="0.8" fill="#d4c7e4" opacity="0.95"/>
<circle cx="300.0" cy="452.9" r="1.3" fill="#d4c7e4" opacity="0.95"/>
<circle cx="302.0" cy="466.1" r="1.5" fill="#e7def1" opacity="0.95"/>
<circle cx="275.6" cy="388.7" r="1.1" fill="#ddd1eb" opacity="0.95"/>
<circle cx="282.5" cy="434.6" r="1.0" fill="#e7def1" opacity="0.95"/>
<circle cx="336.4" cy="406.9" r="1.5" fill="#d4c7e4" opacity="0.95"/>
<circle cx="322.1" cy="471.4" r="0.8" fill="#ddd1eb" opacity="0.95"/>
<circle cx="306.0" cy="444.5" r="1.1" fill="#ddd1eb" opacity="0.95"/>
<circle cx="311.5" cy="473.0" r="0.8" fill="#d4c7e4" opacity="0.95"/>
<circle cx="288.6" cy="440.9" r="1.5" fill="#ddd1eb" opacity="0.95"/>
<circle cx="261.4" cy="466.9" r="1.5" fill="#d4c7e4" opacity="0.95"/>
<circle cx="299.4" cy="416.3" r="1.5" fill="#e7def1" opacity="0.95"/>
<circle cx="313.2" cy="449.7" r="1.3" fill="#ddd1eb" opacity="0.95"/>
<circle cx="286.8" cy="462.5" r="1.3" fill="#ddd1eb" opacity="0.95"/>
<circle cx="323.3" cy="482.9" r="0.8" fill="#e7def1" opacity="0.95"/>
<circle cx="254.8" cy="400.2" r="0.8" fill="#d4c7e4" opacity="0.95"/>
<circle cx="245.7" cy="403.9" r="1.0" fill="#ddd1eb" opacity="0.95"/>
<circle cx="294.8" cy="468.0" r="0.8" fill="#ddd1eb" opacity="0.95"/>
<circle cx="251.1" cy="400.8" r="0.8" fill="#d4c7e4" opacity="0.95"/>
<circle cx="322.4" cy="445.5" r="1.1" fill="#d4c7e4" opacity="0.95"/>
<circle cx="288.6" cy="464.4" r="0.8" fill="#ddd1eb" opacity="0.95"/>
<circle cx="261.8" cy="433.2" r="0.8" fill="#d4c7e4" opacity="0.95"/>
<circle cx="259.6" cy="405.9" r="1.3" fill="#d4c7e4" opacity="0.95"/>
<circle cx="344.2" cy="456.6" r="1.3" fill="#ddd1eb" opacity="0.95"/>
<circle cx="266.4" cy="416.4" r="1.1" fill="#e7def1" opacity="0.95"/>
<circle cx="250.0" cy="409.8" r="1.1" fill="#e7def1" opacity="0.95"/>
<circle cx="257.2" cy="462.8" r="0.8" fill="#d4c7e4" opacity="0.95"/>
<circle cx="327.0" cy="456.8" r="0.8" fill="#d4c7e4" opacity="0.95"/>
<circle cx="270.7" cy="450.4" r="1.1" fill="#d4c7e4" opacity="0.95"/>
<circle cx="342.3" cy="418.4" r="1.0" fill="#ddd1eb" opacity="0.95"/>
<circle cx="343.3" cy="436.4" r="1.1" fill="#e7def1" opacity="0.95"/>
<circle cx="245.4" cy="450.7" r="1.0" fill="#e7def1" opacity="0.95"/>
<circle cx="272.0" cy="398.6" r="1.0" fill="#ddd1eb" opacity="0.95"/>
<circle cx="310.6" cy="406.7" r="0.8" fill="#d4c7e4" opacity="0.95"/>
<circle cx="293.1" cy="457.1" r="1.5" fill="#e7def1" opacity="0.95"/>
<circle cx="326.9" cy="424.7" r="1.3" fill="#d4c7e4" opacity="0.95"/>
<circle cx="256.2" cy="385.6" r="1.1" fill="#e7def1" opacity="0.95"/>
<circle cx="299.1" cy="441.8" r="1.0" fill="#e7def1" opacity="0.95"/>
<circle cx="245.1" cy="446.7" r="1.3" fill="#d4c7e4" opacity="0.95"/>
<circle cx="344.5" cy="401.7" r="0.8" fill="#ddd1eb" opacity="0.95"/>
<circle cx="330.6" cy="460.4" r="0.8" fill="#d4c7e4" opacity="0.95"/>
<circle cx="305.2" cy="455.2" r="1.3" fill="#ddd1eb" opacity="0.95"/>
<circle cx="248.9" cy="438.7" r="1.1" fill="#e7def1" opacity="0.95"/>
<circle cx="272.7" cy="453.8" r="1.1" fill="#d4c7e4" opacity="0.95"/>
<circle cx="280.5" cy="452.6" r="1.7" fill="#e7def1" opacity="0.95"/>
<circle cx="283.4" cy="424.9" r="1.1" fill="#d4c7e4" opacity="0.95"/>
<circle cx="327.3" cy="454.8" r="0.8" fill="#e7def1" opacity="0.95"/>
<circle cx="314.1" cy="395.9" r="1.0" fill="#e7def1" opacity="0.95"/>
<circle cx="332.5" cy="469.2" r="1.1" fill="#ddd1eb" opacity="0.95"/>
<circle cx="293.5" cy="452.1" r="1.0" fill="#d4c7e4" opacity="0.95"/>
<circle cx="320.0" cy="463.8" r="1.3" fill="#e7def1" opacity="0.95"/>
<circle cx="316.5" cy="410.2" r="1.0" fill="#d4c7e4" opacity="0.95"/>
<circle cx="328.8" cy="464.8" r="1.1" fill="#ddd1eb" opacity="0.95"/>
<circle cx="271.8" cy="446.1" r="1.5" fill="#e7def1" opacity="0.95"/>
<circle cx="297.4" cy="465.8" r="1.0" fill="#d4c7e4" opacity="0.95"/>
<circle cx="318.0" cy="407.2" r="1.0" fill="#d4c7e4" opacity="0.95"/>
<circle cx="311.0" cy="386.3" r="0.8" fill="#e7def1" opacity="0.95"/>
<circle cx="271.2" cy="424.8" r="1.7" fill="#ddd1eb" opacity="0.95"/>
<circle cx="334.3" cy="482.6" r="1.1" fill="#d4c7e4" opacity="0.95"/>
<circle cx="331.1" cy="403.2" r="1.0" fill="#ddd1eb" opacity="0.95"/>
<circle cx="323.8" cy="387.7" r="0.8" fill="#ddd1eb" opacity="0.95"/>
<circle cx="300.3" cy="385.9" r="0.8" fill="#e7def1" opacity="0.95"/>
<circle cx="328.7" cy="412.0" r="1.1" fill="#d4c7e4" opacity="0.95"/>
<circle cx="259.0" cy="432.5" r="1.7" fill="#ddd1eb" opacity="0.95"/>
<circle cx="333.1" cy="390.2" r="0.8" fill="#d4c7e4" opacity="0.95"/>
<circle cx="276.3" cy="438.7" r="1.0" fill="#d4c7e4" opacity="0.95"/>
<circle cx="259.2" cy="478.1" r="1.3" fill="#d4c7e4" opacity="0.95"/>
<circle cx="274.7" cy="385.7" r="1.3" fill="#d4c7e4" opacity="0.95"/>
<circle cx="251.1" cy="435.3" r="0.8" fill="#ddd1eb" opacity="0.95"/>
<circle cx="267.0" cy="461.8" r="1.0" fill="#ddd1eb" opacity="0.95"/>
<circle cx="321.3" cy="431.0" r="1.0" fill="#ddd1eb" opacity="0.95"/>
<circle cx="265.3" cy="435.9" r="1.3" fill="#d4c7e4" opacity="0.95"/>
<circle cx="257.5" cy="466.0" r="1.1" fill="#d4c7e4" opacity="0.95"/>
<circle cx="251.1" cy="456.3" r="0.8" fill="#d4c7e4" opacity="0.95"/>
<circle cx="310.5" cy="398.0" r="0.8" fill="#e7def1" opacity="0.95"/>
<circle cx="299.6" cy="437.3" r="1.0" fill="#d4c7e4" opacity="0.95"/>
<circle cx="301.0" cy="423.2" r="1.1" fill="#ddd1eb" opacity="0.95"/>
<circle cx="251.8" cy="419.1" r="1.3" fill="#e7def1" opacity="0.95"/>
<circle cx="316.5" cy="463.8" r="1.0" fill="#d4c7e4" opacity="0.95"/>
<circle cx="315.8" cy="457.0" r="1.1" fill="#ddd1eb" opacity="0.95"/>
<circle cx="268.2" cy="388.4" r="1.1" fill="#ddd1eb" opacity="0.95"/>
<circle cx="284.0" cy="408.2" r="1.7" fill="#e7def1" opacity="0.95"/>
<circle cx="316.2" cy="403.7" r="1.3" fill="#e7def1" opacity="0.95"/>
<circle cx="339.2" cy="441.2" r="0.8" fill="#ddd1eb" opacity="0.95"/>
<circle cx="296.1" cy="448.0" r="1.5" fill="#ddd1eb" opacity="0.95"/>
<circle cx="253.8" cy="421.6" r="1.1" fill="#d4c7e4" opacity="0.95"/>
<circle cx="277.0" cy="408.1" r="0.8" fill="#ddd1eb" opacity="0.95"/>
<circle cx="253.3" cy="391.8" r="1.0" fill="#e7def1" opacity="0.95"/>
<circle cx="294.1" cy="422.5" r="1.0" fill="#d4c7e4" opacity="0.95"/>
<circle cx="332.4" cy="408.6" r="0.8" fill="#d4c7e4" opacity="0.95"/>
<circle cx="287.5" cy="420.1" r="1.3" fill="#e7def1" opacity="0.95"/>
<circle cx="303.4" cy="460.2" r="1.1" fill="#e7def1" opacity="0.95"/>
<circle cx="331.9" cy="451.1" r="1.0" fill="#d4c7e4" opacity="0.95"/>
<circle cx="270.4" cy="410.0" r="1.0" fill="#ddd1eb" opacity="0.95"/>
<circle cx="269.9" cy="416.7" r="1.0" fill="#e7def1" opacity="0.95"/>
<circle cx="263.2" cy="448.5" r="1.0" fill="#e7def1" opacity="0.95"/>
<circle cx="334.2" cy="439.0" r="0.8" fill="#ddd1eb" opacity="0.95"/>
<circle cx="320.7" cy="442.4" r="1.1" fill="#e7def1" opacity="0.95"/>
<circle cx="294.7" cy="469.9" r="0.8" fill="#d4c7e4" opacity="0.95"/>
<circle cx="282.6" cy="457.7" r="0.8" fill="#e7def1" opacity="0.95"/>
<circle cx="257.3" cy="440.9" r="1.1" fill="#ddd1eb" opacity="0.95"/>
<circle cx="268.7" cy="427.7" r="0.8" fill="#ddd1eb" opacity="0.95"/>
<circle cx="263.0" cy="455.4" r="2.0" fill="#ddd1eb" opacity="0.95"/>
<circle cx="323.5" cy="475.0" r="1.5" fill="#d4c7e4" opacity="0.95"/>
<circle cx="341.1" cy="448.3" r="1.0" fill="#ddd1eb" opacity="0.95"/>
<circle cx="324.8" cy="400.1" r="0.8" fill="#d4c7e4" opacity="0.95"/>
<circle cx="335.2" cy="433.9" r="1.3" fill="#ddd1eb" opacity="0.95"/>
<circle cx="263.9" cy="420.9" r="0.8" fill="#ddd1eb" opacity="0.95"/>
<circle cx="344.6" cy="393.8" r="2.0" fill="#e7def1" opacity="0.95"/>
<circle cx="252.1" cy="423.3" r="0.8" fill="#d4c7e4" opacity="0.95"/>
<circle cx="290.2" cy="455.9" r="1.1" fill="#d4c7e4" opacity="0.95"/>
<circle cx="304.9" cy="422.0" r="0.8" fill="#ddd1eb" opacity="0.95"/>
<circle cx="343.2" cy="433.4" r="1.5" fill="#e7def1" opacity="0.95"/>
<circle cx="343.4" cy="446.6" r="1.0" fill="#d4c7e4" opacity="0.95"/>
<circle cx="249.5" cy="428.5" r="0.8" fill="#ddd1eb" opacity="0.95"/>
<circle cx="260.3" cy="392.2" r="1.7" fill="#e7def1" opacity="0.95"/>
<circle cx="307.4" cy="429.3" r="0.8" fill="#d4c7e4" opacity="0.95"/>
<circle cx="337.1" cy="442.2" r="1.1" fill="#ddd1eb" opacity="0.95"/>
<circle cx="302.4" cy="398.8" r="1.1" fill="#e7def1" opacity="0.95"/>
<circle cx="330.4" cy="467.5" r="1.1" fill="#d4c7e4" opacity="0.95"/>
<circle cx="327.0" cy="473.0" r="1.5" fill="#ddd1eb" opacity="0.95"/>
<circle cx="326.9" cy="460.8" r="0.8" fill="#e7def1" opacity="0.95"/>
<circle cx="311.8" cy="437.7" r="0.8" fill="#ddd1eb" opacity="0.95"/>
<circle cx="255.3" cy="483.3" r="1.1" fill="#e7def1" opacity="0.95"/>
<circle cx="258.9" cy="452.9" r="0.8" fill="#d4c7e4" opacity="0.95"/>
<circle cx="329.5" cy="448.3" r="1.0" fill="#ddd1eb" opacity="0.95"/>
<circle cx="279.8" cy="413.1" r="1.3" fill="#d4c7e4" opacity="0.95"/>
<circle cx="285.4" cy="470.9" r="0.8" fill="#e7def1" opacity="0.95"/>
<circle cx="281.5" cy="449.4" r="0.8" fill="#ddd1eb" opacity="0.95"/>
<circle cx="342.5" cy="459.7" r="1.3" fill="#e7def1" opacity="0.95"/>
<circle cx="326.4" cy="414.7" r="1.0" fill="#e7def1" opacity="0.95"/>
<circle cx="322.2" cy="461.4" r="1.0" fill="#e7def1" opacity="0.95"/>
<circle cx="308.4" cy="404.5" r="1.0" fill="#ddd1eb" opacity="0.95"/>
<circle cx="254.7" cy="414.8" r="1.1" fill="#ddd1eb" opacity="0.95"/>
<circle cx="340.3" cy="468.9" r="1.0" fill="#d4c7e4" opacity="0.95"/>
<circle cx="293.8" cy="385.3" r="1.1" fill="#d4c7e4" opacity="0.95"/>
<circle cx="303.4" cy="451.8" r="0.8" fill="#e7def1" opacity="0.95"/>
<circle cx="291.1" cy="432.8" r="1.1" fill="#d4c7e4" opacity="0.95"/>
<circle cx="331.7" cy="443.4" r="1.1" fill="#e7def1" opacity="0.95"/>
<circle cx="331.5" cy="477.7" r="0.8" fill="#d4c7e4" opacity="0.95"/>
<circle cx="307.0" cy="482.4" r="1.1" fill="#e7def1" opacity="0.95"/>
<circle cx="258.1" cy="415.8" r="1.1" fill="#e7def1" opacity="0.95"/>
<circle cx="265.9" cy="439.6" r="1.0" fill="#d4c7e4" opacity="0.95"/>
<circle cx="319.2" cy="449.0" r="1.0" fill="#ddd1eb" opacity="0.95"/>
<circle cx="311.0" cy="462.5" r="1.1" fill="#e7def1" opacity="0.95"/>
<circle cx="339.2" cy="408.9" r="0.8" fill="#e7def1" opacity="0.95"/>
<circle cx="304.6" cy="479.8" r="1.1" fill="#ddd1eb" opacity="0.95"/>
<circle cx="259.4" cy="441.5" r="0.8" fill="#ddd1eb" opacity="0.95"/>
<circle cx="295.7" cy="405.8" r="1.0" fill="#d4c7e4" opacity="0.95"/>
<circle cx="282.1" cy="444.1" r="0.8" fill="#ddd1eb" opacity="0.95"/>
<circle cx="281.7" cy="480.9" r="1.0" fill="#d4c7e4" opacity="0.95"/>
<circle cx="304.2" cy="441.5" r="1.0" fill="#d4c7e4" opacity="0.95"/>
<circle cx="304.4" cy="402.2" r="0.8" fill="#d4c7e4" opacity="0.95"/>
<circle cx="342.2" cy="483.5" r="1.5" fill="#ddd1eb" opacity="0.95"/>
<circle cx="278.3" cy="388.7" r="0.8" fill="#ddd1eb" opacity="0.95"/>
<circle cx="261.9" cy="442.2" r="1.0" fill="#d4c7e4" opacity="0.95"/>
<circle cx="333.6" cy="447.0" r="0.8" fill="#e7def1" opacity="0.95"/>
<circle cx="334.7" cy="400.9" r="0.8" fill="#d4c7e4" opacity="0.95"/>
<circle cx="307.5" cy="431.8" r="0.8" fill="#d4c7e4" opacity="0.95"/>
<circle cx="310.8" cy="475.8" r="1.1" fill="#ddd1eb" opacity="0.95"/>
<circle cx="290.3" cy="410.3" r="1.3" fill="#d4c7e4" opacity="0.95"/>
<circle cx="343.2" cy="412.5" r="1.1" fill="#e7def1" opacity="0.95"/>
<circle cx="291.0" cy="464.7" r="0.8" fill="#d4c7e4" opacity="0.95"/>
<circle cx="277.8" cy="470.9" r="0.8" fill="#d4c7e4" opacity="0.95"/>
<circle cx="293.4" cy="404.7" r="0.8" fill="#e7def1" opacity="0.95"/>
<circle cx="273.9" cy="483.0" r="0.8" fill="#ddd1eb" opacity="0.95"/>
<circle cx="273.3" cy="465.7" r="1.1" fill="#d4c7e4" opacity="0.95"/>
<circle cx="267.6" cy="452.0" r="1.1" fill="#e7def1" opacity="0.95"/>
<circle cx="281.1" cy="386.3" r="1.3" fill="#ddd1eb" opacity="0.95"/>
<circle cx="341.7" cy="416.0" r="1.0" fill="#e7def1" opacity="0.95"/>
<circle cx="316.2" cy="461.2" r="0.8" fill="#d4c7e4" opacity="0.95"/>
<circle cx="292.5" cy="472.1" r="0.8" fill="#ddd1eb" opacity="0.95"/>
<circle cx="333.6" cy="479.7" r="1.3" fill="#e7def1" opacity="0.95"/>
<circle cx="287.3" cy="417.6" r="0.8" fill="#d4c7e4" opacity="0.95"/>
<circle cx="285.0" cy="433.6" r="0.8" fill="#e7def1" opacity="0.95"/>
<circle cx="245.3" cy="455.8" r="1.1" fill="#d4c7e4" opacity="0.95"/>
<circle cx="324.5" cy="439.3" r="1.0" fill="#ddd1eb" opacity="0.95"/>
<circle cx="308.1" cy="395.5" r="1.7" fill="#ddd1eb" opacity="0.95"/>
<circle cx="280.9" cy="431.7" r="0.8" fill="#e7def1" opacity="0.95"/>
<circle cx="306.0" cy="403.8" r="0.8" fill="#d4c7e4" opacity="0.95"/>
<circle cx="250.7" cy="387.6" r="1.1" fill="#d4c7e4" opacity="0.95"/>
<circle cx="294.9" cy="438.2" r="0.8" fill="#d4c7e4" opacity="0.95"/>
<circle cx="254.7" cy="393.9" r="0.8" fill="#d4c7e4" opacity="0.95"/>
<circle cx="317.1" cy="425.0" r="0.8" fill="#d4c7e4" opacity="0.95"/>
<circle cx="253.9" cy="403.4" r="0.8" fill="#d4c7e4" opacity="0.95"/>
<circle cx="285.2" cy="475.9" r="1.3" fill="#e7def1" opacity="0.95"/>
<circle cx="264.3" cy="459.1" r="0.8" fill="#e7def1" opacity="0.95"/>
<circle cx="332.3" cy="472.2" r="1.3" fill="#e7def1" opacity="0.95"/>
<circle cx="268.4" cy="394.9" r="0.8" fill="#d4c7e4" opacity="0.95"/>
<circle cx="310.4" cy="458.0" r="1.0" fill="#ddd1eb" opacity="0.95"/>
<circle cx="254.9" cy="471.0" r="0.8" fill="#d4c7e4" opacity="0.95"/>
<circle cx="337.7" cy="431.4" r="1.3" fill="#d4c7e4" opacity="0.95"/>
<circle cx="261.5" cy="460.4" r="0.8" fill="#ddd1eb" opacity="0.95"/>
<circle cx="272.4" cy="434.9" r="0.8" fill="#ddd1eb" opacity="0.95"/>
<circle cx="288.6" cy="446.8" r="1.1" fill="#ddd1eb" opacity="0.95"/>
<circle cx="315.1" cy="427.8" r="1.0" fill="#d4c7e4" opacity="0.95"/>
<circle cx="331.1" cy="453.8" r="0.8" fill="#d4c7e4" opacity="0.95"/>
<circle cx="336.3" cy="403.0" r="0.8" fill="#ddd1eb" opacity="0.95"/>
<circle cx="265.7" cy="457.6" r="0.8" fill="#d4c7e4" opacity="0.95"/>
<circle cx="341.2" cy="426.4" r="1.0" fill="#ddd1eb" opacity="0.95"/>
<circle cx="252.7" cy="439.9" r="1.5" fill="#e7def1" opacity="0.95"/>
<circle cx="343.6" cy="404.9" r="0.8" fill="#ddd1eb" opacity="0.95"/>
<circle cx="268.0" cy="402.0" r="0.8" fill="#ddd1eb" opacity="0.95"/>
<circle cx="329.0" cy="483.7" r="1.3" fill="#d4c7e4" opacity="0.95"/>
<circle cx="335.3" cy="423.0" r="1.7" fill="#ddd1eb" opacity="0.95"/>
<circle cx="281.5" cy="410.6" r="0.8" fill="#e7def1" opacity="0.95"/>
<circle cx="337.9" cy="479.1" r="1.1" fill="#d4c7e4" opacity="0.95"/>
<circle cx="257.9" cy="473.1" r="1.0" fill="#d4c7e4" opacity="0.95"/>
<circle cx="269.5" cy="478.6" r="1.1" fill="#d4c7e4" opacity="0.95"/>
<circle cx="294.2" cy="454.4" r="0.8" fill="#d4c7e4" opacity="0.95"/>
<circle cx="284.7" cy="404.3" r="0.8" fill="#d4c7e4" opacity="0.95"/>
<circle cx="283.1" cy="391.6" r="1.0" fill="#d4c7e4" opacity="0.95"/>
<circle cx="299.1" cy="447.5" r="0.8" fill="#d4c7e4" opacity="0.95"/>
<circle cx="337.0" cy="466.0" r="1.1" fill="#d4c7e4" opacity="0.95"/>
<circle cx="318.5" cy="478.9" r="0.8" fill="#d4c7e4" opacity="0.95"/>
<circle cx="246.1" cy="394.6" r="1.1" fill="#d4c7e4" opacity="0.95"/>
<circle cx="251.8" cy="457.5" r="1.9" fill="#c03a7a"/>
<circle cx="255" cy="461" r="1.0" fill="#c85a90" opacity="0.8"/>
</g></g>
<g clip-path="url(#c_orohet)"><g filter="url(#soft)">
<rect x="343.8" y="382" width="105.4" height="105" fill="#dcb6b3" filter="url(#f_orohet)"/>
<circle cx="417.0" cy="435.6" r="1.3" fill="#c2aeb8" opacity="0.5"/>
<circle cx="407.9" cy="453.2" r="1.6" fill="#c2aeb8" opacity="0.5"/>
<circle cx="370.8" cy="426.3" r="2.0" fill="#c2aeb8" opacity="0.5"/>
<circle cx="383.7" cy="400.6" r="1.3" fill="#c2aeb8" opacity="0.5"/>
<circle cx="441.7" cy="393.5" r="1.0" fill="#c2aeb8" opacity="0.5"/>
<circle cx="444.3" cy="446.4" r="2.0" fill="#c2aeb8" opacity="0.5"/>
<circle cx="379.9" cy="469.8" r="2.0" fill="#c2aeb8" opacity="0.5"/>
<circle cx="353.6" cy="439.8" r="1.6" fill="#c2aeb8" opacity="0.5"/>
<circle cx="361.1" cy="453.0" r="1.6" fill="#c2aeb8" opacity="0.5"/>
<circle cx="418.0" cy="466.8" r="2.0" fill="#c2aeb8" opacity="0.5"/>
<circle cx="404.7" cy="477.7" r="1.0" fill="#c2aeb8" opacity="0.5"/>
<circle cx="422.0" cy="467.8" r="1.0" fill="#c2aeb8" opacity="0.5"/>
<circle cx="396.1" cy="436.4" r="1.3" fill="#c2aeb8" opacity="0.5"/>
<circle cx="356.0" cy="436.7" r="1.6" fill="#c2aeb8" opacity="0.5"/>
<circle cx="421.8" cy="457.3" r="1.6" fill="#c2aeb8" opacity="0.5"/>
<circle cx="379.3" cy="459.4" r="2.0" fill="#c2aeb8" opacity="0.5"/>
<circle cx="431.5" cy="395.1" r="1.3" fill="#c2aeb8" opacity="0.5"/>
<circle cx="427.7" cy="411.2" r="2.0" fill="#c2aeb8" opacity="0.5"/>
<circle cx="401.9" cy="391.9" r="2.0" fill="#c2aeb8" opacity="0.5"/>
<circle cx="372.0" cy="464.7" r="1.3" fill="#c2aeb8" opacity="0.5"/>
<circle cx="440.9" cy="399.5" r="2.0" fill="#c2aeb8" opacity="0.5"/>
<circle cx="426.1" cy="451.3" r="1.0" fill="#c2aeb8" opacity="0.5"/>
<circle cx="418.7" cy="442.7" r="1.3" fill="#c2aeb8" opacity="0.5"/>
<circle cx="358.3" cy="428.3" r="1.0" fill="#c2aeb8" opacity="0.5"/>
<circle cx="421.9" cy="405.6" r="1.3" fill="#c2aeb8" opacity="0.5"/>
<circle cx="377.9" cy="477.4" r="1.3" fill="#c2aeb8" opacity="0.5"/>
<circle cx="383.6" cy="452.1" r="1.0" fill="#c2aeb8" opacity="0.5"/>
<circle cx="390.5" cy="414.3" r="1.3" fill="#c2aeb8" opacity="0.5"/>
<circle cx="430.1" cy="394.8" r="1.3" fill="#c2aeb8" opacity="0.5"/>
<circle cx="402.7" cy="393.1" r="1.3" fill="#c2aeb8" opacity="0.5"/>
<circle cx="406.3" cy="398.2" r="2.0" fill="#c2aeb8" opacity="0.5"/>
<circle cx="359.2" cy="391.5" r="1.3" fill="#c2aeb8" opacity="0.5"/>
<circle cx="421.0" cy="413.6" r="2.0" fill="#c2aeb8" opacity="0.5"/>
<circle cx="438.1" cy="435.2" r="1.6" fill="#c2aeb8" opacity="0.5"/>
<circle cx="356.0" cy="432.8" r="1.6" fill="#c2aeb8" opacity="0.5"/>
<circle cx="406.7" cy="421.4" r="1.3" fill="#c2aeb8" opacity="0.5"/>
<circle cx="360.7" cy="459.2" r="1.6" fill="#c2aeb8" opacity="0.5"/>
<circle cx="394.6" cy="456.9" r="2.0" fill="#c2aeb8" opacity="0.5"/>
<circle cx="426.0" cy="410.8" r="2.0" fill="#c2aeb8" opacity="0.5"/>
<circle cx="390.5" cy="420.0" r="1.3" fill="#c2aeb8" opacity="0.5"/>
<circle cx="377.2" cy="449.1" r="1.0" fill="#c2aeb8" opacity="0.5"/>
<circle cx="399.5" cy="399.6" r="1.3" fill="#c2aeb8" opacity="0.5"/>
<circle cx="347.8" cy="391.3" r="1.6" fill="#c2aeb8" opacity="0.5"/>
<circle cx="407.6" cy="465.4" r="1.0" fill="#c2aeb8" opacity="0.5"/>
<circle cx="391.6" cy="452.0" r="1.0" fill="#c2aeb8" opacity="0.5"/>
<circle cx="418.6" cy="399.1" r="1.0" fill="#c2aeb8" opacity="0.5"/>
<circle cx="361.4" cy="435.2" r="1.3" fill="#c2aeb8" opacity="0.5"/>
<circle cx="415.7" cy="442.8" r="1.0" fill="#c2aeb8" opacity="0.5"/>
<circle cx="440.2" cy="417.8" r="2.0" fill="#c2aeb8" opacity="0.5"/>
<circle cx="438.7" cy="401.8" r="1.0" fill="#c2aeb8" opacity="0.5"/>
<circle cx="422.4" cy="412.4" r="1.3" fill="#c2aeb8" opacity="0.5"/>
<circle cx="382.9" cy="441.1" r="1.3" fill="#c2aeb8" opacity="0.5"/>
<circle cx="388.8" cy="461.9" r="1.0" fill="#c2aeb8" opacity="0.5"/>
<circle cx="421.8" cy="387.5" r="1.3" fill="#c2aeb8" opacity="0.5"/>
<circle cx="369.9" cy="456.4" r="1.3" fill="#c2aeb8" opacity="0.5"/>
<circle cx="435.3" cy="473.3" r="1.3" fill="#c2aeb8" opacity="0.5"/>
<circle cx="388.8" cy="444.9" r="1.6" fill="#c2aeb8" opacity="0.5"/>
<circle cx="429.1" cy="475.6" r="1.0" fill="#c2aeb8" opacity="0.5"/>
<circle cx="419.8" cy="429.9" r="2.0" fill="#c2aeb8" opacity="0.5"/>
<circle cx="381.1" cy="436.6" r="2.0" fill="#c2aeb8" opacity="0.5"/>
<circle cx="441.8" cy="443.5" r="1.3" fill="#c2aeb8" opacity="0.5"/>
<circle cx="380.3" cy="385.9" r="1.6" fill="#c2aeb8" opacity="0.5"/>
<circle cx="365.6" cy="389.1" r="1.6" fill="#c2aeb8" opacity="0.5"/>
<circle cx="424.9" cy="450.8" r="1.6" fill="#c2aeb8" opacity="0.5"/>
<circle cx="416.5" cy="460.6" r="1.3" fill="#c2aeb8" opacity="0.5"/>
<circle cx="399.8" cy="481.8" r="1.0" fill="#c2aeb8" opacity="0.5"/>
<circle cx="403.8" cy="412.3" r="1.3" fill="#c2aeb8" opacity="0.5"/>
<circle cx="364.5" cy="433.9" r="1.6" fill="#c2aeb8" opacity="0.5"/>
<circle cx="405.8" cy="405.4" r="1.3" fill="#c2aeb8" opacity="0.5"/>
<circle cx="402.0" cy="411.6" r="1.3" fill="#c2aeb8" opacity="0.5"/>
<circle cx="382.1" cy="437.3" r="1.3" fill="#c2aeb8" opacity="0.5"/>
<circle cx="432.2" cy="388.3" r="2.0" fill="#c2aeb8" opacity="0.5"/>
<circle cx="357.9" cy="395.9" r="1.3" fill="#c2aeb8" opacity="0.5"/>
<circle cx="378.9" cy="482.9" r="1.0" fill="#c2aeb8" opacity="0.5"/>
<circle cx="392.6" cy="403.7" r="2.0" fill="#c2aeb8" opacity="0.5"/>
<circle cx="410.1" cy="473.5" r="2.0" fill="#c2aeb8" opacity="0.5"/>
<circle cx="356.4" cy="407.8" r="1.0" fill="#c2aeb8" opacity="0.5"/>
<circle cx="373.9" cy="423.3" r="2.0" fill="#c2aeb8" opacity="0.5"/>
<circle cx="349.6" cy="438.3" r="2.0" fill="#c2aeb8" opacity="0.5"/>
<circle cx="382.0" cy="441.1" r="1.0" fill="#c2aeb8" opacity="0.5"/>
<circle cx="419.7" cy="405.0" r="1.0" fill="#c2aeb8" opacity="0.5"/>
<circle cx="363.7" cy="420.8" r="1.3" fill="#c2aeb8" opacity="0.5"/>
<circle cx="402.4" cy="472.5" r="1.3" fill="#c2aeb8" opacity="0.5"/>
<circle cx="431.1" cy="462.7" r="2.0" fill="#c2aeb8" opacity="0.5"/>
<circle cx="435.6" cy="459.5" r="1.0" fill="#c2aeb8" opacity="0.5"/>
<circle cx="438.5" cy="397.4" r="1.0" fill="#c2aeb8" opacity="0.5"/>
<circle cx="375.0" cy="387.3" r="2.0" fill="#c2aeb8" opacity="0.5"/>
<circle cx="369.5" cy="409.9" r="1.3" fill="#c2aeb8" opacity="0.5"/>
<circle cx="442.1" cy="389.9" r="1.0" fill="#c2aeb8" opacity="0.5"/>
<circle cx="351.0" cy="471.6" r="2.0" fill="#c2aeb8" opacity="0.5"/>
<circle cx="398.8" cy="471.5" r="1.6" fill="#c2aeb8" opacity="0.5"/>
<circle cx="377.1" cy="460.3" r="2.0" fill="#c2aeb8" opacity="0.5"/>
<circle cx="394.8" cy="422.1" r="2.0" fill="#c2aeb8" opacity="0.5"/>
<circle cx="415.1" cy="417.8" r="2.0" fill="#c2aeb8" opacity="0.5"/>
<circle cx="381.0" cy="403.1" r="1.0" fill="#c2aeb8" opacity="0.5"/>
<circle cx="363.5" cy="433.6" r="1.6" fill="#c2aeb8" opacity="0.5"/>
<circle cx="393.3" cy="391.5" r="1.0" fill="#c2aeb8" opacity="0.5"/>
<circle cx="415.3" cy="460.9" r="1.6" fill="#c2aeb8" opacity="0.5"/>
<circle cx="418.1" cy="446.8" r="1.6" fill="#c2aeb8" opacity="0.5"/>
<circle cx="424.7" cy="397.1" r="1.6" fill="#c2aeb8" opacity="0.5"/>
<circle cx="392.7" cy="388.0" r="1.0" fill="#c2aeb8" opacity="0.5"/>
<circle cx="427.9" cy="468.0" r="1.6" fill="#c2aeb8" opacity="0.5"/>
<circle cx="369.6" cy="407.6" r="1.6" fill="#c2aeb8" opacity="0.5"/>
<circle cx="384.1" cy="437.9" r="1.0" fill="#c2aeb8" opacity="0.5"/>
<circle cx="419.7" cy="412.8" r="1.6" fill="#c2aeb8" opacity="0.5"/>
<circle cx="422.8" cy="434.2" r="1.0" fill="#c2aeb8" opacity="0.5"/>
<circle cx="423.9" cy="475.1" r="1.6" fill="#c2aeb8" opacity="0.5"/>
<circle cx="351.1" cy="451.4" r="2.0" fill="#c2aeb8" opacity="0.5"/>
<circle cx="384.2" cy="444.8" r="1.3" fill="#c2aeb8" opacity="0.5"/>
<circle cx="356.2" cy="455.0" r="1.0" fill="#c2aeb8" opacity="0.5"/>
<circle cx="397.1" cy="474.9" r="1.6" fill="#c2aeb8" opacity="0.5"/>
<circle cx="403.1" cy="391.1" r="1.6" fill="#c2aeb8" opacity="0.5"/>
<circle cx="353.1" cy="436.1" r="1.0" fill="#c2aeb8" opacity="0.5"/>
<circle cx="368.5" cy="431.6" r="1.0" fill="#c2aeb8" opacity="0.5"/>
<circle cx="403.6" cy="446.3" r="1.3" fill="#c2aeb8" opacity="0.5"/>
<circle cx="428.8" cy="474.9" r="1.3" fill="#c2aeb8" opacity="0.5"/>
<circle cx="400.7" cy="398.4" r="1.0" fill="#c2aeb8" opacity="0.5"/>
<circle cx="410.3" cy="462.9" r="2.0" fill="#c2aeb8" opacity="0.5"/>
<circle cx="364.9" cy="450.3" r="2.0" fill="#c2aeb8" opacity="0.5"/>
<circle cx="359.1" cy="448.5" r="1.6" fill="#c2aeb8" opacity="0.5"/>
<circle cx="368.5" cy="466.6" r="1.3" fill="#c2aeb8" opacity="0.5"/>
<circle cx="435.7" cy="415.0" r="1.0" fill="#c2aeb8" opacity="0.5"/>
<circle cx="406.8" cy="427.9" r="1.0" fill="#c2aeb8" opacity="0.5"/>
<circle cx="413.3" cy="442.3" r="1.6" fill="#c2aeb8" opacity="0.5"/>
<circle cx="376.6" cy="423.5" r="1.3" fill="#c2aeb8" opacity="0.5"/>
<circle cx="382.0" cy="465.3" r="1.0" fill="#c2aeb8" opacity="0.5"/>
<circle cx="413.3" cy="429.9" r="1.6" fill="#c2aeb8" opacity="0.5"/>
<circle cx="353.7" cy="448.4" r="1.0" fill="#c2aeb8" opacity="0.5"/>
<circle cx="436.1" cy="479.3" r="1.6" fill="#c2aeb8" opacity="0.5"/>
<circle cx="421.4" cy="406.4" r="1.6" fill="#c2aeb8" opacity="0.5"/>
<circle cx="370.3" cy="386.2" r="1.6" fill="#c2aeb8" opacity="0.5"/>
<circle cx="347.8" cy="465.2" r="1.6" fill="#c2aeb8" opacity="0.5"/>
<circle cx="394.3" cy="472.2" r="1.0" fill="#c2aeb8" opacity="0.5"/>
<circle cx="361.2" cy="405.3" r="1.6" fill="#c2aeb8" opacity="0.5"/>
<circle cx="405.6" cy="412.0" r="1.6" fill="#c2aeb8" opacity="0.5"/>
<circle cx="407.2" cy="481.8" r="1.0" fill="#c2aeb8" opacity="0.5"/>
<circle cx="444.1" cy="435.4" r="1.6" fill="#c2aeb8" opacity="0.5"/>
<circle cx="378.9" cy="446.1" r="1.6" fill="#c2aeb8" opacity="0.5"/>
<circle cx="359.2" cy="435.0" r="1.0" fill="#c2aeb8" opacity="0.5"/>
<circle cx="415.7" cy="464.6" r="1.6" fill="#c2aeb8" opacity="0.5"/>
<circle cx="391.8" cy="441.5" r="1.3" fill="#c2aeb8" opacity="0.5"/>
<circle cx="372.6" cy="391.9" r="1.0" fill="#c2aeb8" opacity="0.5"/>
<circle cx="414.1" cy="465.2" r="2.0" fill="#c2aeb8" opacity="0.5"/>
<circle cx="370.9" cy="448.7" r="1.3" fill="#c2aeb8" opacity="0.5"/>
<circle cx="368.0" cy="392.4" r="1.6" fill="#c2aeb8" opacity="0.5"/>
<circle cx="444.5" cy="395.8" r="1.6" fill="#c2aeb8" opacity="0.5"/>
<circle cx="354.3" cy="408.3" r="1.3" fill="#c2aeb8" opacity="0.5"/>
<circle cx="384.4" cy="479.2" r="1.6" fill="#c2aeb8" opacity="0.5"/>
<circle cx="375.6" cy="430.0" r="1.0" fill="#c2aeb8" opacity="0.5"/>
<circle cx="428.3" cy="457.4" r="2.0" fill="#c2aeb8" opacity="0.5"/>
<circle cx="350.2" cy="426.2" r="1.0" fill="#c2aeb8" opacity="0.5"/>
<circle cx="444.0" cy="410.8" r="2.0" fill="#c2aeb8" opacity="0.5"/>
<circle cx="394.3" cy="428.3" r="1.3" fill="#c2aeb8" opacity="0.5"/>
<circle cx="394.0" cy="432.3" r="1.6" fill="#c2aeb8" opacity="0.5"/>
<circle cx="390.6" cy="413.4" r="2.0" fill="#c2aeb8" opacity="0.5"/>
<circle cx="416.3" cy="482.7" r="1.3" fill="#c2aeb8" opacity="0.5"/>
<circle cx="427.9" cy="468.0" r="1.6" fill="#c2aeb8" opacity="0.5"/>
<circle cx="390.1" cy="482.5" r="1.3" fill="#c2aeb8" opacity="0.5"/>
<circle cx="353.5" cy="451.7" r="2.0" fill="#c2aeb8" opacity="0.5"/>
<circle cx="349.1" cy="461.9" r="1.6" fill="#c2aeb8" opacity="0.5"/>
<circle cx="403.2" cy="455.9" r="2.0" fill="#c2aeb8" opacity="0.5"/>
<circle cx="351.5" cy="393.1" r="1.0" fill="#c2aeb8" opacity="0.5"/>
<circle cx="437.6" cy="435.0" r="1.0" fill="#c2aeb8" opacity="0.5"/>
<circle cx="349.2" cy="457.6" r="1.3" fill="#c2aeb8" opacity="0.5"/>
<circle cx="442.9" cy="420.5" r="1.6" fill="#c2aeb8" opacity="0.5"/>
<circle cx="384.0" cy="424.1" r="1.6" fill="#c2aeb8" opacity="0.5"/>
<circle cx="422.6" cy="399.5" r="2.0" fill="#c2aeb8" opacity="0.5"/>
<circle cx="352.4" cy="392.7" r="1.0" fill="#c2aeb8" opacity="0.5"/>
<circle cx="364.2" cy="423.7" r="1.3" fill="#c2aeb8" opacity="0.5"/>
<circle cx="365.7" cy="476.6" r="1.6" fill="#c2aeb8" opacity="0.5"/>
<circle cx="433.6" cy="461.3" r="2.0" fill="#c2aeb8" opacity="0.5"/>
<circle cx="397.0" cy="447.9" r="1.6" fill="#c2aeb8" opacity="0.5"/>
<circle cx="360.6" cy="404.7" r="1.3" fill="#c2aeb8" opacity="0.5"/>
<circle cx="393.1" cy="447.1" r="1.0" fill="#c2aeb8" opacity="0.5"/>
<circle cx="413.0" cy="446.7" r="1.0" fill="#c2aeb8" opacity="0.5"/>
<circle cx="347.9" cy="419.0" r="1.0" fill="#c2aeb8" opacity="0.5"/>
<circle cx="376.0" cy="479.3" r="2.0" fill="#c2aeb8" opacity="0.5"/>
<circle cx="391.9" cy="428.4" r="1.3" fill="#c2aeb8" opacity="0.5"/>
<circle cx="432.4" cy="449.9" r="1.0" fill="#c2aeb8" opacity="0.5"/>
<circle cx="348.8" cy="387.3" r="1.3" fill="#c2aeb8" opacity="0.5"/>
<circle cx="443.5" cy="429.6" r="2.0" fill="#c2aeb8" opacity="0.5"/>
<circle cx="443.8" cy="455.7" r="1.0" fill="#c2aeb8" opacity="0.5"/>
<circle cx="353.7" cy="403.7" r="1.6" fill="#c2aeb8" opacity="0.5"/>
<circle cx="355.6" cy="424.7" r="1.3" fill="#c2aeb8" opacity="0.5"/>
<circle cx="444.1" cy="419.3" r="1.3" fill="#c2aeb8" opacity="0.5"/>
<circle cx="402.7" cy="432.2" r="1.0" fill="#c2aeb8" opacity="0.5"/>
<circle cx="369.0" cy="395.5" r="1.0" fill="#c2aeb8" opacity="0.5"/>
<circle cx="369.4" cy="473.8" r="2.0" fill="#c2aeb8" opacity="0.5"/>
<circle cx="355.8" cy="476.9" r="1.6" fill="#c2aeb8" opacity="0.5"/>
<circle cx="394.6" cy="386.7" r="1.0" fill="#c2aeb8" opacity="0.5"/>
<circle cx="370.8" cy="419.8" r="1.3" fill="#c2aeb8" opacity="0.5"/>
<circle cx="420.1" cy="464.9" r="1.6" fill="#c2aeb8" opacity="0.5"/>
<circle cx="430.5" cy="405.3" r="1.6" fill="#c2aeb8" opacity="0.5"/>
<circle cx="436.8" cy="471.4" r="1.3" fill="#c2aeb8" opacity="0.5"/>
<circle cx="410.7" cy="460.6" r="1.3" fill="#c2aeb8" opacity="0.5"/>
<circle cx="443.0" cy="395.1" r="1.0" fill="#c2aeb8" opacity="0.5"/>
<circle cx="403.1" cy="401.5" r="1.6" fill="#c2aeb8" opacity="0.5"/>
<circle cx="391.2" cy="419.5" r="2.0" fill="#c2aeb8" opacity="0.5"/>
<circle cx="387.7" cy="450.9" r="1.3" fill="#c2aeb8" opacity="0.5"/>
<circle cx="427.5" cy="432.4" r="1.6" fill="#c2aeb8" opacity="0.5"/>
<circle cx="378.5" cy="437.5" r="1.3" fill="#c2aeb8" opacity="0.5"/>
<circle cx="413.4" cy="388.9" r="2.0" fill="#c2aeb8" opacity="0.5"/>
<circle cx="402.7" cy="465.0" r="1.6" fill="#c2aeb8" opacity="0.5"/>
<circle cx="414.1" cy="397.8" r="2.0" fill="#c2aeb8" opacity="0.5"/>
<circle cx="407.7" cy="461.8" r="1.6" fill="#c2aeb8" opacity="0.5"/>
<circle cx="418.3" cy="408.0" r="1.0" fill="#c2aeb8" opacity="0.5"/>
<circle cx="364.7" cy="439.0" r="1.3" fill="#c2aeb8" opacity="0.5"/>
<circle cx="355.0" cy="417.1" r="2.0" fill="#c2aeb8" opacity="0.5"/>
<circle cx="442.4" cy="436.5" r="1.3" fill="#c2aeb8" opacity="0.5"/>
<circle cx="364.9" cy="477.9" r="1.6" fill="#c2aeb8" opacity="0.5"/>
<circle cx="407.7" cy="391.4" r="1.3" fill="#c2aeb8" opacity="0.5"/>
<circle cx="393.8" cy="413.3" r="1.6" fill="#c2aeb8" opacity="0.5"/>
<circle cx="445.5" cy="462.0" r="2.0" fill="#c2aeb8" opacity="0.5"/>
<circle cx="374.3" cy="414.3" r="1.0" fill="#c2aeb8" opacity="0.5"/>
<circle cx="354.7" cy="479.6" r="1.3" fill="#c2aeb8" opacity="0.5"/>
<circle cx="438.7" cy="402.6" r="1.6" fill="#c2aeb8" opacity="0.5"/>
<circle cx="374.3" cy="401.4" r="1.0" fill="#c2aeb8" opacity="0.5"/>
<circle cx="410.2" cy="387.9" r="1.6" fill="#c2aeb8" opacity="0.5"/>
<circle cx="410.3" cy="455.8" r="1.3" fill="#c2aeb8" opacity="0.5"/>
<circle cx="367.2" cy="465.8" r="1.3" fill="#c2aeb8" opacity="0.5"/>
<circle cx="434.9" cy="438.5" r="2.0" fill="#c2aeb8" opacity="0.5"/>
<circle cx="356.4" cy="426.5" r="1.3" fill="#c2aeb8" opacity="0.5"/>
<circle cx="445.9" cy="424.4" r="1.6" fill="#c2aeb8" opacity="0.5"/>
<circle cx="353.6" cy="476.6" r="1.0" fill="#c2aeb8" opacity="0.5"/>
<circle cx="397.5" cy="425.1" r="1.6" fill="#c2aeb8" opacity="0.5"/>
<circle cx="389.7" cy="476.4" r="2.0" fill="#c2aeb8" opacity="0.5"/>
<circle cx="383.6" cy="390.5" r="1.0" fill="#c2aeb8" opacity="0.5"/>
<circle cx="387.2" cy="423.9" r="1.3" fill="#c2aeb8" opacity="0.5"/>
<circle cx="364.6" cy="470.6" r="1.6" fill="#c2aeb8" opacity="0.5"/>
<circle cx="355.7" cy="395.9" r="1.0" fill="#c2aeb8" opacity="0.5"/>
<circle cx="415.4" cy="437.3" r="2.0" fill="#c2aeb8" opacity="0.5"/>
<circle cx="434.3" cy="389.6" r="1.0" fill="#c2aeb8" opacity="0.5"/>
<circle cx="371.3" cy="474.8" r="1.3" fill="#c2aeb8" opacity="0.5"/>
<circle cx="377.5" cy="391.1" r="2.0" fill="#c2aeb8" opacity="0.5"/>
<circle cx="382.3" cy="413.7" r="1.3" fill="#c2aeb8" opacity="0.5"/>
<circle cx="347.2" cy="417.6" r="1.0" fill="#c2aeb8" opacity="0.5"/>
<circle cx="387.2" cy="435.8" r="1.3" fill="#c2aeb8" opacity="0.5"/>
<circle cx="397.3" cy="412.6" r="1.6" fill="#c2aeb8" opacity="0.5"/>
<circle cx="427.9" cy="443.6" r="1.6" fill="#c2aeb8" opacity="0.5"/>
<circle cx="418.6" cy="470.5" r="2.0" fill="#c2aeb8" opacity="0.5"/>
<circle cx="406.6" cy="461.8" r="1.0" fill="#c2aeb8" opacity="0.5"/>
<circle cx="372.2" cy="395.1" r="2.0" fill="#c2aeb8" opacity="0.5"/>
<circle cx="424.6" cy="474.5" r="2.0" fill="#c2aeb8" opacity="0.5"/>
<circle cx="413.5" cy="419.3" r="1.6" fill="#c2aeb8" opacity="0.5"/>
<circle cx="357.6" cy="399.4" r="2.0" fill="#c2aeb8" opacity="0.5"/>
<circle cx="359.9" cy="392.5" r="1.0" fill="#c2aeb8" opacity="0.5"/>
<circle cx="379.7" cy="438.1" r="1.0" fill="#c2aeb8" opacity="0.5"/>
<circle cx="442.4" cy="479.4" r="1.6" fill="#c2aeb8" opacity="0.5"/>
<circle cx="388.7" cy="408.6" r="2.0" fill="#c2aeb8" opacity="0.5"/>
<circle cx="411.8" cy="459.1" r="2.0" fill="#c2aeb8" opacity="0.5"/>
<circle cx="421.6" cy="385.0" r="1.0" fill="#c2aeb8" opacity="0.5"/>
<circle cx="409.0" cy="470.0" r="2.0" fill="#c2aeb8" opacity="0.5"/>
<circle cx="380.8" cy="447.0" r="1.6" fill="#c2aeb8" opacity="0.5"/>
<circle cx="403.6" cy="405.2" r="1.6" fill="#c2aeb8" opacity="0.5"/>
<circle cx="348.4" cy="449.1" r="1.0" fill="#c2aeb8" opacity="0.5"/>
<circle cx="431.9" cy="469.5" r="1.0" fill="#c2aeb8" opacity="0.5"/>
<circle cx="396.7" cy="457.4" r="1.3" fill="#c2aeb8" opacity="0.5"/>
<circle cx="372.5" cy="446.7" r="1.0" fill="#c2aeb8" opacity="0.5"/>
<circle cx="423.3" cy="424.2" r="1.0" fill="#c2aeb8" opacity="0.5"/>
<circle cx="348.0" cy="396.1" r="2.0" fill="#c2aeb8" opacity="0.5"/>
<circle cx="397.9" cy="419.7" r="0.8" fill="#f4e2dd" opacity="0.8"/>
<circle cx="428.6" cy="436.5" r="1.0" fill="#f4e2dd" opacity="0.8"/>
<circle cx="406.8" cy="453.2" r="1.0" fill="#f4e2dd" opacity="0.8"/>
<circle cx="347.1" cy="472.5" r="1.0" fill="#f4e2dd" opacity="0.8"/>
<circle cx="364.8" cy="465.1" r="0.6" fill="#f4e2dd" opacity="0.8"/>
<circle cx="389.9" cy="469.2" r="0.6" fill="#f4e2dd" opacity="0.8"/>
<circle cx="371.7" cy="399.2" r="1.0" fill="#f4e2dd" opacity="0.8"/>
<circle cx="391.6" cy="438.7" r="0.8" fill="#f4e2dd" opacity="0.8"/>
<circle cx="360.7" cy="468.1" r="0.6" fill="#f4e2dd" opacity="0.8"/>
<circle cx="356.9" cy="448.4" r="0.6" fill="#f4e2dd" opacity="0.8"/>
<circle cx="444.5" cy="435.5" r="0.6" fill="#f4e2dd" opacity="0.8"/>
<circle cx="411.8" cy="447.4" r="0.6" fill="#f4e2dd" opacity="0.8"/>
<circle cx="385.4" cy="402.9" r="1.0" fill="#f4e2dd" opacity="0.8"/>
<circle cx="436.9" cy="465.3" r="1.0" fill="#f4e2dd" opacity="0.8"/>
<circle cx="402.1" cy="466.3" r="1.0" fill="#f4e2dd" opacity="0.8"/>
<circle cx="388.3" cy="388.0" r="1.0" fill="#f4e2dd" opacity="0.8"/>
<circle cx="400.7" cy="407.3" r="0.6" fill="#f4e2dd" opacity="0.8"/>
<circle cx="425.1" cy="391.1" r="1.0" fill="#f4e2dd" opacity="0.8"/>
<circle cx="377.1" cy="394.0" r="0.6" fill="#f4e2dd" opacity="0.8"/>
<circle cx="370.4" cy="437.9" r="0.8" fill="#f4e2dd" opacity="0.8"/>
<circle cx="405.9" cy="427.4" r="0.6" fill="#f4e2dd" opacity="0.8"/>
<circle cx="347.8" cy="441.6" r="0.8" fill="#f4e2dd" opacity="0.8"/>
<circle cx="438.0" cy="409.3" r="0.8" fill="#f4e2dd" opacity="0.8"/>
<circle cx="430.5" cy="448.4" r="0.6" fill="#f4e2dd" opacity="0.8"/>
<circle cx="386.8" cy="400.6" r="0.6" fill="#f4e2dd" opacity="0.8"/>
<circle cx="359.8" cy="454.3" r="1.0" fill="#f4e2dd" opacity="0.8"/>
<circle cx="394.2" cy="464.2" r="1.0" fill="#f4e2dd" opacity="0.8"/>
<circle cx="430.7" cy="459.5" r="1.0" fill="#f4e2dd" opacity="0.8"/>
<circle cx="387.4" cy="397.4" r="1.0" fill="#f4e2dd" opacity="0.8"/>
<circle cx="390.8" cy="385.3" r="0.8" fill="#f4e2dd" opacity="0.8"/>
<circle cx="384.6" cy="465.2" r="0.6" fill="#f4e2dd" opacity="0.8"/>
<circle cx="426.9" cy="393.5" r="1.0" fill="#f4e2dd" opacity="0.8"/>
<circle cx="365.4" cy="388.8" r="0.8" fill="#f4e2dd" opacity="0.8"/>
<circle cx="349.3" cy="411.0" r="0.6" fill="#f4e2dd" opacity="0.8"/>
<circle cx="417.3" cy="432.3" r="0.6" fill="#f4e2dd" opacity="0.8"/>
<circle cx="386.9" cy="402.0" r="0.6" fill="#f4e2dd" opacity="0.8"/>
<circle cx="370.7" cy="446.6" r="0.6" fill="#f4e2dd" opacity="0.8"/>
<circle cx="393.2" cy="483.5" r="0.8" fill="#f4e2dd" opacity="0.8"/>
<circle cx="444.9" cy="445.1" r="0.6" fill="#f4e2dd" opacity="0.8"/>
<circle cx="431.2" cy="424.5" r="1.0" fill="#f4e2dd" opacity="0.8"/>
<circle cx="375.8" cy="465.7" r="0.6" fill="#f4e2dd" opacity="0.8"/>
<circle cx="399.4" cy="441.6" r="1.0" fill="#f4e2dd" opacity="0.8"/>
<circle cx="444.1" cy="425.8" r="1.0" fill="#f4e2dd" opacity="0.8"/>
<circle cx="404.3" cy="442.2" r="0.6" fill="#f4e2dd" opacity="0.8"/>
<circle cx="353.0" cy="481.6" r="0.6" fill="#f4e2dd" opacity="0.8"/>
<circle cx="396.7" cy="464.0" r="1.0" fill="#f4e2dd" opacity="0.8"/>
<circle cx="439.0" cy="456.9" r="1.0" fill="#f4e2dd" opacity="0.8"/>
<circle cx="423.3" cy="469.6" r="0.8" fill="#f4e2dd" opacity="0.8"/>
<circle cx="379.7" cy="421.5" r="0.8" fill="#f4e2dd" opacity="0.8"/>
<circle cx="432.4" cy="441.5" r="0.6" fill="#f4e2dd" opacity="0.8"/>
<circle cx="421.4" cy="429.7" r="1.0" fill="#f4e2dd" opacity="0.8"/>
<circle cx="409.0" cy="440.4" r="1.0" fill="#f4e2dd" opacity="0.8"/>
<circle cx="388.5" cy="414.5" r="0.6" fill="#f4e2dd" opacity="0.8"/>
<circle cx="364.2" cy="446.1" r="0.8" fill="#f4e2dd" opacity="0.8"/>
<circle cx="442.7" cy="441.1" r="1.0" fill="#f4e2dd" opacity="0.8"/>
<circle cx="362.8" cy="442.2" r="0.8" fill="#f4e2dd" opacity="0.8"/>
<circle cx="352.4" cy="471.1" r="0.6" fill="#f4e2dd" opacity="0.8"/>
<circle cx="362.4" cy="478.2" r="1.0" fill="#f4e2dd" opacity="0.8"/>
<circle cx="402.1" cy="398.6" r="0.6" fill="#f4e2dd" opacity="0.8"/>
<circle cx="360.8" cy="398.7" r="1.0" fill="#f4e2dd" opacity="0.8"/>
<circle cx="372.8" cy="435.9" r="1.0" fill="#f4e2dd" opacity="0.8"/>
<circle cx="382.9" cy="458.2" r="0.6" fill="#f4e2dd" opacity="0.8"/>
<circle cx="396.8" cy="448.6" r="0.6" fill="#f4e2dd" opacity="0.8"/>
<circle cx="397.8" cy="463.1" r="0.8" fill="#f4e2dd" opacity="0.8"/>
<circle cx="431.6" cy="472.2" r="0.8" fill="#f4e2dd" opacity="0.8"/>
<circle cx="426.2" cy="452.6" r="0.8" fill="#f4e2dd" opacity="0.8"/>
<circle cx="348.9" cy="397.8" r="0.8" fill="#f4e2dd" opacity="0.8"/>
<circle cx="384.2" cy="473.5" r="0.6" fill="#f4e2dd" opacity="0.8"/>
<circle cx="397.7" cy="434.1" r="0.8" fill="#f4e2dd" opacity="0.8"/>
<circle cx="398.4" cy="397.3" r="0.8" fill="#f4e2dd" opacity="0.8"/>
<circle cx="426.0" cy="443.7" r="0.6" fill="#f4e2dd" opacity="0.8"/>
<circle cx="359.6" cy="443.2" r="1.0" fill="#f4e2dd" opacity="0.8"/>
<circle cx="396.9" cy="475.0" r="0.6" fill="#f4e2dd" opacity="0.8"/>
<circle cx="416.1" cy="407.2" r="0.8" fill="#f4e2dd" opacity="0.8"/>
<circle cx="388.1" cy="393.5" r="0.6" fill="#f4e2dd" opacity="0.8"/>
<circle cx="419.3" cy="395.4" r="0.6" fill="#f4e2dd" opacity="0.8"/>
<circle cx="422.2" cy="457.9" r="1.0" fill="#f4e2dd" opacity="0.8"/>
<circle cx="441.7" cy="427.4" r="0.6" fill="#f4e2dd" opacity="0.8"/>
<circle cx="444.2" cy="425.2" r="1.0" fill="#f4e2dd" opacity="0.8"/>
<circle cx="441.4" cy="435.3" r="1.0" fill="#f4e2dd" opacity="0.8"/>
<circle cx="441.1" cy="475.4" r="0.8" fill="#f4e2dd" opacity="0.8"/>
<circle cx="390.5" cy="399.1" r="0.6" fill="#f4e2dd" opacity="0.8"/>
<circle cx="391.7" cy="432.8" r="0.6" fill="#f4e2dd" opacity="0.8"/>
<circle cx="409.8" cy="460.1" r="0.8" fill="#f4e2dd" opacity="0.8"/>
<circle cx="368.2" cy="396.9" r="0.8" fill="#f4e2dd" opacity="0.8"/>
<circle cx="435.1" cy="392.6" r="0.6" fill="#f4e2dd" opacity="0.8"/>
<circle cx="367.9" cy="437.6" r="0.6" fill="#f4e2dd" opacity="0.8"/>
<circle cx="422.5" cy="450.6" r="0.6" fill="#f4e2dd" opacity="0.8"/>
<circle cx="403.7" cy="401.8" r="1.0" fill="#f4e2dd" opacity="0.8"/>
<circle cx="354.3" cy="459.4" r="0.8" fill="#f4e2dd" opacity="0.8"/>
<circle cx="410.2" cy="429.3" r="0.6" fill="#f4e2dd" opacity="0.8"/>
<circle cx="363.5" cy="472.6" r="0.6" fill="#f4e2dd" opacity="0.8"/>
<circle cx="439.4" cy="480.3" r="0.6" fill="#f4e2dd" opacity="0.8"/>
<circle cx="441.1" cy="407.7" r="0.6" fill="#f4e2dd" opacity="0.8"/>
<circle cx="366.3" cy="421.1" r="1.0" fill="#f4e2dd" opacity="0.8"/>
<circle cx="424.9" cy="452.6" r="0.8" fill="#f4e2dd" opacity="0.8"/>
<circle cx="363.4" cy="476.9" r="0.8" fill="#f4e2dd" opacity="0.8"/>
<circle cx="365.2" cy="390.8" r="0.6" fill="#f4e2dd" opacity="0.8"/>
<circle cx="353.3" cy="465.0" r="1.0" fill="#f4e2dd" opacity="0.8"/>
<circle cx="381.1" cy="445.0" r="1.0" fill="#f4e2dd" opacity="0.8"/>
<circle cx="355.4" cy="406.5" r="0.6" fill="#f4e2dd" opacity="0.8"/>
<circle cx="354.3" cy="436.8" r="0.6" fill="#f4e2dd" opacity="0.8"/>
<circle cx="412.0" cy="457.1" r="0.6" fill="#f4e2dd" opacity="0.8"/>
<circle cx="390.5" cy="419.5" r="0.6" fill="#f4e2dd" opacity="0.8"/>
<circle cx="370.4" cy="425.2" r="0.8" fill="#f4e2dd" opacity="0.8"/>
<circle cx="358.8" cy="426.7" r="0.8" fill="#f4e2dd" opacity="0.8"/>
<circle cx="354.1" cy="451.7" r="0.8" fill="#f4e2dd" opacity="0.8"/>
<circle cx="375.7" cy="396.1" r="0.8" fill="#f4e2dd" opacity="0.8"/>
<circle cx="425.6" cy="443.2" r="0.8" fill="#f4e2dd" opacity="0.8"/>
<circle cx="404.5" cy="476.1" r="0.6" fill="#f4e2dd" opacity="0.8"/>
<circle cx="405.1" cy="416.7" r="0.8" fill="#f4e2dd" opacity="0.8"/>
<circle cx="360.0" cy="457.6" r="0.6" fill="#f4e2dd" opacity="0.8"/>
<circle cx="355.1" cy="416.8" r="0.8" fill="#f4e2dd" opacity="0.8"/>
<circle cx="428.0" cy="405.5" r="1.0" fill="#f4e2dd" opacity="0.8"/>
<circle cx="390.4" cy="433.4" r="0.6" fill="#f4e2dd" opacity="0.8"/>
<circle cx="370.3" cy="422.1" r="0.8" fill="#f4e2dd" opacity="0.8"/>
<circle cx="359.6" cy="413.7" r="0.8" fill="#f4e2dd" opacity="0.8"/>
<circle cx="390.7" cy="449.6" r="1.0" fill="#f4e2dd" opacity="0.8"/>
<circle cx="405.5" cy="448.1" r="0.8" fill="#f4e2dd" opacity="0.8"/>
<circle cx="407.4" cy="394.8" r="1.0" fill="#f4e2dd" opacity="0.8"/>
<circle cx="387.0" cy="449.8" r="0.6" fill="#f4e2dd" opacity="0.8"/>
<circle cx="422.7" cy="449.3" r="0.6" fill="#f4e2dd" opacity="0.8"/>
<circle cx="407.4" cy="463.5" r="0.6" fill="#f4e2dd" opacity="0.8"/>
<circle cx="379.3" cy="400.2" r="0.6" fill="#f4e2dd" opacity="0.8"/>
<circle cx="358.2" cy="480.7" r="1.0" fill="#f4e2dd" opacity="0.8"/>
<circle cx="366.0" cy="457.5" r="1.0" fill="#f4e2dd" opacity="0.8"/>
<circle cx="375.1" cy="413.5" r="0.6" fill="#f4e2dd" opacity="0.8"/>
<circle cx="445.3" cy="448.1" r="0.8" fill="#f4e2dd" opacity="0.8"/>
<circle cx="438.9" cy="393.0" r="0.8" fill="#f4e2dd" opacity="0.8"/>
<circle cx="395.9" cy="411.6" r="0.6" fill="#f4e2dd" opacity="0.8"/>
<circle cx="367.5" cy="450.1" r="0.6" fill="#f4e2dd" opacity="0.8"/>
<circle cx="359.7" cy="388.6" r="1.0" fill="#f4e2dd" opacity="0.8"/>
<circle cx="364.4" cy="439.4" r="0.8" fill="#f4e2dd" opacity="0.8"/>
<circle cx="383.1" cy="448.0" r="0.6" fill="#f4e2dd" opacity="0.8"/>
<circle cx="378.7" cy="444.0" r="1.0" fill="#f4e2dd" opacity="0.8"/>
<circle cx="385.7" cy="461.2" r="0.6" fill="#f4e2dd" opacity="0.8"/>
<circle cx="367.9" cy="450.9" r="1.0" fill="#f4e2dd" opacity="0.8"/>
<circle cx="383.1" cy="477.6" r="0.6" fill="#f4e2dd" opacity="0.8"/>
<circle cx="409.0" cy="399.7" r="0.8" fill="#f4e2dd" opacity="0.8"/>
<circle cx="347.5" cy="429.4" r="1.0" fill="#f4e2dd" opacity="0.8"/>
<circle cx="417.2" cy="463.0" r="1.0" fill="#f4e2dd" opacity="0.8"/>
<circle cx="350.9" cy="435.1" r="0.8" fill="#f4e2dd" opacity="0.8"/>
<circle cx="411.8" cy="439.4" r="1.0" fill="#f4e2dd" opacity="0.8"/>
<circle cx="416.5" cy="446.1" r="0.6" fill="#f4e2dd" opacity="0.8"/>
<circle cx="411.0" cy="467.0" r="0.8" fill="#f4e2dd" opacity="0.8"/>
<circle cx="433.6" cy="405.5" r="1.0" fill="#f4e2dd" opacity="0.8"/>
<circle cx="385.9" cy="439.3" r="1.0" fill="#f4e2dd" opacity="0.8"/>
<circle cx="418.5" cy="465.3" r="0.8" fill="#f4e2dd" opacity="0.8"/>
<circle cx="403.1" cy="457.2" r="1.0" fill="#f4e2dd" opacity="0.8"/>
<circle cx="383.6" cy="476.6" r="0.6" fill="#f4e2dd" opacity="0.8"/>
<circle cx="412.2" cy="437.9" r="0.8" fill="#f4e2dd" opacity="0.8"/>
<circle cx="428.5" cy="467.2" r="1.0" fill="#f4e2dd" opacity="0.8"/>
<circle cx="417.4" cy="412.0" r="0.8" fill="#f4e2dd" opacity="0.8"/>
<circle cx="394.5" cy="414.3" r="1.0" fill="#f4e2dd" opacity="0.8"/>
<circle cx="379.8" cy="444.5" r="0.8" fill="#f4e2dd" opacity="0.8"/>
<circle cx="382.6" cy="386.7" r="0.6" fill="#f4e2dd" opacity="0.8"/>
<circle cx="414.4" cy="443.9" r="0.8" fill="#f4e2dd" opacity="0.8"/>
<circle cx="398.4" cy="434.9" r="0.6" fill="#f4e2dd" opacity="0.8"/>
<circle cx="351.8" cy="442.4" r="1.0" fill="#f4e2dd" opacity="0.8"/>
<circle cx="442.2" cy="414.9" r="1.0" fill="#f4e2dd" opacity="0.8"/>
<circle cx="422.2" cy="460.0" r="1.0" fill="#f4e2dd" opacity="0.8"/>
<circle cx="422.5" cy="387.1" r="1.0" fill="#f4e2dd" opacity="0.8"/>
<circle cx="418.2" cy="417.3" r="0.6" fill="#f4e2dd" opacity="0.8"/>
<circle cx="358.6" cy="391.8" r="0.8" fill="#f4e2dd" opacity="0.8"/>
<circle cx="362.4" cy="477.9" r="0.6" fill="#f4e2dd" opacity="0.8"/>
<circle cx="445.6" cy="389.4" r="0.8" fill="#f4e2dd" opacity="0.8"/>
<circle cx="413.7" cy="476.4" r="1.0" fill="#f4e2dd" opacity="0.8"/>
<circle cx="387.0" cy="429.7" r="0.6" fill="#f4e2dd" opacity="0.8"/>
<circle cx="394.7" cy="389.5" r="0.6" fill="#f4e2dd" opacity="0.8"/>
<circle cx="416.0" cy="430.5" r="0.6" fill="#f4e2dd" opacity="0.8"/>
<circle cx="408.9" cy="441.8" r="0.6" fill="#f4e2dd" opacity="0.8"/>
<circle cx="364.1" cy="411.8" r="0.8" fill="#f4e2dd" opacity="0.8"/>
<circle cx="384.8" cy="469.5" r="1.0" fill="#f4e2dd" opacity="0.8"/>
<circle cx="350.1" cy="433.9" r="0.6" fill="#f4e2dd" opacity="0.8"/>
<circle cx="399.8" cy="466.0" r="0.6" fill="#f4e2dd" opacity="0.8"/>
<circle cx="408.0" cy="477.2" r="1.0" fill="#f4e2dd" opacity="0.8"/>
<circle cx="370.3" cy="473.5" r="1.0" fill="#f4e2dd" opacity="0.8"/>
<circle cx="443.2" cy="419.9" r="1.0" fill="#f4e2dd" opacity="0.8"/>
<circle cx="378.9" cy="414.6" r="1.0" fill="#f4e2dd" opacity="0.8"/>
<circle cx="405.0" cy="435.5" r="0.6" fill="#f4e2dd" opacity="0.8"/>
<circle cx="434.2" cy="425.2" r="0.6" fill="#f4e2dd" opacity="0.8"/>
<circle cx="364.6" cy="450.0" r="0.6" fill="#f4e2dd" opacity="0.8"/>
<circle cx="413.6" cy="467.2" r="0.8" fill="#f4e2dd" opacity="0.8"/>
<circle cx="377.7" cy="440.5" r="1.0" fill="#f4e2dd" opacity="0.8"/>
<circle cx="433.0" cy="391.7" r="1.0" fill="#f4e2dd" opacity="0.8"/>
<circle cx="421.1" cy="418.3" r="0.8" fill="#f4e2dd" opacity="0.8"/>
<circle cx="347.5" cy="414.5" r="0.6" fill="#f4e2dd" opacity="0.8"/>
<circle cx="371.6" cy="391.3" r="0.6" fill="#f4e2dd" opacity="0.8"/>
<circle cx="425.1" cy="451.0" r="1.0" fill="#f4e2dd" opacity="0.8"/>
<circle cx="403.5" cy="385.3" r="0.8" fill="#f4e2dd" opacity="0.8"/>
<circle cx="410.9" cy="468.0" r="0.8" fill="#f4e2dd" opacity="0.8"/>
<circle cx="387.2" cy="439.8" r="1.0" fill="#f4e2dd" opacity="0.8"/>
<circle cx="441.9" cy="419.9" r="0.8" fill="#f4e2dd" opacity="0.8"/>
<circle cx="386.5" cy="415.4" r="0.8" fill="#f4e2dd" opacity="0.8"/>
<circle cx="355.0" cy="430.0" r="0.8" fill="#f4e2dd" opacity="0.8"/>
<circle cx="385.8" cy="408.3" r="1.0" fill="#f4e2dd" opacity="0.8"/>
<circle cx="357.4" cy="385.8" r="0.6" fill="#f4e2dd" opacity="0.8"/>
<circle cx="427.1" cy="389.8" r="1.0" fill="#f4e2dd" opacity="0.8"/>
<circle cx="420.3" cy="425.8" r="0.8" fill="#f4e2dd" opacity="0.8"/>
<circle cx="403.6" cy="406.2" r="0.6" fill="#f4e2dd" opacity="0.8"/>
<circle cx="391.1" cy="464.0" r="0.6" fill="#f4e2dd" opacity="0.8"/>
<circle cx="366.6" cy="474.4" r="0.8" fill="#f4e2dd" opacity="0.8"/>
<circle cx="405.4" cy="436.6" r="0.8" fill="#f4e2dd" opacity="0.8"/>
<circle cx="383.9" cy="481.2" r="0.6" fill="#f4e2dd" opacity="0.8"/>
<circle cx="418.1" cy="416.2" r="1.0" fill="#f4e2dd" opacity="0.8"/>
<circle cx="437.1" cy="405.2" r="1.0" fill="#f4e2dd" opacity="0.8"/>
<circle cx="364.6" cy="448.2" r="0.6" fill="#f4e2dd" opacity="0.8"/>
<circle cx="403.3" cy="465.4" r="0.8" fill="#f4e2dd" opacity="0.8"/>
<circle cx="362.6" cy="461.3" r="1.0" fill="#f4e2dd" opacity="0.8"/>
<circle cx="375.3" cy="389.0" r="1.0" fill="#f4e2dd" opacity="0.8"/>
<circle cx="443.2" cy="480.8" r="0.8" fill="#f4e2dd" opacity="0.8"/>
<circle cx="410.6" cy="392.7" r="0.8" fill="#f4e2dd" opacity="0.8"/>
<circle cx="431.9" cy="457.3" r="0.6" fill="#f4e2dd" opacity="0.8"/>
<circle cx="362.7" cy="406.3" r="1.0" fill="#f4e2dd" opacity="0.8"/>
<circle cx="442.8" cy="471.0" r="1.0" fill="#f4e2dd" opacity="0.8"/>
<circle cx="419.5" cy="406.5" r="0.8" fill="#f4e2dd" opacity="0.8"/>
<circle cx="360.5" cy="443.7" r="0.6" fill="#f4e2dd" opacity="0.8"/>
<circle cx="366.7" cy="415.7" r="1.0" fill="#f4e2dd" opacity="0.8"/>
<circle cx="388.8" cy="407.9" r="1.0" fill="#f4e2dd" opacity="0.8"/>
<circle cx="412.2" cy="385.8" r="1.0" fill="#f4e2dd" opacity="0.8"/>
<circle cx="353.3" cy="406.3" r="0.8" fill="#f4e2dd" opacity="0.8"/>
<circle cx="445.7" cy="420.0" r="0.8" fill="#f4e2dd" opacity="0.8"/>
<circle cx="415.2" cy="473.8" r="1.0" fill="#f4e2dd" opacity="0.8"/>
<circle cx="362.0" cy="435.9" r="0.8" fill="#f4e2dd" opacity="0.8"/>
<circle cx="430.3" cy="471.0" r="0.8" fill="#f4e2dd" opacity="0.8"/>
<circle cx="383.0" cy="480.8" r="0.8" fill="#f4e2dd" opacity="0.8"/>
<circle cx="392.9" cy="449.7" r="0.8" fill="#f4e2dd" opacity="0.8"/>
<circle cx="379.3" cy="410.4" r="0.6" fill="#f4e2dd" opacity="0.8"/>
<circle cx="440.4" cy="468.0" r="0.6" fill="#f4e2dd" opacity="0.8"/>
<circle cx="427.8" cy="457.8" r="1.0" fill="#f4e2dd" opacity="0.8"/>
<circle cx="442.1" cy="415.2" r="0.6" fill="#f4e2dd" opacity="0.8"/>
<circle cx="367.6" cy="479.7" r="0.6" fill="#f4e2dd" opacity="0.8"/>
<circle cx="369.5" cy="424.6" r="1.0" fill="#f4e2dd" opacity="0.8"/>
<circle cx="388.5" cy="465.2" r="0.6" fill="#f4e2dd" opacity="0.8"/>
<circle cx="365.8" cy="417.2" r="1.0" fill="#f4e2dd" opacity="0.8"/>
<circle cx="427.8" cy="392.8" r="0.6" fill="#f4e2dd" opacity="0.8"/>
<circle cx="380.4" cy="440.4" r="0.6" fill="#f4e2dd" opacity="0.8"/>
<circle cx="395.2" cy="466.4" r="0.8" fill="#f4e2dd" opacity="0.8"/>
<circle cx="428.2" cy="454.8" r="0.6" fill="#f4e2dd" opacity="0.8"/>
<circle cx="397.4" cy="455.2" r="1.0" fill="#f4e2dd" opacity="0.8"/>
<circle cx="364.5" cy="461.9" r="0.8" fill="#f4e2dd" opacity="0.8"/>
<circle cx="355.5" cy="447.1" r="0.8" fill="#f4e2dd" opacity="0.8"/>
<circle cx="437.4" cy="406.5" r="0.6" fill="#f4e2dd" opacity="0.8"/>
<circle cx="354.4" cy="402.6" r="1.0" fill="#f4e2dd" opacity="0.8"/>
<circle cx="415.1" cy="450.2" r="1.0" fill="#f4e2dd" opacity="0.8"/>
<circle cx="372.0" cy="389.6" r="0.6" fill="#f4e2dd" opacity="0.8"/>
<circle cx="388.3" cy="388.7" r="0.6" fill="#f4e2dd" opacity="0.8"/>
<circle cx="388.2" cy="421.8" r="1.0" fill="#f4e2dd" opacity="0.8"/>
<circle cx="415.0" cy="467.3" r="0.8" fill="#f4e2dd" opacity="0.8"/>
<circle cx="420.9" cy="403.9" r="0.8" fill="#f4e2dd" opacity="0.8"/>
<circle cx="422.0" cy="462.2" r="1.0" fill="#f4e2dd" opacity="0.8"/>
<circle cx="389.2" cy="467.4" r="0.6" fill="#f4e2dd" opacity="0.8"/>
<circle cx="423.7" cy="466.1" r="1.0" fill="#f4e2dd" opacity="0.8"/>
<circle cx="390.0" cy="473.5" r="1.0" fill="#f4e2dd" opacity="0.8"/>
<circle cx="393.2" cy="474.0" r="1.0" fill="#f4e2dd" opacity="0.8"/>
<circle cx="389.2" cy="407.1" r="0.6" fill="#f4e2dd" opacity="0.8"/>
<circle cx="434.2" cy="449.6" r="1.0" fill="#f4e2dd" opacity="0.8"/>
<circle cx="402.7" cy="482.9" r="0.8" fill="#f4e2dd" opacity="0.8"/>
<circle cx="416.1" cy="463.6" r="1.0" fill="#f4e2dd" opacity="0.8"/>
<circle cx="349.2" cy="433.4" r="0.8" fill="#f4e2dd" opacity="0.8"/>
<circle cx="429.0" cy="405.8" r="0.65" fill="#ac2c32" opacity="0.88"/>
<circle cx="428.8" cy="399.2" r="0.9" fill="#b83236" opacity="0.88"/>
<circle cx="415.2" cy="454.0" r="0.4" fill="#ac2c32" opacity="0.88"/>
<circle cx="418.1" cy="411.0" r="0.9" fill="#ac2c32" opacity="0.88"/>
<circle cx="356.1" cy="403.5" r="0.4" fill="#b83236" opacity="0.88"/>
<circle cx="388.5" cy="391.7" r="0.75" fill="#ac2c32" opacity="0.88"/>
<circle cx="376.0" cy="457.2" r="0.65" fill="#c44644" opacity="0.88"/>
<circle cx="381.5" cy="433.2" r="0.9" fill="#b83236" opacity="0.88"/>
<circle cx="358.6" cy="434.2" r="0.4" fill="#ac2c32" opacity="0.88"/>
<circle cx="417.4" cy="470.5" r="0.9" fill="#c44644" opacity="0.88"/>
<circle cx="364.5" cy="471.2" r="0.4" fill="#ac2c32" opacity="0.88"/>
<circle cx="436.3" cy="438.7" r="0.4" fill="#c44644" opacity="0.88"/>
<circle cx="386.4" cy="412.0" r="0.65" fill="#c44644" opacity="0.88"/>
<circle cx="443.0" cy="419.7" r="0.5" fill="#ac2c32" opacity="0.88"/>
<circle cx="439.6" cy="411.2" r="0.75" fill="#b83236" opacity="0.88"/>
<circle cx="426.0" cy="472.3" r="0.9" fill="#c44644" opacity="0.88"/>
<circle cx="412.6" cy="463.2" r="0.4" fill="#ac2c32" opacity="0.88"/>
<circle cx="372.2" cy="436.9" r="0.65" fill="#b83236" opacity="0.88"/>
<circle cx="425.9" cy="428.1" r="0.55" fill="#b83236" opacity="0.88"/>
<circle cx="443.9" cy="478.8" r="0.9" fill="#ac2c32" opacity="0.88"/>
<circle cx="430.5" cy="432.2" r="0.65" fill="#b83236" opacity="0.88"/>
<circle cx="381.2" cy="473.5" r="0.9" fill="#b83236" opacity="0.88"/>
<circle cx="359.0" cy="437.3" r="0.65" fill="#c44644" opacity="0.88"/>
<circle cx="430.5" cy="446.4" r="0.9" fill="#c44644" opacity="0.88"/>
<circle cx="431.7" cy="403.8" r="0.75" fill="#ac2c32" opacity="0.88"/>
<circle cx="399.9" cy="456.1" r="0.55" fill="#b83236" opacity="0.88"/>
<circle cx="402.7" cy="430.5" r="0.75" fill="#ac2c32" opacity="0.88"/>
<circle cx="427.8" cy="462.7" r="0.65" fill="#c44644" opacity="0.88"/>
<circle cx="399.2" cy="403.6" r="0.65" fill="#b83236" opacity="0.88"/>
<circle cx="367.3" cy="413.4" r="0.65" fill="#b83236" opacity="0.88"/>
<circle cx="433.9" cy="415.2" r="0.65" fill="#ac2c32" opacity="0.88"/>
<circle cx="362.8" cy="407.2" r="0.9" fill="#c44644" opacity="0.88"/>
<circle cx="440.5" cy="445.4" r="0.5" fill="#ac2c32" opacity="0.88"/>
<circle cx="381.9" cy="466.4" r="0.75" fill="#ac2c32" opacity="0.88"/>
<circle cx="427.6" cy="478.4" r="0.75" fill="#ac2c32" opacity="0.88"/>
<circle cx="391.5" cy="393.2" r="0.4" fill="#b83236" opacity="0.88"/>
<circle cx="425.9" cy="482.1" r="0.4" fill="#c44644" opacity="0.88"/>
<circle cx="372.1" cy="393.7" r="0.5" fill="#c44644" opacity="0.88"/>
<circle cx="372.4" cy="465.0" r="0.4" fill="#b83236" opacity="0.88"/>
<circle cx="357.0" cy="421.2" r="0.55" fill="#b83236" opacity="0.88"/>
<circle cx="379.5" cy="440.9" r="0.55" fill="#c44644" opacity="0.88"/>
<circle cx="394.6" cy="474.8" r="0.4" fill="#ac2c32" opacity="0.88"/>
<circle cx="424.5" cy="458.2" r="0.9" fill="#b83236" opacity="0.88"/>
<circle cx="351.8" cy="463.4" r="0.65" fill="#ac2c32" opacity="0.88"/>
<circle cx="368.1" cy="390.6" r="0.4" fill="#c44644" opacity="0.88"/>
<circle cx="419.4" cy="429.0" r="0.9" fill="#c44644" opacity="0.88"/>
<circle cx="421.0" cy="457.9" r="0.4" fill="#c44644" opacity="0.88"/>
<circle cx="350.0" cy="441.6" r="0.9" fill="#ac2c32" opacity="0.88"/>
<circle cx="444.7" cy="404.5" r="0.5" fill="#b83236" opacity="0.88"/>
<circle cx="374.6" cy="454.1" r="0.65" fill="#c44644" opacity="0.88"/>
<circle cx="435.7" cy="429.6" r="0.5" fill="#ac2c32" opacity="0.88"/>
<circle cx="394.7" cy="479.6" r="0.4" fill="#ac2c32" opacity="0.88"/>
<circle cx="365.2" cy="477.2" r="0.75" fill="#b83236" opacity="0.88"/>
<circle cx="412.0" cy="440.1" r="0.4" fill="#b83236" opacity="0.88"/>
<circle cx="446.0" cy="479.6" r="0.5" fill="#ac2c32" opacity="0.88"/>
<circle cx="361.6" cy="423.8" r="0.9" fill="#c44644" opacity="0.88"/>
<circle cx="443.3" cy="420.5" r="0.5" fill="#b83236" opacity="0.88"/>
<circle cx="364.1" cy="477.3" r="0.55" fill="#b83236" opacity="0.88"/>
<circle cx="439.3" cy="476.3" r="0.5" fill="#c44644" opacity="0.88"/>
<circle cx="404.3" cy="460.3" r="0.5" fill="#ac2c32" opacity="0.88"/>
<circle cx="353.0" cy="430.7" r="0.4" fill="#b83236" opacity="0.88"/>
<circle cx="435.2" cy="459.2" r="0.65" fill="#c44644" opacity="0.88"/>
<circle cx="419.2" cy="427.1" r="0.55" fill="#ac2c32" opacity="0.88"/>
<circle cx="371.4" cy="462.2" r="0.75" fill="#b83236" opacity="0.88"/>
<circle cx="365.3" cy="430.6" r="0.5" fill="#b83236" opacity="0.88"/>
<circle cx="442.9" cy="407.4" r="0.9" fill="#b83236" opacity="0.88"/>
<circle cx="368.1" cy="411.8" r="0.55" fill="#ac2c32" opacity="0.88"/>
<circle cx="393.8" cy="482.2" r="0.4" fill="#c44644" opacity="0.88"/>
<circle cx="404.6" cy="442.3" r="0.5" fill="#ac2c32" opacity="0.88"/>
<circle cx="348.0" cy="402.5" r="0.4" fill="#ac2c32" opacity="0.88"/>
<circle cx="411.9" cy="404.5" r="0.5" fill="#c44644" opacity="0.88"/>
<circle cx="385.8" cy="426.8" r="0.55" fill="#c44644" opacity="0.88"/>
<circle cx="425.3" cy="447.1" r="0.65" fill="#ac2c32" opacity="0.88"/>
<circle cx="426.3" cy="389.9" r="0.55" fill="#c44644" opacity="0.88"/>
<circle cx="417.5" cy="418.4" r="0.65" fill="#c44644" opacity="0.88"/>
<circle cx="439.3" cy="415.8" r="0.9" fill="#ac2c32" opacity="0.88"/>
<circle cx="381.9" cy="405.2" r="0.55" fill="#b83236" opacity="0.88"/>
<circle cx="350.4" cy="394.6" r="0.55" fill="#ac2c32" opacity="0.88"/>
<circle cx="443.6" cy="478.7" r="0.4" fill="#b83236" opacity="0.88"/>
<circle cx="435.6" cy="475.1" r="0.4" fill="#c44644" opacity="0.88"/>
<circle cx="397.3" cy="451.3" r="0.65" fill="#b83236" opacity="0.88"/>
<circle cx="421.2" cy="450.4" r="0.55" fill="#ac2c32" opacity="0.88"/>
<circle cx="381.1" cy="434.0" r="0.4" fill="#c44644" opacity="0.88"/>
<circle cx="429.4" cy="401.5" r="0.5" fill="#c44644" opacity="0.88"/>
<circle cx="366.4" cy="453.0" r="0.75" fill="#b83236" opacity="0.88"/>
<circle cx="350.0" cy="385.8" r="0.9" fill="#b83236" opacity="0.88"/>
<circle cx="414.1" cy="460.4" r="0.55" fill="#b83236" opacity="0.88"/>
<circle cx="378.1" cy="390.3" r="0.65" fill="#c44644" opacity="0.88"/>
<circle cx="426.2" cy="453.6" r="0.75" fill="#b83236" opacity="0.88"/>
<circle cx="429.8" cy="443.2" r="0.75" fill="#c44644" opacity="0.88"/>
<circle cx="371.7" cy="407.5" r="0.4" fill="#ac2c32" opacity="0.88"/>
<circle cx="363.1" cy="409.3" r="0.75" fill="#c44644" opacity="0.88"/>
<circle cx="428.0" cy="398.5" r="0.65" fill="#c44644" opacity="0.88"/>
<circle cx="444.3" cy="413.7" r="0.9" fill="#ac2c32" opacity="0.88"/>
<circle cx="371.6" cy="478.5" r="0.5" fill="#b83236" opacity="0.88"/>
<circle cx="394.2" cy="400.4" r="0.65" fill="#ac2c32" opacity="0.88"/>
<circle cx="349.9" cy="408.8" r="0.4" fill="#ac2c32" opacity="0.88"/>
<circle cx="374.1" cy="428.2" r="0.65" fill="#b83236" opacity="0.88"/>
<circle cx="405.3" cy="413.0" r="0.9" fill="#ac2c32" opacity="0.88"/>
<circle cx="410.1" cy="459.0" r="0.9" fill="#b83236" opacity="0.88"/>
<circle cx="378.2" cy="402.5" r="0.4" fill="#ac2c32" opacity="0.88"/>
<circle cx="358.6" cy="433.7" r="0.4" fill="#c44644" opacity="0.88"/>
<circle cx="371.9" cy="418.8" r="0.75" fill="#ac2c32" opacity="0.88"/>
<circle cx="412.2" cy="397.1" r="0.75" fill="#b83236" opacity="0.88"/>
<circle cx="361.7" cy="392.9" r="0.65" fill="#ac2c32" opacity="0.88"/>
<circle cx="377.8" cy="433.9" r="0.4" fill="#ac2c32" opacity="0.88"/>
<circle cx="388.1" cy="448.5" r="0.55" fill="#ac2c32" opacity="0.88"/>
<circle cx="370.3" cy="450.3" r="0.5" fill="#ac2c32" opacity="0.88"/>
<circle cx="395.9" cy="393.3" r="0.9" fill="#b83236" opacity="0.88"/>
<circle cx="437.8" cy="430.1" r="0.55" fill="#b83236" opacity="0.88"/>
<circle cx="398.8" cy="463.0" r="0.4" fill="#ac2c32" opacity="0.88"/>
<circle cx="422.8" cy="420.7" r="0.65" fill="#c44644" opacity="0.88"/>
<circle cx="378.0" cy="431.0" r="0.65" fill="#b83236" opacity="0.88"/>
<circle cx="434.7" cy="450.4" r="0.55" fill="#b83236" opacity="0.88"/>
<circle cx="361.0" cy="462.4" r="0.65" fill="#c44644" opacity="0.88"/>
<circle cx="354.6" cy="468.9" r="0.5" fill="#b83236" opacity="0.88"/>
<circle cx="380.8" cy="463.1" r="0.55" fill="#c44644" opacity="0.88"/>
<circle cx="417.6" cy="451.2" r="0.5" fill="#b83236" opacity="0.88"/>
<circle cx="377.9" cy="388.5" r="0.9" fill="#b83236" opacity="0.88"/>
<circle cx="433.8" cy="446.3" r="0.55" fill="#c44644" opacity="0.88"/>
<circle cx="431.9" cy="464.5" r="0.9" fill="#c44644" opacity="0.88"/>
<circle cx="405.0" cy="465.3" r="0.75" fill="#b83236" opacity="0.88"/>
<circle cx="408.9" cy="406.9" r="0.5" fill="#c44644" opacity="0.88"/>
<circle cx="423.8" cy="452.6" r="0.55" fill="#ac2c32" opacity="0.88"/>
<circle cx="411.8" cy="479.4" r="0.5" fill="#ac2c32" opacity="0.88"/>
<circle cx="404.4" cy="456.7" r="0.4" fill="#b83236" opacity="0.88"/>
<circle cx="435.8" cy="462.5" r="0.5" fill="#b83236" opacity="0.88"/>
<circle cx="375.5" cy="425.1" r="0.5" fill="#c44644" opacity="0.88"/>
<circle cx="404.1" cy="442.0" r="0.9" fill="#ac2c32" opacity="0.88"/>
<circle cx="378.3" cy="403.6" r="0.55" fill="#ac2c32" opacity="0.88"/>
<circle cx="430.9" cy="412.4" r="0.9" fill="#c44644" opacity="0.88"/>
<circle cx="401.8" cy="453.8" r="0.55" fill="#ac2c32" opacity="0.88"/>
<circle cx="392.8" cy="443.5" r="0.55" fill="#ac2c32" opacity="0.88"/>
<circle cx="364.8" cy="443.2" r="0.5" fill="#ac2c32" opacity="0.88"/>
<circle cx="353.4" cy="482.1" r="0.65" fill="#ac2c32" opacity="0.88"/>
<circle cx="375.2" cy="470.7" r="0.5" fill="#b83236" opacity="0.88"/>
<circle cx="435.9" cy="446.9" r="0.65" fill="#ac2c32" opacity="0.88"/>
<circle cx="424.2" cy="465.7" r="0.65" fill="#b83236" opacity="0.88"/>
<circle cx="439.5" cy="435.1" r="0.75" fill="#b83236" opacity="0.88"/>
<circle cx="400.3" cy="466.7" r="0.5" fill="#c44644" opacity="0.88"/>
<circle cx="431.6" cy="432.7" r="0.55" fill="#ac2c32" opacity="0.88"/>
<circle cx="358.8" cy="412.1" r="0.65" fill="#c44644" opacity="0.88"/>
<circle cx="354.1" cy="390.5" r="0.5" fill="#ac2c32" opacity="0.88"/>
<circle cx="433.6" cy="478.1" r="0.9" fill="#b83236" opacity="0.88"/>
<circle cx="368.6" cy="406.2" r="0.75" fill="#b83236" opacity="0.88"/>
<circle cx="372.4" cy="439.6" r="0.4" fill="#b83236" opacity="0.88"/>
<circle cx="403.4" cy="465.3" r="0.65" fill="#c44644" opacity="0.88"/>
<circle cx="385.6" cy="427.9" r="0.5" fill="#c44644" opacity="0.88"/>
<circle cx="405.7" cy="478.1" r="0.5" fill="#c44644" opacity="0.88"/>
<circle cx="368.9" cy="398.9" r="0.75" fill="#b83236" opacity="0.88"/>
<circle cx="356.1" cy="404.3" r="0.55" fill="#ac2c32" opacity="0.88"/>
<circle cx="435.3" cy="446.1" r="0.4" fill="#c44644" opacity="0.88"/>
<circle cx="429.7" cy="443.5" r="0.55" fill="#b83236" opacity="0.88"/>
<circle cx="423.0" cy="391.6" r="0.5" fill="#c44644" opacity="0.88"/>
<circle cx="422.8" cy="459.7" r="0.55" fill="#ac2c32" opacity="0.88"/>
<circle cx="350.8" cy="465.4" r="0.4" fill="#ac2c32" opacity="0.88"/>
<circle cx="385.2" cy="389.9" r="0.75" fill="#b83236" opacity="0.88"/>
<circle cx="412.8" cy="458.8" r="0.55" fill="#c44644" opacity="0.88"/>
<circle cx="419.6" cy="402.9" r="0.5" fill="#ac2c32" opacity="0.88"/>
<circle cx="424.6" cy="411.4" r="0.9" fill="#b83236" opacity="0.88"/>
<circle cx="354.4" cy="406.7" r="0.4" fill="#ac2c32" opacity="0.88"/>
<circle cx="436.0" cy="456.0" r="0.65" fill="#c44644" opacity="0.88"/>
<circle cx="394.3" cy="460.8" r="0.5" fill="#c44644" opacity="0.88"/>
<circle cx="430.8" cy="430.4" r="0.4" fill="#b83236" opacity="0.88"/>
<circle cx="380.0" cy="413.5" r="0.5" fill="#b83236" opacity="0.88"/>
<circle cx="384.7" cy="411.6" r="0.9" fill="#ac2c32" opacity="0.88"/>
<circle cx="361.8" cy="440.2" r="0.5" fill="#ac2c32" opacity="0.88"/>
<circle cx="415.1" cy="463.6" r="0.65" fill="#c44644" opacity="0.88"/>
<circle cx="435.9" cy="402.0" r="0.75" fill="#b83236" opacity="0.88"/>
<circle cx="403.1" cy="428.2" r="0.4" fill="#c44644" opacity="0.88"/>
<circle cx="378.0" cy="415.0" r="0.5" fill="#c44644" opacity="0.88"/>
<circle cx="365.8" cy="445.1" r="0.75" fill="#b83236" opacity="0.88"/>
<circle cx="417.5" cy="424.9" r="0.9" fill="#ac2c32" opacity="0.88"/>
<circle cx="429.3" cy="426.8" r="0.9" fill="#b83236" opacity="0.88"/>
<circle cx="357.8" cy="471.6" r="0.75" fill="#b83236" opacity="0.88"/>
<circle cx="374.2" cy="480.0" r="0.55" fill="#ac2c32" opacity="0.88"/>
<circle cx="441.3" cy="441.1" r="0.75" fill="#c44644" opacity="0.88"/>
<circle cx="417.0" cy="398.6" r="0.4" fill="#b83236" opacity="0.88"/>
<circle cx="401.1" cy="404.6" r="0.4" fill="#ac2c32" opacity="0.88"/>
<circle cx="389.1" cy="385.7" r="0.9" fill="#b83236" opacity="0.88"/>
<circle cx="363.4" cy="399.7" r="0.75" fill="#ac2c32" opacity="0.88"/>
<circle cx="414.5" cy="400.4" r="0.55" fill="#b83236" opacity="0.88"/>
<circle cx="416.5" cy="445.8" r="0.55" fill="#b83236" opacity="0.88"/>
<circle cx="406.5" cy="476.2" r="0.4" fill="#ac2c32" opacity="0.88"/>
<circle cx="364.3" cy="482.6" r="0.5" fill="#b83236" opacity="0.88"/>
<circle cx="424.0" cy="393.2" r="0.55" fill="#ac2c32" opacity="0.88"/>
<circle cx="381.8" cy="457.1" r="0.4" fill="#ac2c32" opacity="0.88"/>
<circle cx="399.0" cy="476.9" r="0.4" fill="#b83236" opacity="0.88"/>
<circle cx="413.6" cy="438.1" r="0.75" fill="#b83236" opacity="0.88"/>
<circle cx="438.2" cy="442.0" r="0.4" fill="#b83236" opacity="0.88"/>
<circle cx="377.6" cy="448.8" r="0.55" fill="#c44644" opacity="0.88"/>
<circle cx="384.6" cy="448.9" r="0.55" fill="#ac2c32" opacity="0.88"/>
<circle cx="433.3" cy="388.3" r="0.55" fill="#b83236" opacity="0.88"/>
<circle cx="362.2" cy="400.2" r="0.75" fill="#ac2c32" opacity="0.88"/>
<circle cx="434.7" cy="419.2" r="0.9" fill="#c44644" opacity="0.88"/>
<circle cx="388.1" cy="424.1" r="0.75" fill="#ac2c32" opacity="0.88"/>
<circle cx="370.6" cy="422.9" r="0.5" fill="#b83236" opacity="0.88"/>
<circle cx="352.0" cy="467.6" r="0.65" fill="#c44644" opacity="0.88"/>
<circle cx="383.7" cy="415.6" r="0.5" fill="#b83236" opacity="0.88"/>
<circle cx="438.1" cy="453.9" r="0.9" fill="#ac2c32" opacity="0.88"/>
<circle cx="378.0" cy="408.0" r="0.4" fill="#ac2c32" opacity="0.88"/>
<circle cx="437.3" cy="456.5" r="0.55" fill="#ac2c32" opacity="0.88"/>
<circle cx="390.5" cy="443.1" r="0.4" fill="#c44644" opacity="0.88"/>
<circle cx="404.3" cy="482.1" r="0.55" fill="#c44644" opacity="0.88"/>
<circle cx="363.0" cy="408.4" r="0.55" fill="#ac2c32" opacity="0.88"/>
<circle cx="377.3" cy="465.9" r="0.4" fill="#ac2c32" opacity="0.88"/>
<circle cx="421.6" cy="484.0" r="0.9" fill="#b83236" opacity="0.88"/>
<circle cx="357.8" cy="417.7" r="0.75" fill="#c44644" opacity="0.88"/>
<circle cx="412.8" cy="459.4" r="0.5" fill="#b83236" opacity="0.88"/>
<circle cx="444.3" cy="475.6" r="0.9" fill="#b83236" opacity="0.88"/>
<circle cx="376.5" cy="416.6" r="0.4" fill="#b83236" opacity="0.88"/>
<circle cx="391.4" cy="455.0" r="0.5" fill="#b83236" opacity="0.88"/>
<circle cx="394.1" cy="390.8" r="0.9" fill="#ac2c32" opacity="0.88"/>
<circle cx="384.9" cy="441.8" r="0.55" fill="#ac2c32" opacity="0.88"/>
<circle cx="400.2" cy="480.1" r="0.65" fill="#c44644" opacity="0.88"/>
<circle cx="425.6" cy="407.2" r="0.75" fill="#ac2c32" opacity="0.88"/>
<circle cx="358.5" cy="447.9" r="0.4" fill="#b83236" opacity="0.88"/>
<circle cx="398.2" cy="400.3" r="0.65" fill="#ac2c32" opacity="0.88"/>
<circle cx="357.0" cy="399.0" r="0.5" fill="#c44644" opacity="0.88"/>
<circle cx="442.0" cy="393.6" r="0.4" fill="#ac2c32" opacity="0.88"/>
<circle cx="386.0" cy="474.1" r="0.5" fill="#b83236" opacity="0.88"/>
<circle cx="432.5" cy="423.4" r="0.9" fill="#c44644" opacity="0.88"/>
<circle cx="425.1" cy="395.7" r="0.75" fill="#ac2c32" opacity="0.88"/>
<circle cx="398.8" cy="431.9" r="0.55" fill="#ac2c32" opacity="0.88"/>
<circle cx="383.3" cy="441.0" r="0.9" fill="#ac2c32" opacity="0.88"/>
<circle cx="435.8" cy="414.1" r="0.5" fill="#b83236" opacity="0.88"/>
<circle cx="373.2" cy="482.8" r="0.65" fill="#b83236" opacity="0.88"/>
<circle cx="379.9" cy="444.1" r="0.4" fill="#ac2c32" opacity="0.88"/>
<circle cx="365.3" cy="427.5" r="0.9" fill="#b83236" opacity="0.88"/>
<circle cx="375.4" cy="446.8" r="0.4" fill="#b83236" opacity="0.88"/>
<circle cx="442.2" cy="413.5" r="0.4" fill="#b83236" opacity="0.88"/>
<circle cx="395.8" cy="462.8" r="0.5" fill="#c44644" opacity="0.88"/>
<circle cx="420.9" cy="450.1" r="0.65" fill="#c44644" opacity="0.88"/>
<circle cx="412.4" cy="462.4" r="0.5" fill="#b83236" opacity="0.88"/>
<circle cx="391.3" cy="451.4" r="0.5" fill="#ac2c32" opacity="0.88"/>
<circle cx="393.3" cy="398.1" r="0.55" fill="#ac2c32" opacity="0.88"/>
<circle cx="408.2" cy="467.8" r="0.65" fill="#c44644" opacity="0.88"/>
<circle cx="376.6" cy="395.6" r="0.5" fill="#b83236" opacity="0.88"/>
<circle cx="434.4" cy="451.9" r="0.4" fill="#ac2c32" opacity="0.88"/>
<circle cx="406.9" cy="476.4" r="0.9" fill="#c44644" opacity="0.88"/>
<circle cx="389.8" cy="437.3" r="0.55" fill="#b83236" opacity="0.88"/>
<circle cx="356.6" cy="406.7" r="0.55" fill="#b83236" opacity="0.88"/>
<circle cx="418.2" cy="462.3" r="0.5" fill="#c44644" opacity="0.88"/>
<circle cx="442.0" cy="474.2" r="0.4" fill="#b83236" opacity="0.88"/>
<circle cx="446.0" cy="478.8" r="0.9" fill="#ac2c32" opacity="0.88"/>
<circle cx="424.7" cy="439.8" r="0.55" fill="#ac2c32" opacity="0.88"/>
<circle cx="441.3" cy="434.5" r="0.9" fill="#ac2c32" opacity="0.88"/>
<circle cx="363.4" cy="451.2" r="0.75" fill="#ac2c32" opacity="0.88"/>
<circle cx="435.7" cy="441.5" r="0.55" fill="#ac2c32" opacity="0.88"/>
<circle cx="392.3" cy="419.5" r="0.5" fill="#ac2c32" opacity="0.88"/>
<circle cx="386.7" cy="428.9" r="0.55" fill="#b83236" opacity="0.88"/>
<circle cx="436.8" cy="462.6" r="0.9" fill="#b83236" opacity="0.88"/>
<circle cx="370.8" cy="471.6" r="0.5" fill="#ac2c32" opacity="0.88"/>
<circle cx="411.4" cy="389.6" r="0.55" fill="#ac2c32" opacity="0.88"/>
<circle cx="376.3" cy="480.3" r="0.75" fill="#b83236" opacity="0.88"/>
<circle cx="360.2" cy="424.5" r="0.75" fill="#ac2c32" opacity="0.88"/>
<circle cx="415.7" cy="481.6" r="0.5" fill="#b83236" opacity="0.88"/>
<circle cx="445.2" cy="415.1" r="0.5" fill="#ac2c32" opacity="0.88"/>
<circle cx="415.3" cy="455.2" r="0.65" fill="#b83236" opacity="0.88"/>
<circle cx="445.4" cy="417.5" r="0.4" fill="#ac2c32" opacity="0.88"/>
<circle cx="392.8" cy="464.0" r="0.75" fill="#ac2c32" opacity="0.88"/>
<circle cx="409.7" cy="386.1" r="0.75" fill="#ac2c32" opacity="0.88"/>
<circle cx="415.6" cy="409.5" r="0.5" fill="#c44644" opacity="0.88"/>
<circle cx="424.5" cy="412.9" r="0.65" fill="#ac2c32" opacity="0.88"/>
<circle cx="407.2" cy="449.5" r="0.55" fill="#ac2c32" opacity="0.88"/>
<circle cx="371.7" cy="449.6" r="0.55" fill="#b83236" opacity="0.88"/>
<circle cx="375.9" cy="405.1" r="0.65" fill="#c44644" opacity="0.88"/>
<circle cx="393.1" cy="400.4" r="0.4" fill="#b83236" opacity="0.88"/>
<circle cx="428.7" cy="426.3" r="0.75" fill="#b83236" opacity="0.88"/>
<circle cx="356.2" cy="398.1" r="0.9" fill="#ac2c32" opacity="0.88"/>
<circle cx="406.0" cy="409.1" r="0.55" fill="#b83236" opacity="0.88"/>
<circle cx="377.6" cy="476.2" r="0.4" fill="#ac2c32" opacity="0.88"/>
<circle cx="432.3" cy="479.6" r="0.5" fill="#b83236" opacity="0.88"/>
<circle cx="411.7" cy="474.8" r="0.4" fill="#ac2c32" opacity="0.88"/>
<circle cx="352.5" cy="473.0" r="0.65" fill="#ac2c32" opacity="0.88"/>
<circle cx="384.8" cy="406.9" r="0.75" fill="#b83236" opacity="0.88"/>
<circle cx="416.4" cy="414.1" r="0.5" fill="#c44644" opacity="0.88"/>
<circle cx="424.9" cy="415.7" r="0.9" fill="#ac2c32" opacity="0.88"/>
<circle cx="395.7" cy="386.8" r="0.55" fill="#b83236" opacity="0.88"/>
<circle cx="360.8" cy="416.8" r="0.75" fill="#ac2c32" opacity="0.88"/>
<circle cx="362.9" cy="462.5" r="0.5" fill="#c44644" opacity="0.88"/>
<circle cx="397.3" cy="398.9" r="0.75" fill="#c44644" opacity="0.88"/>
<circle cx="354.0" cy="458.6" r="0.4" fill="#b83236" opacity="0.88"/>
<circle cx="418.9" cy="429.8" r="0.9" fill="#c44644" opacity="0.88"/>
<circle cx="438.8" cy="448.3" r="0.55" fill="#c44644" opacity="0.88"/>
<circle cx="403.9" cy="480.2" r="0.65" fill="#ac2c32" opacity="0.88"/>
<circle cx="412.8" cy="433.0" r="0.5" fill="#b83236" opacity="0.88"/>
<circle cx="445.3" cy="439.3" r="0.65" fill="#c44644" opacity="0.88"/>
<circle cx="418.8" cy="421.5" r="0.75" fill="#b83236" opacity="0.88"/>
<circle cx="349.6" cy="388.2" r="0.4" fill="#c44644" opacity="0.88"/>
<circle cx="381.8" cy="385.3" r="0.9" fill="#c44644" opacity="0.88"/>
<circle cx="366.0" cy="432.1" r="0.5" fill="#c44644" opacity="0.88"/>
<circle cx="433.9" cy="420.8" r="0.9" fill="#b83236" opacity="0.88"/>
<circle cx="399.5" cy="412.6" r="0.65" fill="#c44644" opacity="0.88"/>
<circle cx="354.8" cy="406.8" r="0.9" fill="#b83236" opacity="0.88"/>
<circle cx="366.5" cy="414.7" r="0.5" fill="#ac2c32" opacity="0.88"/>
<circle cx="384.5" cy="470.5" r="0.5" fill="#ac2c32" opacity="0.88"/>
<circle cx="426.7" cy="454.5" r="0.65" fill="#ac2c32" opacity="0.88"/>
<circle cx="427.3" cy="415.2" r="0.55" fill="#b83236" opacity="0.88"/>
<circle cx="446.0" cy="391.5" r="0.75" fill="#ac2c32" opacity="0.88"/>
<circle cx="371.9" cy="421.9" r="0.65" fill="#ac2c32" opacity="0.88"/>
<circle cx="408.5" cy="425.1" r="0.75" fill="#ac2c32" opacity="0.88"/>
<circle cx="436.7" cy="477.9" r="0.75" fill="#b83236" opacity="0.88"/>
<circle cx="397.7" cy="445.9" r="0.9" fill="#ac2c32" opacity="0.88"/>
<circle cx="415.8" cy="433.9" r="0.5" fill="#b83236" opacity="0.88"/>
<circle cx="373.8" cy="473.2" r="0.9" fill="#b83236" opacity="0.88"/>
<circle cx="392.1" cy="476.1" r="0.55" fill="#c44644" opacity="0.88"/>
<circle cx="428.5" cy="431.4" r="0.55" fill="#c44644" opacity="0.88"/>
<circle cx="409.6" cy="386.6" r="0.9" fill="#ac2c32" opacity="0.88"/>
<circle cx="358.9" cy="458.7" r="0.55" fill="#c44644" opacity="0.88"/>
<circle cx="436.2" cy="394.4" r="0.75" fill="#c44644" opacity="0.88"/>
<circle cx="444.4" cy="458.6" r="0.55" fill="#b83236" opacity="0.88"/>
<circle cx="369.0" cy="475.6" r="0.4" fill="#ac2c32" opacity="0.88"/>
<circle cx="412.7" cy="438.0" r="0.9" fill="#ac2c32" opacity="0.88"/>
<circle cx="427.8" cy="428.4" r="0.55" fill="#c44644" opacity="0.88"/>
<circle cx="392.6" cy="440.1" r="0.75" fill="#c44644" opacity="0.88"/>
<circle cx="419.9" cy="405.7" r="0.65" fill="#b83236" opacity="0.88"/>
<circle cx="363.1" cy="462.9" r="0.9" fill="#b83236" opacity="0.88"/>
<circle cx="389.6" cy="419.1" r="0.75" fill="#ac2c32" opacity="0.88"/>
<circle cx="369.6" cy="407.8" r="0.65" fill="#ac2c32" opacity="0.88"/>
<circle cx="390.8" cy="414.3" r="0.75" fill="#ac2c32" opacity="0.88"/>
<circle cx="368.4" cy="413.2" r="0.75" fill="#c44644" opacity="0.88"/>
<circle cx="359.4" cy="410.1" r="0.55" fill="#ac2c32" opacity="0.88"/>
<circle cx="382.6" cy="460.6" r="0.4" fill="#ac2c32" opacity="0.88"/>
<circle cx="406.3" cy="476.1" r="0.5" fill="#b83236" opacity="0.88"/>
<circle cx="422.3" cy="475.2" r="0.65" fill="#b83236" opacity="0.88"/>
<circle cx="398.6" cy="424.0" r="0.9" fill="#c44644" opacity="0.88"/>
<circle cx="427.0" cy="476.8" r="0.9" fill="#b83236" opacity="0.88"/>
<circle cx="436.3" cy="435.8" r="0.55" fill="#b83236" opacity="0.88"/>
<circle cx="439.3" cy="420.8" r="0.4" fill="#b83236" opacity="0.88"/>
<circle cx="370.2" cy="480.9" r="0.75" fill="#c44644" opacity="0.88"/>
<circle cx="357.3" cy="390.4" r="0.65" fill="#b83236" opacity="0.88"/>
<circle cx="348.7" cy="462.8" r="0.4" fill="#ac2c32" opacity="0.88"/>
<circle cx="416.6" cy="413.4" r="0.9" fill="#b83236" opacity="0.88"/>
<circle cx="434.6" cy="390.1" r="0.5" fill="#b83236" opacity="0.88"/>
<circle cx="392.7" cy="418.8" r="0.4" fill="#ac2c32" opacity="0.88"/>
<circle cx="371.7" cy="472.3" r="0.4" fill="#b83236" opacity="0.88"/>
<circle cx="397.2" cy="426.5" r="0.55" fill="#ac2c32" opacity="0.88"/>
<circle cx="444.7" cy="479.0" r="0.75" fill="#b83236" opacity="0.88"/>
<circle cx="374.9" cy="424.5" r="0.4" fill="#c44644" opacity="0.88"/>
<circle cx="390.9" cy="401.0" r="0.4" fill="#b83236" opacity="0.88"/>
<circle cx="393.2" cy="436.3" r="0.65" fill="#ac2c32" opacity="0.88"/>
<circle cx="392.3" cy="440.1" r="0.55" fill="#ac2c32" opacity="0.88"/>
<circle cx="434.3" cy="403.2" r="0.65" fill="#b83236" opacity="0.88"/>
<circle cx="403.2" cy="459.7" r="0.5" fill="#ac2c32" opacity="0.88"/>
<circle cx="419.8" cy="452.9" r="0.75" fill="#b83236" opacity="0.88"/>
<circle cx="438.9" cy="457.7" r="0.55" fill="#ac2c32" opacity="0.88"/>
<circle cx="431.7" cy="425.6" r="0.5" fill="#c44644" opacity="0.88"/>
<circle cx="357.9" cy="430.9" r="0.55" fill="#c44644" opacity="0.88"/>
<circle cx="412.1" cy="396.4" r="0.65" fill="#ac2c32" opacity="0.88"/>
<circle cx="423.6" cy="467.5" r="0.65" fill="#c44644" opacity="0.88"/>
<circle cx="409.3" cy="419.8" r="0.75" fill="#c44644" opacity="0.88"/>
<circle cx="440.0" cy="403.7" r="0.55" fill="#ac2c32" opacity="0.88"/>
<circle cx="388.2" cy="405.5" r="0.55" fill="#b83236" opacity="0.88"/>
<circle cx="368.4" cy="477.8" r="0.4" fill="#ac2c32" opacity="0.88"/>
<circle cx="411.4" cy="402.7" r="0.65" fill="#c44644" opacity="0.88"/>
<circle cx="348.3" cy="446.5" r="0.4" fill="#b83236" opacity="0.88"/>
<circle cx="426.2" cy="390.7" r="0.75" fill="#c44644" opacity="0.88"/>
<circle cx="436.3" cy="448.1" r="0.65" fill="#c44644" opacity="0.88"/>
<circle cx="435.7" cy="435.0" r="0.5" fill="#c44644" opacity="0.88"/>
<circle cx="420.2" cy="478.2" r="0.5" fill="#ac2c32" opacity="0.88"/>
<circle cx="368.6" cy="479.9" r="0.9" fill="#c44644" opacity="0.88"/>
<circle cx="444.4" cy="437.1" r="0.9" fill="#c44644" opacity="0.88"/>
<circle cx="405.9" cy="461.2" r="0.65" fill="#c44644" opacity="0.88"/>
<circle cx="364.9" cy="463.7" r="0.4" fill="#ac2c32" opacity="0.88"/>
<circle cx="392.0" cy="385.4" r="0.4" fill="#b83236" opacity="0.88"/>
<circle cx="409.3" cy="474.8" r="0.4" fill="#b83236" opacity="0.88"/>
<circle cx="417.9" cy="407.1" r="0.75" fill="#b83236" opacity="0.88"/>
<circle cx="401.6" cy="441.1" r="0.65" fill="#c44644" opacity="0.88"/>
<circle cx="375.0" cy="456.7" r="0.5" fill="#c44644" opacity="0.88"/>
<circle cx="396.1" cy="461.0" r="0.5" fill="#b83236" opacity="0.88"/>
<circle cx="354.0" cy="398.5" r="0.75" fill="#b83236" opacity="0.88"/>
<circle cx="392.4" cy="400.7" r="0.4" fill="#ac2c32" opacity="0.88"/>
<circle cx="418.3" cy="402.7" r="0.75" fill="#c44644" opacity="0.88"/>
<circle cx="431.5" cy="401.0" r="0.55" fill="#ac2c32" opacity="0.88"/>
<circle cx="361.1" cy="427.8" r="0.5" fill="#ac2c32" opacity="0.88"/>
<circle cx="440.5" cy="385.9" r="0.65" fill="#b83236" opacity="0.88"/>
<circle cx="389.9" cy="442.7" r="0.9" fill="#ac2c32" opacity="0.88"/>
<circle cx="385.8" cy="396.5" r="0.65" fill="#b83236" opacity="0.88"/>
<circle cx="436.8" cy="420.7" r="0.4" fill="#b83236" opacity="0.88"/>
<circle cx="387.2" cy="478.8" r="0.75" fill="#ac2c32" opacity="0.88"/>
<circle cx="431.3" cy="425.5" r="0.4" fill="#c44644" opacity="0.88"/>
<circle cx="378.6" cy="477.2" r="0.9" fill="#c44644" opacity="0.88"/>
<circle cx="425.4" cy="458.0" r="0.5" fill="#b83236" opacity="0.88"/>
<circle cx="415.2" cy="428.5" r="0.9" fill="#ac2c32" opacity="0.88"/>
<circle cx="383.0" cy="428.8" r="0.5" fill="#b83236" opacity="0.88"/>
<circle cx="389.3" cy="464.3" r="0.55" fill="#c44644" opacity="0.88"/>
<circle cx="409.8" cy="469.9" r="0.5" fill="#ac2c32" opacity="0.88"/>
<circle cx="399.9" cy="468.4" r="0.65" fill="#c44644" opacity="0.88"/>
<circle cx="379.4" cy="470.8" r="0.5" fill="#ac2c32" opacity="0.88"/>
<circle cx="384.6" cy="396.1" r="0.55" fill="#ac2c32" opacity="0.88"/>
<circle cx="438.7" cy="433.4" r="0.5" fill="#b83236" opacity="0.88"/>
<circle cx="404.7" cy="421.4" r="0.75" fill="#c44644" opacity="0.88"/>
<circle cx="440.1" cy="435.4" r="0.4" fill="#c44644" opacity="0.88"/>
<circle cx="423.7" cy="453.9" r="0.9" fill="#c44644" opacity="0.88"/>
<circle cx="408.3" cy="395.8" r="0.65" fill="#c44644" opacity="0.88"/>
<circle cx="383.4" cy="428.9" r="0.65" fill="#b83236" opacity="0.88"/>
<circle cx="394.5" cy="475.2" r="0.9" fill="#b83236" opacity="0.88"/>
<circle cx="428.1" cy="426.2" r="0.55" fill="#ac2c32" opacity="0.88"/>
<circle cx="391.5" cy="480.9" r="0.4" fill="#ac2c32" opacity="0.88"/>
<circle cx="398.5" cy="438.9" r="0.75" fill="#b83236" opacity="0.88"/>
<circle cx="421.3" cy="476.2" r="0.65" fill="#ac2c32" opacity="0.88"/>
<circle cx="382.3" cy="435.3" r="0.65" fill="#ac2c32" opacity="0.88"/>
<circle cx="440.0" cy="428.8" r="0.4" fill="#ac2c32" opacity="0.88"/>
<circle cx="376.3" cy="429.9" r="0.75" fill="#c44644" opacity="0.88"/>
<circle cx="440.3" cy="426.9" r="0.4" fill="#b83236" opacity="0.88"/>
<circle cx="379.5" cy="440.4" r="0.75" fill="#b83236" opacity="0.88"/>
<circle cx="368.0" cy="408.9" r="0.65" fill="#b83236" opacity="0.88"/>
<circle cx="427.0" cy="395.2" r="0.5" fill="#b83236" opacity="0.88"/>
<circle cx="387.7" cy="427.6" r="0.4" fill="#c44644" opacity="0.88"/>
<circle cx="399.4" cy="478.2" r="0.75" fill="#c44644" opacity="0.88"/>
<circle cx="439.9" cy="472.5" r="0.75" fill="#ac2c32" opacity="0.88"/>
<circle cx="382.1" cy="401.5" r="0.9" fill="#b83236" opacity="0.88"/>
<circle cx="404.9" cy="471.3" r="0.75" fill="#b83236" opacity="0.88"/>
<circle cx="373.7" cy="455.9" r="0.75" fill="#b83236" opacity="0.88"/>
<circle cx="442.5" cy="397.7" r="0.75" fill="#b83236" opacity="0.88"/>
<circle cx="436.3" cy="429.8" r="0.55" fill="#ac2c32" opacity="0.88"/>
<circle cx="410.3" cy="385.0" r="0.4" fill="#ac2c32" opacity="0.88"/>
<circle cx="349.7" cy="408.4" r="0.75" fill="#b83236" opacity="0.88"/>
<circle cx="356.3" cy="402.6" r="0.75" fill="#b83236" opacity="0.88"/>
<circle cx="355.1" cy="430.9" r="0.75" fill="#ac2c32" opacity="0.88"/>
<circle cx="360.9" cy="447.7" r="0.5" fill="#c44644" opacity="0.88"/>
<circle cx="435.4" cy="424.0" r="0.9" fill="#ac2c32" opacity="0.88"/>
<circle cx="357.9" cy="396.5" r="0.65" fill="#b83236" opacity="0.88"/>
<circle cx="423.3" cy="387.5" r="0.5" fill="#b83236" opacity="0.88"/>
<circle cx="377.4" cy="431.2" r="0.75" fill="#c44644" opacity="0.88"/>
<circle cx="446.1" cy="481.9" r="0.5" fill="#c44644" opacity="0.88"/>
<circle cx="386.6" cy="401.3" r="0.9" fill="#ac2c32" opacity="0.88"/>
<circle cx="413.4" cy="441.5" r="0.9" fill="#ac2c32" opacity="0.88"/>
<circle cx="358.9" cy="445.7" r="0.55" fill="#c44644" opacity="0.88"/>
<circle cx="434.8" cy="437.1" r="0.75" fill="#c44644" opacity="0.88"/>
<circle cx="396.7" cy="459.7" r="0.55" fill="#b83236" opacity="0.88"/>
<circle cx="379.0" cy="396.6" r="0.55" fill="#c44644" opacity="0.88"/>
<circle cx="375.0" cy="426.3" r="0.9" fill="#ac2c32" opacity="0.88"/>
<circle cx="439.1" cy="395.2" r="0.4" fill="#b83236" opacity="0.88"/>
<circle cx="347.5" cy="434.6" r="0.4" fill="#ac2c32" opacity="0.88"/>
<circle cx="396.4" cy="393.0" r="0.75" fill="#c44644" opacity="0.88"/>
<circle cx="432.3" cy="454.6" r="0.9" fill="#b83236" opacity="0.88"/>
<circle cx="431.4" cy="480.1" r="0.9" fill="#b83236" opacity="0.88"/>
<circle cx="396.2" cy="479.2" r="0.5" fill="#ac2c32" opacity="0.88"/>
<circle cx="404.0" cy="436.6" r="0.65" fill="#c44644" opacity="0.88"/>
<circle cx="380.0" cy="442.7" r="0.4" fill="#ac2c32" opacity="0.88"/>
<circle cx="367.3" cy="405.5" r="0.65" fill="#ac2c32" opacity="0.88"/>
<circle cx="417.0" cy="472.2" r="0.75" fill="#ac2c32" opacity="0.88"/>
<circle cx="414.8" cy="437.9" r="0.75" fill="#ac2c32" opacity="0.88"/>
<circle cx="440.1" cy="437.6" r="0.9" fill="#b83236" opacity="0.88"/>
<circle cx="358.7" cy="448.1" r="0.4" fill="#ac2c32" opacity="0.88"/>
<circle cx="367.1" cy="476.5" r="0.55" fill="#c44644" opacity="0.88"/>
<circle cx="403.9" cy="387.7" r="0.75" fill="#ac2c32" opacity="0.88"/>
<circle cx="396.7" cy="430.0" r="0.4" fill="#c44644" opacity="0.88"/>
<circle cx="427.8" cy="426.5" r="0.55" fill="#b83236" opacity="0.88"/>
<circle cx="430.7" cy="446.7" r="0.65" fill="#c44644" opacity="0.88"/>
<circle cx="396.4" cy="471.1" r="0.65" fill="#b83236" opacity="0.88"/>
<circle cx="397.0" cy="402.2" r="0.5" fill="#ac2c32" opacity="0.88"/>
<circle cx="391.6" cy="412.0" r="0.65" fill="#c44644" opacity="0.88"/>
<circle cx="424.9" cy="421.1" r="0.4" fill="#c44644" opacity="0.88"/>
<circle cx="348.5" cy="399.9" r="0.9" fill="#c44644" opacity="0.88"/>
<circle cx="371.2" cy="478.5" r="0.4" fill="#b83236" opacity="0.88"/>
<circle cx="355.5" cy="416.2" r="0.4" fill="#b83236" opacity="0.88"/>
<circle cx="397.3" cy="423.1" r="0.4" fill="#ac2c32" opacity="0.88"/>
<circle cx="372.2" cy="456.1" r="0.5" fill="#ac2c32" opacity="0.88"/>
<circle cx="378.0" cy="479.1" r="0.65" fill="#b83236" opacity="0.88"/>
<circle cx="381.3" cy="454.6" r="0.65" fill="#c44644" opacity="0.88"/>
<circle cx="379.0" cy="451.6" r="0.65" fill="#ac2c32" opacity="0.88"/>
<circle cx="403.7" cy="452.0" r="0.55" fill="#c44644" opacity="0.88"/>
<circle cx="435.5" cy="461.8" r="0.65" fill="#c44644" opacity="0.88"/>
<circle cx="425.1" cy="443.4" r="0.65" fill="#b83236" opacity="0.88"/>
<circle cx="378.1" cy="412.5" r="0.55" fill="#ac2c32" opacity="0.88"/>
<circle cx="400.4" cy="446.4" r="0.9" fill="#c44644" opacity="0.88"/>
<circle cx="354.1" cy="419.7" r="0.4" fill="#ac2c32" opacity="0.88"/>
<circle cx="419.2" cy="403.4" r="0.75" fill="#c44644" opacity="0.88"/>
<circle cx="386.1" cy="451.2" r="0.9" fill="#b83236" opacity="0.88"/>
<circle cx="377.7" cy="440.0" r="0.4" fill="#b83236" opacity="0.88"/>
<circle cx="378.7" cy="440.0" r="0.65" fill="#c44644" opacity="0.88"/>
<circle cx="446.2" cy="427.5" r="0.9" fill="#c44644" opacity="0.88"/>
<circle cx="421.8" cy="434.2" r="0.55" fill="#ac2c32" opacity="0.88"/>
<circle cx="428.3" cy="452.3" r="0.75" fill="#ac2c32" opacity="0.88"/>
<circle cx="443.3" cy="402.7" r="0.65" fill="#ac2c32" opacity="0.88"/>
<circle cx="422.8" cy="452.6" r="0.5" fill="#b83236" opacity="0.88"/>
<circle cx="423.8" cy="452.9" r="0.9" fill="#ac2c32" opacity="0.88"/>
<circle cx="412.8" cy="483.9" r="0.75" fill="#ac2c32" opacity="0.88"/>
<circle cx="414.5" cy="426.3" r="0.65" fill="#c44644" opacity="0.88"/>
<circle cx="350.5" cy="442.0" r="0.5" fill="#ac2c32" opacity="0.88"/>
<circle cx="398.5" cy="451.1" r="0.55" fill="#ac2c32" opacity="0.88"/>
<circle cx="388.0" cy="441.1" r="0.5" fill="#b83236" opacity="0.88"/>
<circle cx="386.8" cy="447.4" r="0.65" fill="#b83236" opacity="0.88"/>
<circle cx="363.3" cy="466.8" r="0.75" fill="#b83236" opacity="0.88"/>
<circle cx="389.4" cy="482.2" r="0.65" fill="#c44644" opacity="0.88"/>
<circle cx="409.0" cy="388.8" r="0.65" fill="#b83236" opacity="0.88"/>
<circle cx="362.1" cy="389.2" r="0.9" fill="#b83236" opacity="0.88"/>
<circle cx="407.3" cy="414.2" r="0.75" fill="#c44644" opacity="0.88"/>
<circle cx="417.3" cy="467.0" r="0.5" fill="#b83236" opacity="0.88"/>
<circle cx="396.5" cy="479.9" r="0.5" fill="#b83236" opacity="0.88"/>
<circle cx="375.7" cy="449.6" r="0.75" fill="#ac2c32" opacity="0.88"/>
<circle cx="381.0" cy="399.9" r="0.75" fill="#c44644" opacity="0.88"/>
<circle cx="412.1" cy="438.2" r="0.75" fill="#c44644" opacity="0.88"/>
<circle cx="362.1" cy="394.7" r="0.9" fill="#c44644" opacity="0.88"/>
<circle cx="438.2" cy="466.6" r="0.5" fill="#b83236" opacity="0.88"/>
<circle cx="399.1" cy="462.6" r="0.5" fill="#c44644" opacity="0.88"/>
<circle cx="437.8" cy="453.4" r="0.5" fill="#ac2c32" opacity="0.88"/>
<circle cx="348.8" cy="474.5" r="0.55" fill="#ac2c32" opacity="0.88"/>
<circle cx="397.4" cy="396.4" r="0.55" fill="#ac2c32" opacity="0.88"/>
<circle cx="398.2" cy="397.7" r="0.65" fill="#ac2c32" opacity="0.88"/>
<circle cx="350.0" cy="405.5" r="0.4" fill="#ac2c32" opacity="0.88"/>
<circle cx="433.7" cy="424.8" r="0.4" fill="#c44644" opacity="0.88"/>
<circle cx="402.8" cy="464.8" r="0.75" fill="#c44644" opacity="0.88"/>
<circle cx="378.1" cy="460.9" r="0.55" fill="#b83236" opacity="0.88"/>
<circle cx="417.6" cy="386.7" r="0.75" fill="#ac2c32" opacity="0.88"/>
<circle cx="443.4" cy="413.2" r="0.55" fill="#c44644" opacity="0.88"/>
<circle cx="375.5" cy="391.3" r="0.75" fill="#b83236" opacity="0.88"/>
<circle cx="403.8" cy="478.1" r="0.65" fill="#c44644" opacity="0.88"/>
<circle cx="385.2" cy="435.6" r="0.65" fill="#b83236" opacity="0.88"/>
<circle cx="394.4" cy="466.5" r="0.4" fill="#b83236" opacity="0.88"/>
<circle cx="434.0" cy="396.8" r="0.5" fill="#ac2c32" opacity="0.88"/>
<circle cx="402.3" cy="385.3" r="0.9" fill="#c44644" opacity="0.88"/>
<circle cx="367.1" cy="481.2" r="0.9" fill="#c44644" opacity="0.88"/>
<circle cx="428.7" cy="403.4" r="0.5" fill="#b83236" opacity="0.88"/>
<circle cx="443.6" cy="468.7" r="0.55" fill="#c44644" opacity="0.88"/>
<circle cx="418.5" cy="442.7" r="0.4" fill="#b83236" opacity="0.88"/>
<circle cx="422.3" cy="407.0" r="0.5" fill="#ac2c32" opacity="0.88"/>
<circle cx="401.7" cy="426.3" r="0.55" fill="#c44644" opacity="0.88"/>
<circle cx="347.6" cy="456.9" r="0.55" fill="#ac2c32" opacity="0.88"/>
<circle cx="381.2" cy="482.1" r="0.65" fill="#b83236" opacity="0.88"/>
<circle cx="363.5" cy="483.8" r="0.9" fill="#c44644" opacity="0.88"/>
<circle cx="375.9" cy="394.3" r="0.75" fill="#b83236" opacity="0.88"/>
<circle cx="391.0" cy="475.2" r="0.5" fill="#ac2c32" opacity="0.88"/>
<circle cx="396.1" cy="445.3" r="0.75" fill="#ac2c32" opacity="0.88"/>
<circle cx="428.2" cy="463.7" r="0.65" fill="#ac2c32" opacity="0.88"/>
<circle cx="440.5" cy="469.6" r="0.4" fill="#c44644" opacity="0.88"/>
<circle cx="397.8" cy="397.0" r="0.5" fill="#b83236" opacity="0.88"/>
<circle cx="425.7" cy="421.8" r="0.55" fill="#b83236" opacity="0.88"/>
<circle cx="365.5" cy="426.3" r="0.5" fill="#c44644" opacity="0.88"/>
<circle cx="446.1" cy="482.3" r="0.75" fill="#b83236" opacity="0.88"/>
<circle cx="392.8" cy="439.1" r="0.55" fill="#c44644" opacity="0.88"/>
<circle cx="377.0" cy="411.8" r="0.65" fill="#c44644" opacity="0.88"/>
<circle cx="419.9" cy="477.2" r="0.55" fill="#ac2c32" opacity="0.88"/>
<circle cx="386.9" cy="424.9" r="0.5" fill="#c44644" opacity="0.88"/>
<circle cx="412.6" cy="391.4" r="0.4" fill="#ac2c32" opacity="0.88"/>
<circle cx="349.8" cy="390.4" r="0.65" fill="#c44644" opacity="0.88"/>
<circle cx="371.2" cy="440.1" r="0.65" fill="#b83236" opacity="0.88"/>
<circle cx="443.0" cy="387.4" r="0.65" fill="#ac2c32" opacity="0.88"/>
<circle cx="372.1" cy="456.1" r="0.9" fill="#b83236" opacity="0.88"/>
<circle cx="377.5" cy="395.5" r="0.65" fill="#c44644" opacity="0.88"/>
<circle cx="431.2" cy="452.0" r="0.65" fill="#ac2c32" opacity="0.88"/>
<circle cx="413.1" cy="427.9" r="0.75" fill="#c44644" opacity="0.88"/>
<circle cx="353.3" cy="454.7" r="0.4" fill="#ac2c32" opacity="0.88"/>
<circle cx="347.7" cy="455.9" r="0.4" fill="#c44644" opacity="0.88"/>
<circle cx="392.1" cy="476.9" r="0.5" fill="#c44644" opacity="0.88"/>
<circle cx="359.9" cy="395.4" r="0.4" fill="#ac2c32" opacity="0.88"/>
<circle cx="440.9" cy="465.3" r="0.5" fill="#c44644" opacity="0.88"/>
<circle cx="442.5" cy="457.3" r="0.55" fill="#ac2c32" opacity="0.88"/>
<circle cx="355.2" cy="424.7" r="0.55" fill="#b83236" opacity="0.88"/>
<circle cx="360.8" cy="402.8" r="0.5" fill="#ac2c32" opacity="0.88"/>
<circle cx="367.2" cy="432.7" r="0.4" fill="#ac2c32" opacity="0.88"/>
<circle cx="401.7" cy="426.4" r="0.65" fill="#c44644" opacity="0.88"/>
<circle cx="350.2" cy="400.0" r="0.75" fill="#b83236" opacity="0.88"/>
<circle cx="420.9" cy="459.0" r="0.65" fill="#b83236" opacity="0.88"/>
<circle cx="355.6" cy="427.3" r="0.4" fill="#b83236" opacity="0.88"/>
<circle cx="360.5" cy="456.7" r="0.65" fill="#c44644" opacity="0.88"/>
<circle cx="386.7" cy="420.3" r="0.75" fill="#c44644" opacity="0.88"/>
<circle cx="369.0" cy="473.1" r="0.5" fill="#b83236" opacity="0.88"/>
<circle cx="392.8" cy="396.8" r="0.75" fill="#ac2c32" opacity="0.88"/>
<circle cx="430.4" cy="472.0" r="0.9" fill="#b83236" opacity="0.88"/>
<circle cx="382.6" cy="405.3" r="0.55" fill="#b83236" opacity="0.88"/>
<circle cx="438.6" cy="427.5" r="0.9" fill="#b83236" opacity="0.88"/>
<circle cx="414.2" cy="460.8" r="0.65" fill="#b83236" opacity="0.88"/>
<circle cx="378.5" cy="403.9" r="0.5" fill="#b83236" opacity="0.88"/>
<circle cx="374.6" cy="445.7" r="0.75" fill="#ac2c32" opacity="0.88"/>
<circle cx="362.2" cy="470.0" r="0.55" fill="#ac2c32" opacity="0.88"/>
<circle cx="352.3" cy="472.7" r="0.9" fill="#c44644" opacity="0.88"/>
<circle cx="437.8" cy="455.5" r="0.9" fill="#c44644" opacity="0.88"/>
<circle cx="405.0" cy="473.2" r="0.9" fill="#ac2c32" opacity="0.88"/>
<circle cx="431.4" cy="456.7" r="0.65" fill="#b83236" opacity="0.88"/>
<circle cx="353.2" cy="390.5" r="0.5" fill="#b83236" opacity="0.88"/>
<circle cx="435.2" cy="479.1" r="0.65" fill="#ac2c32" opacity="0.88"/>
<circle cx="354.2" cy="408.5" r="0.5" fill="#ac2c32" opacity="0.88"/>
<circle cx="354.7" cy="410.2" r="0.65" fill="#ac2c32" opacity="0.88"/>
<circle cx="433.9" cy="439.9" r="0.65" fill="#c44644" opacity="0.88"/>
<circle cx="357.8" cy="460.5" r="0.9" fill="#c44644" opacity="0.88"/>
<circle cx="394.6" cy="400.2" r="0.65" fill="#ac2c32" opacity="0.88"/>
<circle cx="428.3" cy="400.4" r="0.9" fill="#b83236" opacity="0.88"/>
<circle cx="441.2" cy="478.8" r="0.55" fill="#b83236" opacity="0.88"/>
<circle cx="353.3" cy="479.0" r="0.75" fill="#b83236" opacity="0.88"/>
<circle cx="360.8" cy="429.9" r="0.9" fill="#b83236" opacity="0.88"/>
<circle cx="364.1" cy="450.6" r="0.65" fill="#c44644" opacity="0.88"/>
<circle cx="392.5" cy="413.6" r="0.55" fill="#c44644" opacity="0.88"/>
<circle cx="437.4" cy="404.2" r="0.65" fill="#c44644" opacity="0.88"/>
<circle cx="349.4" cy="474.6" r="0.55" fill="#b83236" opacity="0.88"/>
<circle cx="414.5" cy="400.5" r="0.55" fill="#b83236" opacity="0.88"/>
<circle cx="359.4" cy="426.3" r="0.65" fill="#c44644" opacity="0.88"/>
<circle cx="402.9" cy="434.7" r="0.75" fill="#c44644" opacity="0.88"/>
<circle cx="409.1" cy="445.8" r="0.9" fill="#c44644" opacity="0.88"/>
<circle cx="416.8" cy="461.4" r="0.55" fill="#c44644" opacity="0.88"/>
<circle cx="356.2" cy="388.3" r="0.75" fill="#b83236" opacity="0.88"/>
<circle cx="362.8" cy="466.3" r="0.5" fill="#b83236" opacity="0.88"/>
<circle cx="423.2" cy="469.7" r="0.65" fill="#b83236" opacity="0.88"/>
<circle cx="422.0" cy="388.0" r="0.75" fill="#ac2c32" opacity="0.88"/>
<circle cx="367.5" cy="453.3" r="0.75" fill="#c44644" opacity="0.88"/>
<circle cx="418.5" cy="454.5" r="0.55" fill="#b83236" opacity="0.88"/>
<circle cx="440.6" cy="444.6" r="0.75" fill="#ac2c32" opacity="0.88"/>
<circle cx="348.0" cy="460.9" r="0.9" fill="#b83236" opacity="0.88"/>
<circle cx="402.8" cy="408.4" r="0.75" fill="#b83236" opacity="0.88"/>
<circle cx="439.4" cy="404.4" r="0.55" fill="#ac2c32" opacity="0.88"/>
<circle cx="428.3" cy="470.1" r="0.75" fill="#c44644" opacity="0.88"/>
<circle cx="441.2" cy="419.4" r="0.5" fill="#ac2c32" opacity="0.88"/>
<circle cx="444.0" cy="391.0" r="0.65" fill="#c44644" opacity="0.88"/>
<circle cx="368.9" cy="478.0" r="0.5" fill="#b83236" opacity="0.88"/>
<circle cx="441.3" cy="479.8" r="0.75" fill="#ac2c32" opacity="0.88"/>
<circle cx="411.3" cy="479.6" r="0.4" fill="#c44644" opacity="0.88"/>
<circle cx="436.7" cy="412.7" r="0.65" fill="#c44644" opacity="0.88"/>
<circle cx="422.2" cy="466.4" r="0.65" fill="#b83236" opacity="0.88"/>
<circle cx="424.7" cy="406.2" r="0.75" fill="#b83236" opacity="0.88"/>
<circle cx="401.3" cy="473.7" r="0.65" fill="#c44644" opacity="0.88"/>
<circle cx="356.3" cy="418.5" r="0.55" fill="#c44644" opacity="0.88"/>
<circle cx="395.2" cy="438.0" r="0.75" fill="#ac2c32" opacity="0.88"/>
<circle cx="439.7" cy="419.2" r="0.75" fill="#ac2c32" opacity="0.88"/>
<circle cx="394.5" cy="481.8" r="0.9" fill="#c44644" opacity="0.88"/>
<circle cx="393.4" cy="462.9" r="0.55" fill="#c44644" opacity="0.88"/>
<circle cx="361.4" cy="459.3" r="0.4" fill="#ac2c32" opacity="0.88"/>
<circle cx="385.1" cy="448.3" r="0.9" fill="#c44644" opacity="0.88"/>
<circle cx="412.4" cy="478.1" r="0.4" fill="#ac2c32" opacity="0.88"/>
<circle cx="435.8" cy="475.7" r="0.5" fill="#b83236" opacity="0.88"/>
<circle cx="389.0" cy="462.3" r="0.65" fill="#b83236" opacity="0.88"/>
<circle cx="352.9" cy="471.2" r="0.5" fill="#c44644" opacity="0.88"/>
<circle cx="392.2" cy="447.4" r="0.4" fill="#b83236" opacity="0.88"/>
<circle cx="376.8" cy="400.1" r="0.65" fill="#b83236" opacity="0.88"/>
<circle cx="422.1" cy="436.0" r="0.55" fill="#b83236" opacity="0.88"/>
<circle cx="442.6" cy="385.3" r="0.65" fill="#ac2c32" opacity="0.88"/>
<circle cx="415.1" cy="398.9" r="0.55" fill="#b83236" opacity="0.88"/>
<circle cx="365.6" cy="427.3" r="0.55" fill="#b83236" opacity="0.88"/>
<circle cx="434.6" cy="482.5" r="0.65" fill="#ac2c32" opacity="0.88"/>
<circle cx="418.2" cy="420.0" r="0.65" fill="#c44644" opacity="0.88"/>
<circle cx="432.6" cy="436.7" r="0.65" fill="#ac2c32" opacity="0.88"/>
<circle cx="440.3" cy="478.0" r="0.5" fill="#c44644" opacity="0.88"/>
<circle cx="426.2" cy="428.7" r="0.75" fill="#b83236" opacity="0.88"/>
<circle cx="443.8" cy="435.6" r="0.65" fill="#c44644" opacity="0.88"/>
<circle cx="353.0" cy="442.4" r="0.5" fill="#c44644" opacity="0.88"/>
<circle cx="437.6" cy="401.3" r="0.9" fill="#ac2c32" opacity="0.88"/>
<circle cx="415.6" cy="462.0" r="0.4" fill="#b83236" opacity="0.88"/>
<circle cx="411.2" cy="472.1" r="0.55" fill="#b83236" opacity="0.88"/>
<circle cx="446.2" cy="448.0" r="0.9" fill="#c44644" opacity="0.88"/>
<circle cx="421.8" cy="416.1" r="0.75" fill="#ac2c32" opacity="0.88"/>
<circle cx="380.6" cy="422.9" r="0.4" fill="#ac2c32" opacity="0.88"/>
<circle cx="369.7" cy="408.0" r="0.4" fill="#ac2c32" opacity="0.88"/>
<circle cx="434.8" cy="460.4" r="0.65" fill="#c44644" opacity="0.88"/>
<circle cx="383.9" cy="391.9" r="0.5" fill="#c44644" opacity="0.88"/>
<circle cx="405.0" cy="412.8" r="0.65" fill="#b83236" opacity="0.88"/>
<circle cx="383.2" cy="469.0" r="0.5" fill="#ac2c32" opacity="0.88"/>
<circle cx="361.7" cy="425.0" r="0.4" fill="#c44644" opacity="0.88"/>
<circle cx="368.7" cy="467.0" r="0.9" fill="#ac2c32" opacity="0.88"/>
<circle cx="362.1" cy="399.7" r="0.65" fill="#c44644" opacity="0.88"/>
<circle cx="438.2" cy="404.5" r="0.5" fill="#c44644" opacity="0.88"/>
<circle cx="438.5" cy="390.6" r="0.9" fill="#b83236" opacity="0.88"/>
<circle cx="437.7" cy="459.8" r="0.65" fill="#b83236" opacity="0.88"/>
<circle cx="365.0" cy="401.3" r="0.65" fill="#c44644" opacity="0.88"/>
<circle cx="384.8" cy="387.0" r="0.9" fill="#ac2c32" opacity="0.88"/>
<circle cx="422.6" cy="471.4" r="0.4" fill="#b83236" opacity="0.88"/>
<circle cx="395.0" cy="471.2" r="0.5" fill="#c44644" opacity="0.88"/>
<circle cx="431.9" cy="457.0" r="0.4" fill="#c44644" opacity="0.88"/>
<circle cx="444.0" cy="386.0" r="0.4" fill="#ac2c32" opacity="0.88"/>
<circle cx="347.3" cy="431.0" r="0.65" fill="#b83236" opacity="0.88"/>
<circle cx="383.3" cy="450.6" r="0.65" fill="#c44644" opacity="0.88"/>
<circle cx="408.4" cy="410.8" r="0.75" fill="#b83236" opacity="0.88"/>
<circle cx="412.4" cy="391.8" r="0.5" fill="#b83236" opacity="0.88"/>
<circle cx="438.9" cy="408.3" r="0.4" fill="#b83236" opacity="0.88"/>
<circle cx="347.7" cy="482.3" r="0.5" fill="#ac2c32" opacity="0.88"/>
<circle cx="426.2" cy="453.9" r="0.9" fill="#b83236" opacity="0.88"/>
<circle cx="386.1" cy="388.7" r="0.5" fill="#ac2c32" opacity="0.88"/>
<circle cx="393.1" cy="466.3" r="0.5" fill="#ac2c32" opacity="0.88"/>
<circle cx="358.8" cy="427.8" r="0.5" fill="#ac2c32" opacity="0.88"/>
<circle cx="398.7" cy="415.4" r="0.65" fill="#ac2c32" opacity="0.88"/>
<circle cx="418.5" cy="464.5" r="0.9" fill="#b83236" opacity="0.88"/>
<circle cx="443.4" cy="480.1" r="0.65" fill="#ac2c32" opacity="0.88"/>
<circle cx="385.0" cy="435.4" r="0.65" fill="#b83236" opacity="0.88"/>
<circle cx="373.5" cy="387.2" r="0.55" fill="#ac2c32" opacity="0.88"/>
<circle cx="418.4" cy="428.6" r="0.5" fill="#ac2c32" opacity="0.88"/>
<circle cx="385.0" cy="460.9" r="0.75" fill="#b83236" opacity="0.88"/>
<circle cx="390.5" cy="437.4" r="0.9" fill="#b83236" opacity="0.88"/>
<circle cx="357.8" cy="424.8" r="0.5" fill="#b83236" opacity="0.88"/>
<circle cx="436.0" cy="474.1" r="0.4" fill="#ac2c32" opacity="0.88"/>
<circle cx="427.4" cy="410.6" r="0.55" fill="#c44644" opacity="0.88"/>
<circle cx="412.1" cy="407.1" r="0.4" fill="#c44644" opacity="0.88"/>
<circle cx="397.5" cy="436.3" r="0.4" fill="#b83236" opacity="0.88"/>
<circle cx="357.0" cy="451.8" r="0.65" fill="#ac2c32" opacity="0.88"/>
<circle cx="423.1" cy="385.4" r="0.4" fill="#b83236" opacity="0.88"/>
<circle cx="360.8" cy="398.4" r="0.65" fill="#b83236" opacity="0.88"/>
<circle cx="440.1" cy="466.1" r="0.4" fill="#c44644" opacity="0.88"/>
<circle cx="397.7" cy="473.5" r="0.65" fill="#ac2c32" opacity="0.88"/>
<circle cx="373.3" cy="425.1" r="0.75" fill="#ac2c32" opacity="0.88"/>
<circle cx="372.2" cy="389.3" r="0.9" fill="#ac2c32" opacity="0.88"/>
<circle cx="443.3" cy="480.0" r="0.4" fill="#b83236" opacity="0.88"/>
<circle cx="386.6" cy="453.6" r="0.75" fill="#c44644" opacity="0.88"/>
<circle cx="362.7" cy="416.0" r="0.4" fill="#c44644" opacity="0.88"/>
<circle cx="349.6" cy="386.9" r="0.65" fill="#ac2c32" opacity="0.88"/>
<circle cx="399.1" cy="467.0" r="0.5" fill="#c44644" opacity="0.88"/>
<circle cx="443.7" cy="425.0" r="0.75" fill="#c44644" opacity="0.88"/>
<circle cx="409.0" cy="438.4" r="0.5" fill="#ac2c32" opacity="0.88"/>
<circle cx="437.5" cy="445.5" r="0.5" fill="#c44644" opacity="0.88"/>
<circle cx="389.7" cy="450.6" r="0.65" fill="#ac2c32" opacity="0.88"/>
<circle cx="368.6" cy="403.5" r="0.75" fill="#c44644" opacity="0.88"/>
<circle cx="418.3" cy="467.6" r="0.4" fill="#c44644" opacity="0.88"/>
<circle cx="384.7" cy="482.8" r="0.5" fill="#ac2c32" opacity="0.88"/>
<circle cx="401.3" cy="395.6" r="0.75" fill="#ac2c32" opacity="0.88"/>
<circle cx="412.6" cy="467.1" r="0.9" fill="#b83236" opacity="0.88"/>
<circle cx="396.4" cy="417.4" r="0.55" fill="#ac2c32" opacity="0.88"/>
<circle cx="374.3" cy="387.5" r="0.65" fill="#ac2c32" opacity="0.88"/>
<circle cx="417.6" cy="434.1" r="0.4" fill="#c44644" opacity="0.88"/>
<circle cx="353.4" cy="473.9" r="0.9" fill="#c44644" opacity="0.88"/>
<circle cx="413.0" cy="393.6" r="0.9" fill="#ac2c32" opacity="0.88"/>
<circle cx="443.8" cy="393.4" r="0.5" fill="#ac2c32" opacity="0.88"/>
<circle cx="411.0" cy="415.6" r="0.5" fill="#ac2c32" opacity="0.88"/>
<circle cx="383.8" cy="463.6" r="0.55" fill="#b83236" opacity="0.88"/>
<circle cx="406.5" cy="402.2" r="0.65" fill="#ac2c32" opacity="0.88"/>
<circle cx="393.0" cy="470.6" r="0.75" fill="#c44644" opacity="0.88"/>
<circle cx="352.8" cy="389.2" r="0.9" fill="#ac2c32" opacity="0.88"/>
<circle cx="425.5" cy="399.4" r="0.9" fill="#ac2c32" opacity="0.88"/>
<circle cx="387.0" cy="408.1" r="0.75" fill="#b83236" opacity="0.88"/>
<circle cx="378.6" cy="431.1" r="0.9" fill="#b83236" opacity="0.88"/>
<circle cx="392.1" cy="473.8" r="0.55" fill="#c44644" opacity="0.88"/>
<circle cx="399.7" cy="414.8" r="0.5" fill="#b83236" opacity="0.88"/>
<circle cx="435.3" cy="422.5" r="0.65" fill="#ac2c32" opacity="0.88"/>
<circle cx="434.4" cy="395.8" r="0.9" fill="#ac2c32" opacity="0.88"/>
<circle cx="415.5" cy="445.0" r="0.65" fill="#b83236" opacity="0.88"/>
<circle cx="412.3" cy="387.6" r="0.65" fill="#ac2c32" opacity="0.88"/>
<circle cx="421.6" cy="397.2" r="0.75" fill="#c44644" opacity="0.88"/>
<circle cx="440.4" cy="427.5" r="0.5" fill="#b83236" opacity="0.88"/>
<circle cx="380.7" cy="413.0" r="0.65" fill="#ac2c32" opacity="0.88"/>
<circle cx="436.2" cy="404.7" r="0.75" fill="#c44644" opacity="0.88"/>
<circle cx="374.9" cy="395.7" r="0.5" fill="#c44644" opacity="0.88"/>
<circle cx="430.4" cy="389.4" r="0.9" fill="#c44644" opacity="0.88"/>
<circle cx="383.7" cy="471.5" r="0.4" fill="#c44644" opacity="0.88"/>
<circle cx="431.2" cy="437.0" r="0.75" fill="#c44644" opacity="0.88"/>
<circle cx="374.3" cy="460.0" r="0.9" fill="#b83236" opacity="0.88"/>
<circle cx="354.5" cy="462.1" r="0.75" fill="#b83236" opacity="0.88"/>
<circle cx="405.7" cy="440.2" r="0.55" fill="#c44644" opacity="0.88"/>
<circle cx="445.7" cy="482.7" r="0.9" fill="#ac2c32" opacity="0.88"/>
<circle cx="438.6" cy="458.7" r="0.65" fill="#b83236" opacity="0.88"/>
<circle cx="440.1" cy="437.0" r="0.65" fill="#ac2c32" opacity="0.88"/>
<circle cx="415.7" cy="468.6" r="0.55" fill="#b83236" opacity="0.88"/>
<circle cx="417.7" cy="474.4" r="0.4" fill="#c44644" opacity="0.88"/>
<circle cx="440.6" cy="389.2" r="0.9" fill="#c44644" opacity="0.88"/>
<circle cx="429.2" cy="460.7" r="0.5" fill="#c44644" opacity="0.88"/>
<circle cx="426.6" cy="421.9" r="0.4" fill="#ac2c32" opacity="0.88"/>
<circle cx="417.5" cy="439.1" r="0.65" fill="#ac2c32" opacity="0.88"/>
<circle cx="423.5" cy="389.8" r="0.4" fill="#ac2c32" opacity="0.88"/>
<circle cx="402.7" cy="474.6" r="0.75" fill="#ac2c32" opacity="0.88"/>
<circle cx="383.5" cy="463.0" r="0.9" fill="#ac2c32" opacity="0.88"/>
<circle cx="411.2" cy="392.4" r="0.9" fill="#ac2c32" opacity="0.88"/>
<circle cx="367.9" cy="454.7" r="0.55" fill="#c44644" opacity="0.88"/>
<circle cx="437.0" cy="402.7" r="0.5" fill="#c44644" opacity="0.88"/>
<circle cx="442.5" cy="420.5" r="0.65" fill="#b83236" opacity="0.88"/>
<circle cx="389.5" cy="449.3" r="0.65" fill="#ac2c32" opacity="0.88"/>
<circle cx="361.8" cy="437.7" r="0.9" fill="#c44644" opacity="0.88"/>
<circle cx="367.4" cy="465.2" r="0.55" fill="#c44644" opacity="0.88"/>
<circle cx="413.8" cy="438.5" r="0.65" fill="#b83236" opacity="0.88"/>
<circle cx="393.6" cy="430.2" r="0.75" fill="#ac2c32" opacity="0.88"/>
<circle cx="369.1" cy="480.0" r="0.4" fill="#ac2c32" opacity="0.88"/>
<circle cx="374.2" cy="453.5" r="0.75" fill="#c44644" opacity="0.88"/>
<circle cx="402.5" cy="468.1" r="0.9" fill="#b83236" opacity="0.88"/>
<circle cx="393.9" cy="473.4" r="0.65" fill="#c44644" opacity="0.88"/>
<circle cx="364.3" cy="416.4" r="0.75" fill="#c44644" opacity="0.88"/>
<circle cx="387.5" cy="419.3" r="0.9" fill="#ac2c32" opacity="0.88"/>
<circle cx="428.9" cy="389.8" r="0.55" fill="#ac2c32" opacity="0.88"/>
<circle cx="440.6" cy="397.5" r="0.55" fill="#ac2c32" opacity="0.88"/>
<circle cx="412.5" cy="461.5" r="0.4" fill="#c44644" opacity="0.88"/>
<circle cx="392.7" cy="423.5" r="0.4" fill="#c44644" opacity="0.88"/>
<circle cx="374.3" cy="388.3" r="0.5" fill="#b83236" opacity="0.88"/>
<circle cx="440.6" cy="470.0" r="0.5" fill="#c44644" opacity="0.88"/>
<circle cx="395.6" cy="393.8" r="0.5" fill="#c44644" opacity="0.88"/>
<circle cx="367.8" cy="479.0" r="0.55" fill="#b83236" opacity="0.88"/>
<circle cx="441.9" cy="431.4" r="0.55" fill="#ac2c32" opacity="0.88"/>
<circle cx="400.5" cy="443.1" r="0.4" fill="#ac2c32" opacity="0.88"/>
<circle cx="374.4" cy="392.8" r="0.9" fill="#b83236" opacity="0.88"/>
<circle cx="415.8" cy="400.8" r="0.75" fill="#ac2c32" opacity="0.88"/>
<circle cx="374.3" cy="451.9" r="0.5" fill="#ac2c32" opacity="0.88"/>
<circle cx="355.7" cy="470.0" r="0.5" fill="#ac2c32" opacity="0.88"/>
<circle cx="395.1" cy="455.2" r="0.75" fill="#b83236" opacity="0.88"/>
<circle cx="390.2" cy="394.2" r="0.4" fill="#ac2c32" opacity="0.88"/>
<circle cx="363.0" cy="445.4" r="0.75" fill="#ac2c32" opacity="0.88"/>
<circle cx="430.2" cy="431.3" r="0.4" fill="#c44644" opacity="0.88"/>
<circle cx="442.5" cy="452.4" r="0.9" fill="#c44644" opacity="0.88"/>
<circle cx="404.4" cy="482.6" r="0.65" fill="#c44644" opacity="0.88"/>
<circle cx="436.1" cy="402.3" r="0.4" fill="#b83236" opacity="0.88"/>
<circle cx="356.7" cy="387.0" r="0.55" fill="#ac2c32" opacity="0.88"/>
<circle cx="442.7" cy="441.1" r="0.55" fill="#b83236" opacity="0.88"/>
<circle cx="376.8" cy="462.7" r="0.75" fill="#ac2c32" opacity="0.88"/>
<circle cx="395.3" cy="474.7" r="0.9" fill="#b83236" opacity="0.88"/>
<circle cx="445.0" cy="414.0" r="0.5" fill="#c44644" opacity="0.88"/>
<circle cx="416.4" cy="439.8" r="0.4" fill="#ac2c32" opacity="0.88"/>
<circle cx="390.8" cy="449.6" r="0.65" fill="#b83236" opacity="0.88"/>
<circle cx="353.8" cy="437.4" r="0.9" fill="#b83236" opacity="0.88"/>
<circle cx="429.5" cy="408.6" r="0.9" fill="#c44644" opacity="0.88"/>
<circle cx="396.3" cy="394.5" r="0.5" fill="#ac2c32" opacity="0.88"/>
<circle cx="437.0" cy="473.2" r="0.75" fill="#b83236" opacity="0.88"/>
<circle cx="418.0" cy="450.2" r="0.9" fill="#ac2c32" opacity="0.88"/>
<circle cx="349.6" cy="418.9" r="0.5" fill="#c44644" opacity="0.88"/>
<circle cx="375.1" cy="430.1" r="0.4" fill="#c44644" opacity="0.88"/>
<circle cx="390.3" cy="421.4" r="0.55" fill="#ac2c32" opacity="0.88"/>
<circle cx="441.9" cy="415.7" r="0.65" fill="#b83236" opacity="0.88"/>
<circle cx="366.2" cy="444.5" r="0.5" fill="#c44644" opacity="0.88"/>
<circle cx="443.9" cy="404.5" r="0.9" fill="#ac2c32" opacity="0.88"/>
<circle cx="443.7" cy="443.1" r="0.9" fill="#b83236" opacity="0.88"/>
<circle cx="374.1" cy="395.2" r="0.4" fill="#b83236" opacity="0.88"/>
<circle cx="395.9" cy="479.7" r="0.5" fill="#ac2c32" opacity="0.88"/>
<circle cx="441.3" cy="428.1" r="0.4" fill="#b83236" opacity="0.88"/>
<circle cx="419.7" cy="427.1" r="0.9" fill="#ac2c32" opacity="0.88"/>
<circle cx="409.7" cy="459.0" r="0.9" fill="#ac2c32" opacity="0.88"/>
<circle cx="434.2" cy="395.6" r="0.5" fill="#b83236" opacity="0.88"/>
<circle cx="352.3" cy="428.4" r="0.65" fill="#b83236" opacity="0.88"/>
<circle cx="426.5" cy="423.1" r="0.75" fill="#c44644" opacity="0.88"/>
<circle cx="421.3" cy="451.6" r="0.9" fill="#ac2c32" opacity="0.88"/>
<circle cx="423.5" cy="450.9" r="0.55" fill="#ac2c32" opacity="0.88"/>
<circle cx="370.2" cy="414.0" r="0.55" fill="#b83236" opacity="0.88"/>
<circle cx="430.9" cy="474.6" r="0.65" fill="#b83236" opacity="0.88"/>
<circle cx="423.7" cy="483.5" r="0.9" fill="#ac2c32" opacity="0.88"/>
<circle cx="421.5" cy="459.3" r="0.75" fill="#ac2c32" opacity="0.88"/>
<circle cx="417.1" cy="463.4" r="0.75" fill="#ac2c32" opacity="0.88"/>
<circle cx="400.2" cy="435.8" r="0.75" fill="#b83236" opacity="0.88"/>
<circle cx="437.5" cy="471.3" r="0.75" fill="#b83236" opacity="0.88"/>
<circle cx="434.8" cy="445.0" r="0.75" fill="#c44644" opacity="0.88"/>
<circle cx="395.6" cy="453.6" r="0.75" fill="#ac2c32" opacity="0.88"/>
<circle cx="379.4" cy="440.5" r="0.55" fill="#b83236" opacity="0.88"/>
<circle cx="396.7" cy="400.6" r="0.4" fill="#ac2c32" opacity="0.88"/>
<circle cx="357.3" cy="400.0" r="0.4" fill="#b83236" opacity="0.88"/>
<circle cx="376.2" cy="431.8" r="0.9" fill="#c44644" opacity="0.88"/>
<circle cx="407.0" cy="473.0" r="0.65" fill="#ac2c32" opacity="0.88"/>
<circle cx="383.7" cy="397.2" r="0.5" fill="#b83236" opacity="0.88"/>
<circle cx="369.8" cy="472.8" r="0.5" fill="#b83236" opacity="0.88"/>
<circle cx="383.6" cy="396.1" r="0.5" fill="#c44644" opacity="0.88"/>
<circle cx="429.4" cy="425.0" r="0.55" fill="#c44644" opacity="0.88"/>
<circle cx="444.8" cy="399.3" r="0.65" fill="#c44644" opacity="0.88"/>
<circle cx="395.0" cy="411.6" r="0.55" fill="#b83236" opacity="0.88"/>
<circle cx="369.6" cy="483.0" r="0.65" fill="#ac2c32" opacity="0.88"/>
<circle cx="383.1" cy="481.3" r="0.9" fill="#ac2c32" opacity="0.88"/>
<circle cx="381.0" cy="436.4" r="0.55" fill="#c44644" opacity="0.88"/>
<circle cx="363.9" cy="477.8" r="0.55" fill="#ac2c32" opacity="0.88"/>
<circle cx="359.6" cy="421.5" r="0.75" fill="#c44644" opacity="0.88"/>
<circle cx="441.1" cy="426.8" r="0.75" fill="#ac2c32" opacity="0.88"/>
<circle cx="444.1" cy="478.2" r="0.5" fill="#b83236" opacity="0.88"/>
<circle cx="364.6" cy="447.0" r="0.65" fill="#ac2c32" opacity="0.88"/>
<circle cx="412.0" cy="411.2" r="0.9" fill="#ac2c32" opacity="0.88"/>
<circle cx="423.3" cy="467.3" r="0.5" fill="#ac2c32" opacity="0.88"/>
<circle cx="357.7" cy="475.2" r="0.65" fill="#ac2c32" opacity="0.88"/>
<circle cx="385.3" cy="408.1" r="0.65" fill="#b83236" opacity="0.88"/>
<circle cx="369.2" cy="393.4" r="0.75" fill="#ac2c32" opacity="0.88"/>
<circle cx="385.3" cy="397.5" r="0.55" fill="#ac2c32" opacity="0.88"/>
<circle cx="408.7" cy="432.5" r="0.75" fill="#b83236" opacity="0.88"/>
<circle cx="380.0" cy="424.8" r="0.65" fill="#c44644" opacity="0.88"/>
<circle cx="424.5" cy="395.1" r="0.5" fill="#c44644" opacity="0.88"/>
<circle cx="361.1" cy="429.4" r="0.65" fill="#ac2c32" opacity="0.88"/>
<circle cx="390.7" cy="392.9" r="0.55" fill="#ac2c32" opacity="0.88"/>
<circle cx="416.5" cy="389.8" r="0.4" fill="#b83236" opacity="0.88"/>
<circle cx="350.7" cy="419.4" r="0.75" fill="#ac2c32" opacity="0.88"/>
<circle cx="437.3" cy="432.8" r="0.9" fill="#ac2c32" opacity="0.88"/>
<circle cx="418.2" cy="411.7" r="0.55" fill="#b83236" opacity="0.88"/>
<circle cx="420.0" cy="472.4" r="0.75" fill="#c44644" opacity="0.88"/>
<circle cx="395.2" cy="405.2" r="0.65" fill="#b83236" opacity="0.88"/>
<circle cx="362.3" cy="430.7" r="0.4" fill="#b83236" opacity="0.88"/>
<circle cx="353.3" cy="466.9" r="0.55" fill="#b83236" opacity="0.88"/>
<circle cx="391.8" cy="481.0" r="0.9" fill="#b83236" opacity="0.88"/>
<circle cx="419.9" cy="444.0" r="0.55" fill="#ac2c32" opacity="0.88"/>
<circle cx="369.2" cy="468.9" r="0.55" fill="#c44644" opacity="0.88"/>
<circle cx="439.6" cy="473.5" r="0.55" fill="#ac2c32" opacity="0.88"/>
<circle cx="405.1" cy="412.5" r="0.9" fill="#b83236" opacity="0.88"/>
<circle cx="426.9" cy="470.5" r="0.5" fill="#ac2c32" opacity="0.88"/>
<circle cx="415.3" cy="446.8" r="0.55" fill="#b83236" opacity="0.88"/>
<circle cx="418.0" cy="461.1" r="0.4" fill="#ac2c32" opacity="0.88"/>
<circle cx="400.7" cy="442.2" r="0.5" fill="#b83236" opacity="0.88"/>
<circle cx="399.4" cy="405.3" r="0.75" fill="#c44644" opacity="0.88"/>
<circle cx="356.8" cy="432.4" r="0.4" fill="#c44644" opacity="0.88"/>
<circle cx="390.5" cy="441.5" r="0.5" fill="#b83236" opacity="0.88"/>
<circle cx="408.8" cy="398.0" r="0.55" fill="#b83236" opacity="0.88"/>
<circle cx="410.1" cy="460.9" r="0.5" fill="#ac2c32" opacity="0.88"/>
<circle cx="347.1" cy="452.8" r="0.4" fill="#b83236" opacity="0.88"/>
<circle cx="366.0" cy="430.2" r="0.5" fill="#ac2c32" opacity="0.88"/>
<circle cx="433.2" cy="458.4" r="0.5" fill="#c44644" opacity="0.88"/>
<circle cx="349.4" cy="467.5" r="0.9" fill="#c44644" opacity="0.88"/>
<circle cx="369.0" cy="420.9" r="0.55" fill="#c44644" opacity="0.88"/>
<circle cx="353.8" cy="420.6" r="0.4" fill="#c44644" opacity="0.88"/>
<circle cx="390.7" cy="468.0" r="0.75" fill="#ac2c32" opacity="0.88"/>
<circle cx="388.7" cy="472.1" r="0.4" fill="#b83236" opacity="0.88"/>
<circle cx="441.2" cy="410.9" r="0.75" fill="#c44644" opacity="0.88"/>
<circle cx="401.9" cy="447.6" r="0.55" fill="#ac2c32" opacity="0.88"/>
<circle cx="439.8" cy="456.0" r="0.4" fill="#b83236" opacity="0.88"/>
<circle cx="383.9" cy="450.9" r="0.5" fill="#b83236" opacity="0.88"/>
<circle cx="365.3" cy="392.3" r="0.75" fill="#b83236" opacity="0.88"/>
<circle cx="406.8" cy="468.1" r="0.4" fill="#ac2c32" opacity="0.88"/>
<circle cx="363.8" cy="389.3" r="0.65" fill="#ac2c32" opacity="0.88"/>
<circle cx="389.6" cy="466.8" r="0.4" fill="#c44644" opacity="0.88"/>
<circle cx="394.5" cy="420.3" r="0.55" fill="#ac2c32" opacity="0.88"/>
<circle cx="367.1" cy="417.3" r="0.65" fill="#ac2c32" opacity="0.88"/>
<circle cx="369.5" cy="403.0" r="0.9" fill="#c44644" opacity="0.88"/>
<circle cx="421.3" cy="411.0" r="0.4" fill="#b83236" opacity="0.88"/>
<circle cx="385.7" cy="400.2" r="0.4" fill="#ac2c32" opacity="0.88"/>
<circle cx="407.6" cy="475.1" r="0.9" fill="#c44644" opacity="0.88"/>
<circle cx="392.6" cy="421.4" r="0.65" fill="#b83236" opacity="0.88"/>
<circle cx="407.3" cy="421.6" r="0.9" fill="#c44644" opacity="0.88"/>
<circle cx="406.5" cy="475.9" r="0.4" fill="#b83236" opacity="0.88"/>
<circle cx="412.7" cy="389.0" r="0.55" fill="#b83236" opacity="0.88"/>
<circle cx="419.2" cy="453.4" r="0.5" fill="#c44644" opacity="0.88"/>
<circle cx="368.5" cy="393.5" r="1.9" fill="#fcf5f2"/>
<circle cx="377.5" cy="410" r="1.8" fill="#fcf5f2"/>
<circle cx="387.5" cy="415.5" r="1.7" fill="#fcf5f2"/>
<circle cx="365.5" cy="409.5" r="1.3" fill="#fcf5f2"/>
<circle cx="400" cy="425" r="1.1" fill="#fcf5f2"/>
<circle cx="384.5" cy="450" r="1.4" fill="#fcf5f2"/>
<circle cx="436.5" cy="450.5" r="1.2" fill="#fcf5f2"/>
<circle cx="385" cy="472" r="1.3" fill="#fcf5f2"/>
<circle cx="392" cy="483" r="1.2" fill="#fcf5f2"/>
<circle cx="431" cy="396" r="1.0" fill="#fcf5f2"/>
<circle cx="352" cy="418" r="1.0" fill="#fcf5f2"/>
</g></g>
<line x1="313.30" y1="372.80" x2="341.30" y2="372.80" stroke="#000" stroke-width="1.7" />
<line x1="415.30" y1="373.00" x2="442.80" y2="373.00" stroke="#000" stroke-width="1.4" />
<line x1="313.60" y1="473.30" x2="341.20" y2="473.30" stroke="#000" stroke-width="1.7" />
<line x1="414.30" y1="473.20" x2="441.80" y2="473.20" stroke="#000" stroke-width="1.4" />
<text x="327.00" y="370.60" font-size="7.6" text-anchor="middle" font-weight="bold" fill="#e6c45a" >200 µm</text>
<text x="327.00" y="471.10" font-size="7.6" text-anchor="middle" font-weight="bold" fill="#e6c45a" >200 µm</text>
</g>
</svg>
</body></html>
